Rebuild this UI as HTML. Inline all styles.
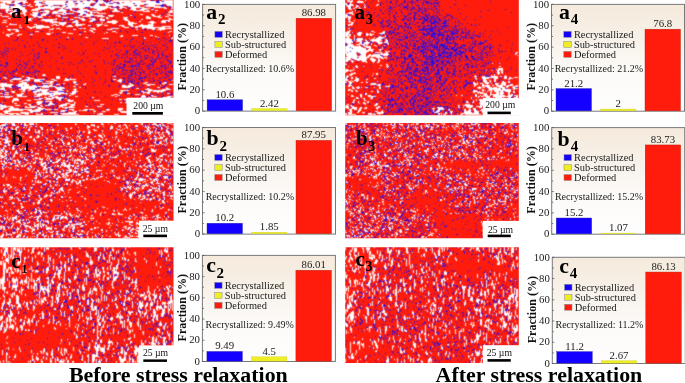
<!DOCTYPE html>
<html><head><meta charset="utf-8"><style>
html,body{margin:0;padding:0;background:#fff;}
svg{display:block;will-change:transform;}
text{font-family:"Liberation Serif",serif;fill:#111;}
.v{font-size:10.8px;fill:#1a1a1a;}
.t{font-size:10.8px;fill:#1a1a1a;}
.l{font-size:10.4px;fill:#1a1a1a;}
.r{font-size:10px;fill:#1a1a1a;}
.pl{font-size:21.8px;font-weight:bold;fill:#000;}
.ps{font-size:15px;font-weight:bold;fill:#000;}
.ml{font-size:21px;font-weight:bold;fill:#000;}
.ms{font-size:14.5px;font-weight:bold;fill:#000;}
.ms1{font-size:13.5px;font-weight:bold;fill:#000;}
.yt{font-size:12.1px;font-weight:bold;fill:#111;}
.cap{font-size:21.9px;font-weight:bold;fill:#000;}
.sb{font-size:9.7px;fill:#111;}
</style></head><body>
<svg width="685" height="383" viewBox="0 0 685 383">
<defs><filter id="sblr" x="-2%" y="-2%" width="104%" height="104%" color-interpolation-filters="sRGB"><feConvolveMatrix order="3" kernelMatrix="1 2 1 2 8 2 1 2 1" divisor="20" edgeMode="duplicate"/></filter><linearGradient id="bg" x1="0" y1="0" x2="0" y2="1">
<stop offset="0" stop-color="#f5eadc"/><stop offset="0.35" stop-color="#f8f2ea"/><stop offset="0.62" stop-color="#fcfaf7"/><stop offset="1" stop-color="#fefefe"/></linearGradient></defs>
<rect width="685" height="383" fill="#fff"/>
<clipPath id="cpa1"><rect x="0" y="0" width="173.50" height="115.30"/></clipPath>
<g clip-path="url(#cpa1)"><g filter="url(#sblr)">
<rect x="-2" y="-2" width="177.50" height="119.30" fill="#ff1c0c"/>
<path d="M0 0.5h27m8 0h52m3 0h3m5 0h5m6 0h1m3 0h37m12 0h11M0 1.5h12m3 0h11m8 0h9m2 0h21m2 0h5m4 0h3m3 0h12m3 0h6m7 0h19m1 0h10m5 0h10m3 0h3m2 0h9M3 2.5h8m3 0h6m3 0h5m6 0h5m4 0h22m3 0h28m1 0h9m2 0h5m6 0h3m2 0h32m4 0h13M0 3.5h5m2 0h11m5 0h2m11 0h5m4 0h29m4 0h5m1 0h7m5 0h7m1 0h5m4 0h4m3 0h13m2 0h38M0 4.5h6m9 0h5m9 0h2m4 0h10m1 0h19m2 0h9m1 0h13m5 0h4m6 0h39m4 0h14m4 0h7M0 5.5h9m6 0h6m1 0h4m1 0h3m5 0h7m6 0h5m10 0h12m1 0h14m4 0h6m6 0h28m3 0h3m5 0h10m12 0h6M0 6.5h22m8 0h3m5 0h2m4 0h7m1 0h8m2 0h4m2 0h40m5 0h3m3 0h4m5 0h12m4 0h1m1 0h15m10 0h2M0 7.5h9m2 0h14m13 0h27m1 0h19m5 0h21m9 0h6m5 0h13m10 0h12m6 0h1M0 8.5h25m10 0h20m6 0h2m2 0h7m7 0h4m11 0h13m3 0h7m2 0h3m4 0h1m4 0h5m6 0h8m14 0h3m4 0h2M6 9.5h3m7 0h10m6 0h8m10 0h4m5 0h6m5 0h2m8 0h8m9 0h8m9 0h3m13 0h6m4 0h7m4 0h3M5 10.5h11m6 0h5m4 0h7m6 0h5m9 0h9m3 0h4m4 0h12m2 0h10m11 0h5m15 0h11m3 0h2m6 0h3m12 0h3M6 11.5h2m5 0h4m5 0h5m10 0h1m2 0h10m3 0h13m7 0h11m3 0h5m20 0h8m23 0h7m19 0h4M6 12.5h2m2 0h5m8 0h3m6 0h7m7 0h3m3 0h6m5 0h3m11 0h9m4 0h9m22 0h2m32 0h1m12 0h5M0 13.5h2m6 0h6m1 0h10m8 0h5m5 0h6m3 0h12m1 0h9m6 0h8m2 0h2m6 0h8M10 14.5h3m3 0h2m6 0h2m4 0h8m3 0h6m15 0h4m14 0h3m3 0h7m47 0h3m8 0h3m13 0h3M0 15.5h2m11 0h1m10 0h2m6 0h5m4 0h5m10 0h4m18 0h4m4 0h17m5 0h6m16 0h2m20 0h3m4 0h2m8 0h4M2 16.5h7m3 0h2m19 0h9m7 0h1m8 0h3m21 0h9m6 0h8m4 0h4m33 0h3m4 0h7m5 0h4M34 17.5h1m3 0h5m19 0h6m6 0h6m22 0h1m3 0h2m15 0h5m18 0h5m7 0h4M8 18.5h3m18 0h4m23 0h1m22 0h5m5 0h6m5 0h2m4 0h3m15 0h3m19 0h5m17 0h3M27 19.5h4m11 0h15m5 0h1m7 0h4m7 0h5m6 0h4m4 0h5m18 0h5m13 0h2m26 0h4M3 20.5h4m21 0h4m9 0h12m22 0h3m4 0h3m5 0h5m5 0h5m7 0h4m9 0h4m33 0h8M45 21.5h12m16 0h5m11 0h4m14 0h11m10 0h2m9 0h2m9 0h4m7 0h5m2 0h2M2 22.5h5m43 0h17m5 0h7m22 0h2m4 0h10m11 0h6m14 0h8m5 0h5M10 23.5h1m41 0h1m6 0h7m10 0h2m27 0h1m6 0h4m12 0h9m14 0h3M9 24.5h8m17 0h3m16 0h4m2 0h6m10 0h10m11 0h7m25 0h5m8 0h2m5 0h5M19 25.5h2m15 0h8m7 0h2m3 0h3m3 0h2m4 0h4m3 0h7m6 0h3m6 0h4m3 0h4m11 0h5m5 0h4m6 0h15M6 26.5h2m19 0h2m4 0h16m17 0h7m4 0h1m19 0h2m23 0h3m6 0h3m1 0h18m9 0h9M19 27.5h3m6 0h7m1 0h14m74 0h5m6 0h3m4 0h23m4 0h1M30 28.5h2m4 0h6m10 0h2m2 0h4m19 0h3m1 0h3m4 0h5m16 0h8m23 0h2m3 0h8m4 0h13M7 29.5h4m1 0h6m31 0h4m7 0h1m12 0h3m17 0h3m11 0h5m24 0h2m14 0h3m2 0h8M8 30.5h3m5 0h3m70 0h4m67 0h1M15 31.5h4m16 0h4m10 0h1m34 0h2m5 0h2m19 0h4m53 0h3M3 32.5h1m48 0h1m9 0h4m27 0h2m11 0h2m8 0h1m51 0h1M11 33.5h3m32 0h5m17 0h5m31 0h1M6 34.5h6m6 0h4m8 0h3m14 0h3m29 0h2M6 35.5h3m8 0h2m102 0h2m9 0h6m12 0h3m16 0h1M8 36.5h2m110 0h3m32 0h2M67 37.5h2m16 0h3m56 0h1m13 0h1m13 0h1M102 38.5h7m35 0h2m25 0h2M16 73.5h1M36 74.5h1m6 0h2M42 75.5h4M22 76.5h2m32 0h4m53 0h3M3 77.5h3m20 0h4m26 0h4M5 78.5h2m6 0h9m6 0h6m22 0h4m5 0h2m3 0h1M11 79.5h10m4 0h5m4 0h11m6 0h4m10 0h11m37 0h3m3 0h3M10 80.5h1m11 0h8m4 0h6m14 0h3m7 0h5m48 0h5m50 0h1M10 81.5h3m6 0h4m4 0h1m6 0h9m3 0h8m19 0h3m42 0h4M22 82.5h5m23 0h3m20 0h4m43 0h1m24 0h3m16 0h3M0 83.5h7m12 0h8m15 0h10m11 0h2m9 0h1m10 0h1m43 0h2m12 0h3m16 0h4M0 84.5h13m5 0h11m22 0h2m3 0h4m15 0h3m5 0h3m44 0h3m13 0h9m8 0h1m5 0h4M0 85.5h12m4 0h7m1 0h5m3 0h4m7 0h5m1 0h3m70 0h4m2 0h6m13 0h3m10 0h1M0 86.5h11m7 0h38m4 0h1m12 0h3m46 0h10M2 87.5h2m5 0h3m9 0h16m5 0h7m6 0h9m15 0h2m41 0h8m27 0h3m6 0h1M0 88.5h5m16 0h14m5 0h1m15 0h9m10 0h1m60 0h3m8 0h2m17 0h3M0 89.5h5m6 0h1m7 0h7m3 0h7m1 0h12m8 0h5m11 0h4m68 0h7m10 0h9M4 90.5h2m17 0h2m3 0h2m6 0h12m9 0h7m3 0h1m6 0h2m44 0h9m19 0h18M11 91.5h4m6 0h4m8 0h7m1 0h6m2 0h9m9 0h1m4 0h6m43 0h2m18 0h3m4 0h3m2 0h11M5 92.5h4m3 0h3m18 0h4m5 0h7m5 0h10m8 0h4m43 0h3m21 0h7m7 0h2m2 0h1M0 93.5h3m18 0h3m11 0h1m2 0h30m2 0h6m44 0h2m5 0h3m13 0h1m3 0h3m17 0h3M4 94.5h5m7 0h7m11 0h18m1 0h8m5 0h1m4 0h3m40 0h4m17 0h5M17 95.5h5m15 0h5m3 0h1m4 0h5m14 0h2m40 0h3m4 0h2m22 0h3m6 0h2M0 96.5h13m4 0h10m7 0h6m8 0h5m2 0h3m17 0h3m37 0h2m24 0h5m6 0h5m10 0h6M5 97.5h5m34 0h3m5 0h12m28 0h2m47 0h5m2 0h3m12 0h8M13 98.5h5m21 0h4m3 0h8m2 0h6m3 0h2m95 0h8M13 99.5h6m15 0h7m4 0h7m6 0h3m7 0h2m49 0h3m2 0h4m5 0h2m17 0h3m5 0h5m4 0h4M12 100.5h7m8 0h4m28 0h2m6 0h7m20 0h6m26 0h7m3 0h2m11 0h3m9 0h12M12 101.5h2m23 0h6m2 0h7m16 0h5m53 0h2m1 0h5m15 0h1m3 0h4m5 0h5M2 102.5h1m9 0h1m23 0h6m8 0h2m22 0h2m44 0h2m3 0h5m5 0h1m9 0h23M14 103.5h3m7 0h3m10 0h5m7 0h4m12 0h5m4 0h1m58 0h2m10 0h14m11 0h3M0 104.5h2m26 0h3m6 0h3m8 0h7m6 0h6m3 0h5m25 0h4m39 0h6m9 0h8M0 105.5h6m9 0h5m9 0h2m9 0h2m3 0h5m9 0h8m4 0h4m54 0h9m4 0h7m8 0h7m3 0h3M0 106.5h13m12 0h2m3 0h7m4 0h2m16 0h4m6 0h4m12 0h3m9 0h5m29 0h8m1 0h5m14 0h4m6 0h1M0 107.5h7m3 0h4m11 0h10m2 0h4m18 0h1m2 0h13m57 0h6m4 0h1m4 0h2m3 0h1m3 0h5m5 0h4M0 108.5h4m4 0h11m19 0h7m20 0h2m51 0h5m15 0h5m2 0h4m2 0h4m14 0h4M0 109.5h3m6 0h23m3 0h8m2 0h7m2 0h4m11 0h5m10 0h4m1 0h5m12 0h4m8 0h5m28 0h8m3 0h5M5 110.5h18m5 0h13m20 0h6m5 0h2m5 0h2m1 0h5m7 0h1m12 0h2m9 0h3m15 0h6m7 0h10m4 0h7M3 111.5h8m19 0h10m20 0h5m9 0h3m16 0h3m6 0h4m14 0h7m10 0h3m8 0h23M4 112.5h4m12 0h9m1 0h3m17 0h8m10 0h8m45 0h6m7 0h7m6 0h3m7 0h3m8 0h5M0 113.5h2m3 0h14m2 0h8m7 0h1m4 0h2m17 0h16m18 0h1m4 0h4m37 0h4m8 0h8m9 0h4M0 114.5h5m4 0h5m2 0h5m4 0h4m7 0h7m11 0h4m4 0h17m18 0h6m11 0h5m11 0h7m2 0h20m11 0h3" stroke="#fff" stroke-width="1" fill="none"/>
<path d="M27 0.5h1m59 0h3m6 0h2m5 0h1m1 0h1m1 0h1m2 0h1m40 0h3m3 0h2M13 1.5h1m15 0h1m36 0h2m5 0h3m4 0h2m13 0h3m6 0h2m1 0h2m1 0h1m34 0h1m10 0h3m3 0h2M13 2.5h1m7 0h1m17 0h2m65 0h1m7 0h1m2 0h1m38 0h4M18 3.5h4m13 0h1m8 0h1m31 0h2m5 0h1m10 0h2m13 0h2m1 0h1m4 0h3m14 0h1M11 4.5h3m6 0h1m2 0h1m41 0h2m24 0h1m7 0h1m4 0h1m39 0h2m16 0h1m1 0h1M9 5.5h2m1 0h1m8 0h1m4 0h1m16 0h1m2 0h2m5 0h1m1 0h1m1 0h1m1 0h2m30 0h3m6 0h1m34 0h2m23 0h4m1 0h1M23 6.5h2m12 0h1m28 0h1m44 0h2m5 0h1m6 0h1m1 0h1m17 0h1m15 0h2m3 0h2m1 0h2M9 7.5h1m75 0h2m1 0h2m23 0h1m1 0h3m10 0h1m18 0h1m23 0h1M58 8.5h1m4 0h1m11 0h1m1 0h1m10 0h1m29 0h1m4 0h1m5 0h1m10 0h1m10 0h2m17 0h1M13 9.5h1m1 0h1m25 0h2m12 0h1m9 0h1m2 0h2m2 0h1m3 0h1m12 0h1m5 0h1m31 0h1M0 10.5h1m2 0h1m12 0h2m3 0h1m6 0h1m12 0h1m1 0h1m7 0h1m1 0h1m13 0h1m6 0h1m1 0h1m45 0h1m31 0h1m10 0h1M17 11.5h1m66 0h1m1 0h1m6 0h1m9 0h1m6 0h1m9 0h1m13 0h2M1 12.5h1m1 0h1m1 0h1m2 0h1m7 0h1m24 0h2m15 0h1m8 0h2m17 0h1m2 0h1m21 0h1m54 0h1M3 13.5h1m10 0h1m23 0h2m9 0h1m14 0h1m9 0h1m2 0h1m1 0h1m15 0h1m13 0h1m1 0h1m3 0h1m48 0h1M15 14.5h1m22 0h1m10 0h1m1 0h1m2 0h1m2 0h1m9 0h1m1 0h1m1 0h2m4 0h2m4 0h2m47 0h1m29 0h1m8 0h1M3 15.5h1m14 0h1m19 0h3m5 0h1m1 0h2m12 0h1m1 0h1m4 0h1m3 0h1m29 0h1m1 0h1m22 0h1m32 0h1M19 16.5h1m33 0h1m7 0h1m4 0h1m2 0h1m4 0h1m3 0h1m2 0h1m9 0h3m37 0h1m2 0h1M4 17.5h1m11 0h1m16 0h1m3 0h1m15 0h1m7 0h1m23 0h1m7 0h1m5 0h1m34 0h2M11 18.5h1m27 0h1m4 0h2m1 0h1m14 0h2m4 0h1m9 0h1m6 0h2m9 0h1m8 0h1m7 0h1M19 19.5h1m11 0h1m6 0h1m26 0h1m2 0h2m21 0h1M37 20.5h1m19 0h1m6 0h1m6 0h1m1 0h2m22 0h2m6 0h1m17 0h1m13 0h1m10 0h1m6 0h1M23 21.5h1m10 0h1m26 0h3m3 0h1m13 0h1m11 0h2m1 0h1m4 0h1m3 0h1m60 0h1M48 22.5h1m44 0h1M14 23.5h1m25 0h1m27 0h1m1 0h1m3 0h1m4 0h1m7 0h1m7 0h1m71 0h1M37 24.5h1m5 0h1m24 0h1m50 0h1m40 0h1M91 25.5h1M0 26.5h1m4 0h1m51 0h1m32 0h1M75 27.5h1m3 0h2m31 0h1m4 0h1m12 0h1M1 28.5h1m11 0h1m9 0h1m81 0h1m26 0h2m4 0h1M18 29.5h1m5 0h1m13 0h1m33 0h1m6 0h1m34 0h1m27 0h1m1 0h2m3 0h1M103 30.5h1m16 0h1m4 0h1m19 0h1m8 0h1m14 0h1M41 31.5h2m65 0h1m11 0h1m6 0h1m7 0h1M28 32.5h1m4 0h1m45 0h2m1 0h1m44 0h1m13 0h2M30 33.5h1m2 0h1m23 0h2m2 0h1m26 0h1m6 0h1m68 0h1M56 34.5h1m107 0h1M53 35.5h1m117 0h1M11 36.5h1m69 0h1m8 0h1m48 0h1m2 0h1M17 37.5h1m12 0h2m28 0h1m90 0h1m11 0h1m7 0h1M17 38.5h1m54 0h1m36 0h1m22 0h1m10 0h1m12 0h1m2 0h1m3 0h1m1 0h1m4 0h1M17 39.5h1m24 0h2m12 0h1m9 0h2m4 0h1m53 0h1m5 0h1m11 0h1m13 0h1m7 0h1M14 40.5h1m1 0h1m5 0h1m19 0h1m61 0h1m25 0h1m12 0h1m17 0h1m7 0h3M47 41.5h1m37 0h1m11 0h1m9 0h1m11 0h1m16 0h1m27 0h1m3 0h1m1 0h2M27 42.5h1m9 0h1m56 0h1m19 0h1m1 0h1m2 0h2m9 0h1m8 0h1m3 0h1m3 0h1m2 0h1m8 0h1M4 43.5h1m3 0h1m50 0h1m20 0h1m26 0h1m3 0h1m3 0h1m26 0h2m22 0h1m5 0h1M38 44.5h1m20 0h1m22 0h1m10 0h1m35 0h1m13 0h1m12 0h1m5 0h1M18 45.5h1m5 0h1m8 0h1m19 0h1m70 0h1m8 0h1m1 0h1m4 0h1m5 0h1m3 0h1m1 0h1m1 0h1m8 0h2m7 0h1M24 46.5h1m4 0h1m9 0h1m22 0h1m1 0h1m45 0h1m3 0h1m9 0h1m2 0h1m2 0h2m13 0h1m2 0h1m17 0h1M5 47.5h1m19 0h1m15 0h1m16 0h2m44 0h1m27 0h2m4 0h1m4 0h1m10 0h2m1 0h1m9 0h1M7 48.5h2m4 0h1m31 0h2m18 0h1m40 0h1m1 0h1m33 0h2m4 0h2m10 0h1M4 49.5h1m6 0h1m3 0h1m17 0h1m29 0h1m52 0h1m14 0h1m3 0h2m3 0h1m3 0h1m1 0h1m1 0h1m2 0h1m5 0h1m7 0h1m1 0h1M6 50.5h1m25 0h1m52 0h1m17 0h1m16 0h1m5 0h1m2 0h1m6 0h1m8 0h1m6 0h2m3 0h1m14 0h1M0 51.5h1m3 0h1m2 0h2m36 0h2m23 0h1m38 0h1m2 0h1m13 0h2m5 0h3m2 0h1m6 0h1m2 0h1m4 0h1m1 0h1m3 0h1m2 0h1m1 0h1M2 52.5h1m1 0h1m15 0h1m17 0h1m6 0h2m36 0h1m34 0h1m7 0h2m5 0h1m1 0h1m3 0h1m1 0h1m7 0h1m2 0h2m3 0h1M1 53.5h1m3 0h1m24 0h1m3 0h1m4 0h1m18 0h1m19 0h1m4 0h1m10 0h1m3 0h1m26 0h1m8 0h1m1 0h1m2 0h1m12 0h1m5 0h1m2 0h2m6 0h1M1 54.5h1m1 0h1m2 0h1m30 0h2m10 0h1m33 0h1m31 0h2m4 0h1m1 0h1m1 0h1m1 0h1m2 0h1m2 0h1m2 0h3m15 0h1m3 0h1m3 0h1m8 0h1M3 55.5h1m18 0h1m4 0h1m6 0h1m46 0h1m29 0h1m4 0h1m1 0h1m4 0h1m9 0h1m1 0h1m3 0h2m3 0h1m1 0h2m10 0h1m3 0h2m1 0h1m3 0h1M7 56.5h1m11 0h1m14 0h1m3 0h2m59 0h1m11 0h1m6 0h1m8 0h1m16 0h1m3 0h1m3 0h1m5 0h1m7 0h2m1 0h1M1 57.5h1m1 0h1m32 0h1m14 0h1m9 0h2m24 0h1m33 0h2m3 0h1m8 0h2m3 0h2m3 0h1m4 0h1m6 0h2m3 0h1m2 0h2M37 58.5h2m22 0h1m54 0h1m1 0h1m6 0h1m3 0h3m1 0h1m11 0h3m4 0h1m3 0h1m3 0h1m10 0h1M6 59.5h1m9 0h1m16 0h2m96 0h1m9 0h1m2 0h1m7 0h1m1 0h1m1 0h1m2 0h1m4 0h1m2 0h1M20 60.5h1m8 0h1m51 0h2m9 0h1m10 0h1m9 0h3m8 0h1m5 0h1m1 0h1m3 0h1m4 0h1m8 0h2m3 0h1m11 0h2m1 0h1M0 61.5h1m18 0h1m3 0h1m4 0h1m6 0h1m5 0h1m14 0h1m32 0h2m13 0h1m10 0h1m8 0h2m1 0h3m5 0h1m4 0h2m1 0h1m7 0h1m1 0h3m5 0h1m6 0h1m1 0h1M6 62.5h2m18 0h1m14 0h1m26 0h1m2 0h1m8 0h1m2 0h1m27 0h1m1 0h1m11 0h1m1 0h1m1 0h2m1 0h1m4 0h1m1 0h1m12 0h1m1 0h1m5 0h1m2 0h1m5 0h3M5 63.5h3m8 0h1m7 0h2m8 0h2m26 0h1m15 0h1m25 0h1m3 0h1m5 0h1m5 0h1m16 0h1m1 0h1m3 0h1m1 0h1m3 0h1m2 0h1m8 0h1m8 0h1M0 64.5h1m6 0h1m11 0h2m5 0h2m10 0h1m30 0h1m3 0h1m37 0h1m1 0h1m6 0h1m2 0h3m5 0h1m4 0h1m1 0h2m1 0h1m1 0h1m5 0h1m1 0h3m11 0h1m2 0h1M0 65.5h3m3 0h2m10 0h1m3 0h1m2 0h1m13 0h1m2 0h1m70 0h1m3 0h2m4 0h2m7 0h1m1 0h2m2 0h1m8 0h2m1 0h1m10 0h2m1 0h1m7 0h1M4 66.5h2m11 0h1m3 0h1m9 0h3m5 0h1m10 0h1m34 0h1m8 0h2m20 0h1m7 0h2m2 0h1m1 0h4m1 0h2m1 0h1m7 0h1m1 0h1m3 0h2m7 0h2m1 0h1m1 0h1m1 0h1m2 0h2M5 67.5h1m18 0h1m1 0h1m5 0h1m44 0h1m40 0h6m8 0h1m6 0h2m8 0h1m7 0h1m2 0h1m4 0h1M16 68.5h1m3 0h1m3 0h1m4 0h1m11 0h1m15 0h1m55 0h1m1 0h2m2 0h1m2 0h1m13 0h1m10 0h2m1 0h1m5 0h1m1 0h1m5 0h2m1 0h1M2 69.5h1m4 0h1m8 0h1m12 0h1m3 0h1m24 0h1m4 0h1m48 0h1m5 0h1m4 0h2m7 0h2m2 0h2m1 0h1m1 0h1m7 0h1m3 0h1m5 0h1m1 0h1M13 70.5h1m1 0h2m5 0h1m12 0h2m58 0h1m9 0h1m6 0h1m4 0h1m4 0h1m2 0h3m2 0h2m2 0h1m7 0h1m10 0h1m1 0h1m9 0h1m4 0h1M0 71.5h1m1 0h1m2 0h1m2 0h1m3 0h3m4 0h1m6 0h1m7 0h1m2 0h3m38 0h1m35 0h2m6 0h1m7 0h1m1 0h2m4 0h1m4 0h2m5 0h1m2 0h1m5 0h1m2 0h1m3 0h1m1 0h1m1 0h2M0 72.5h1m4 0h1m4 0h1m2 0h1m7 0h1m4 0h5m1 0h1m1 0h2m59 0h2m22 0h1m5 0h1m3 0h1m1 0h1m3 0h1m3 0h2m2 0h1m6 0h1m11 0h1m2 0h1m2 0h2m1 0h2M3 73.5h1m5 0h1m1 0h1m1 0h1m8 0h1m2 0h1m1 0h1m35 0h1m1 0h1m14 0h1m15 0h1m8 0h1m8 0h2m6 0h1m1 0h1m2 0h1m3 0h2m1 0h2m4 0h2m2 0h1m8 0h1m1 0h2m3 0h2m3 0h1m4 0h2M3 74.5h1m7 0h1m11 0h1m2 0h1m1 0h1m3 0h1m2 0h1m1 0h1m74 0h2m6 0h1m2 0h1m1 0h1m5 0h1m3 0h2m9 0h1m2 0h1m6 0h2m7 0h2M4 75.5h1m1 0h1m5 0h1m22 0h1m36 0h1m40 0h1m3 0h1m10 0h5m5 0h3m8 0h1m3 0h1m2 0h1m10 0h2M3 76.5h1m2 0h1m6 0h2m15 0h1m4 0h1m6 0h1m26 0h1m2 0h1m10 0h1m27 0h1m7 0h1m15 0h1m9 0h2m21 0h1M0 77.5h1m12 0h2m1 0h3m16 0h1m9 0h1m9 0h1m58 0h1m2 0h1m5 0h1m3 0h4m4 0h1m3 0h2m1 0h1m1 0h2m2 0h1m13 0h1m1 0h3M0 78.5h1m8 0h4m9 0h1m2 0h2m9 0h1m8 0h1m1 0h1m20 0h2m22 0h1m7 0h1m10 0h1m6 0h1m2 0h1m1 0h3m6 0h1m3 0h1m2 0h4m1 0h1m7 0h2m5 0h2m11 0h1M0 79.5h1m22 0h1m22 0h1m8 0h1m49 0h1m5 0h1m16 0h2m1 0h1m1 0h1m4 0h2m9 0h1m18 0h3M4 80.5h1m10 0h1m17 0h1m6 0h4m36 0h1m13 0h1m16 0h1m12 0h1m2 0h1m3 0h1m2 0h1m5 0h1m1 0h1m6 0h1m3 0h2m2 0h2m5 0h1m5 0h1M1 81.5h2m3 0h1m2 0h1m5 0h1m10 0h1m1 0h1m14 0h1m11 0h1m5 0h1m43 0h1m5 0h3m8 0h1m1 0h1m3 0h5m1 0h1m2 0h1m3 0h2m8 0h1m1 0h1m6 0h1m3 0h1m1 0h1M4 82.5h1m26 0h3m7 0h1m2 0h1m10 0h1m21 0h1m14 0h1m11 0h1m17 0h1m1 0h1m3 0h1m2 0h2m5 0h1m9 0h1m10 0h2m6 0h1M30 83.5h1m3 0h1m20 0h3m9 0h1m4 0h1m3 0h1m48 0h1m1 0h1m5 0h2m1 0h3m13 0h1m3 0h1m2 0h2m9 0h1M16 84.5h1m17 0h1m1 0h1m5 0h1m2 0h3m6 0h2m6 0h1m5 0h1m13 0h1m20 0h1m15 0h2m5 0h1m11 0h1m26 0h2M13 85.5h1m1 0h1m20 0h2m2 0h1m1 0h1m10 0h1m1 0h1m5 0h2m2 0h1m27 0h1m14 0h2m28 0h1m3 0h2m15 0h1m5 0h1M12 86.5h2m1 0h3m40 0h2m1 0h1m1 0h1m4 0h1m7 0h1m5 0h1m26 0h1m8 0h2m14 0h1m28 0h2M5 87.5h1m6 0h1m1 0h1m3 0h3m16 0h3m12 0h1m1 0h1m30 0h1m45 0h2m1 0h1m2 0h1m1 0h2m1 0h1m4 0h2m12 0h3M5 88.5h1m5 0h1m3 0h3m17 0h1m2 0h1m6 0h1m1 0h1m2 0h1m34 0h1m39 0h1m2 0h1m3 0h1m23 0h1m13 0h1M8 89.5h1m4 0h1m22 0h1m16 0h1m9 0h2m3 0h1m59 0h1m4 0h1m23 0h1M0 90.5h1m2 0h1m13 0h1m7 0h1m6 0h3m13 0h1m4 0h1m86 0h1m3 0h2m23 0h1M4 91.5h2m1 0h2m23 0h1m7 0h1m17 0h1m1 0h4m30 0h1m30 0h2m11 0h1m1 0h1m3 0h1m21 0h1M2 92.5h2m5 0h1m16 0h1m10 0h1m11 0h2m13 0h2m1 0h1m3 0h1m23 0h1m4 0h1m23 0h1m1 0h1m13 0h1m1 0h1m19 0h1m5 0h1m2 0h1M4 93.5h1m71 0h1m10 0h1m37 0h2m10 0h1m12 0h1m5 0h1m5 0h1m3 0h1m4 0h1M1 94.5h1m1 0h1m8 0h1m13 0h1m25 0h1m14 0h1m63 0h2m19 0h1m8 0h1m8 0h1m1 0h1M3 95.5h1m1 0h1m3 0h1m12 0h1m26 0h1m10 0h1m3 0h1m66 0h1m17 0h2m5 0h1m1 0h1m4 0h1m6 0h1M29 96.5h1m2 0h1m14 0h1m11 0h1m2 0h3m2 0h1m37 0h1m13 0h2m12 0h1m5 0h2m5 0h2m2 0h1m10 0h1m1 0h1M4 97.5h1m29 0h1m2 0h1m2 0h1m10 0h1m12 0h2m1 0h1m22 0h1m6 0h1m37 0h1m26 0h1m8 0h1M36 98.5h1m1 0h1m23 0h1m5 0h1m12 0h1m8 0h1m40 0h1m24 0h1m2 0h1M42 99.5h1m11 0h2m6 0h1m49 0h1m15 0h1m10 0h1m17 0h1M3 100.5h3m14 0h1m23 0h2m11 0h1m4 0h1m55 0h1m4 0h1m18 0h1m9 0h1M44 101.5h1m10 0h1m11 0h1m17 0h1m37 0h1m1 0h1m21 0h1m20 0h1m2 0h1M43 102.5h2m3 0h1m4 0h1m1 0h1m8 0h1m28 0h1m48 0h1m27 0h1M0 103.5h2m9 0h1m22 0h1m7 0h1m1 0h1m1 0h2m6 0h1m1 0h1m4 0h1m65 0h1m2 0h1m33 0h2m1 0h1M2 104.5h2m18 0h1m9 0h2m11 0h1m1 0h1m7 0h1m3 0h1m26 0h2m6 0h1m4 0h1m11 0h1m26 0h1m18 0h1M37 105.5h1m1 0h1m4 0h1m7 0h2m3 0h1m82 0h2M47 106.5h3m3 0h1m3 0h1m32 0h1m13 0h1m59 0h2M22 107.5h2m12 0h1m8 0h1m5 0h1m1 0h1m2 0h1m39 0h1m68 0h1m4 0h1M19 108.5h1m3 0h1m8 0h1m18 0h1m1 0h1m2 0h1m11 0h1m37 0h1M3 109.5h1m40 0h1m7 0h1m12 0h3m30 0h1m29 0h1m38 0h1m1 0h1m1 0h1M41 110.5h1m1 0h2m7 0h2m6 0h1m27 0h1m11 0h1m32 0h1m12 0h1M41 111.5h1m1 0h1m1 0h2m4 0h1m3 0h1m9 0h3m3 0h1m16 0h1m26 0h1M33 112.5h2m4 0h1m19 0h1m1 0h2m4 0h1m10 0h1m20 0h1m7 0h1M43 113.5h1m13 0h1m1 0h1m35 0h1m36 0h1m3 0h1m11 0h1M46 114.5h2m4 0h2m4 0h2m27 0h1m1 0h1m5 0h1m30 0h1" stroke="#2d0ce1" stroke-width="1" fill="none"/>
</g></g>
<rect x="126.50" y="97.70" width="47.50" height="18.10" fill="#fff"/>
<text x="133.30" y="108.60" class="sb">200 µm</text>
<rect x="132.30" y="112.00" width="30.60" height="2.70" fill="#000"/>
<clipPath id="cpb1"><rect x="0" y="123.1" width="173.50" height="115.20"/></clipPath>
<g clip-path="url(#cpb1)"><g filter="url(#sblr)">
<rect x="-2" y="121.1" width="177.50" height="119.20" fill="#ff1c0c"/>
<path d="M5 123.5h2m2 0h1m1 0h4m3 0h1m2 0h1m2 0h2m3 0h5m2 0h1m12 0h1m25 0h1m8 0h1m16 0h2m5 0h1m5 0h2m15 0h1m7 0h1m1 0h2m10 0h3m5 0h2m4 0h5M2 124.5h4m1 0h1m4 0h3m6 0h1m2 0h2m3 0h5m2 0h1m20 0h1m17 0h2m14 0h2m1 0h1m6 0h3m20 0h2m15 0h2m6 0h1m2 0h5m2 0h2m2 0h1m8 0h1M0 125.5h6m6 0h4m8 0h4m30 0h1m28 0h1m3 0h4m16 0h1m7 0h2m2 0h1m1 0h2m2 0h1m5 0h3m7 0h1m10 0h3m1 0h1m1 0h3M0 126.5h1m1 0h1m14 0h2m11 0h2m3 0h2m3 0h1m46 0h3m4 0h1m2 0h2m4 0h1m7 0h2m5 0h2m6 0h1m8 0h3m5 0h1m1 0h1m1 0h2m9 0h1m1 0h1m4 0h1m1 0h2M0 127.5h1m1 0h1m3 0h2m3 0h1m4 0h3m4 0h2m1 0h1m2 0h1m10 0h3m8 0h1m19 0h1m6 0h1m8 0h3m7 0h2m11 0h3m7 0h1m5 0h2m17 0h2m1 0h2m3 0h2m6 0h1m4 0h1M0 128.5h3m1 0h1m1 0h1m4 0h2m2 0h2m12 0h1m11 0h2m22 0h2m3 0h2m15 0h1m22 0h3m3 0h1m7 0h1m2 0h1m8 0h1m10 0h2m1 0h1m5 0h1m4 0h2m4 0h2m3 0h1M1 129.5h1m3 0h2m5 0h1m2 0h2m11 0h2m5 0h1m5 0h2m4 0h1m2 0h1m1 0h2m12 0h1m21 0h1m4 0h2m15 0h1m6 0h3m2 0h1m7 0h1m6 0h1m9 0h2m7 0h1m4 0h1m4 0h1m4 0h2M1 130.5h1m3 0h2m5 0h2m2 0h1m2 0h1m8 0h2m5 0h1m2 0h2m7 0h1m4 0h2m4 0h1m7 0h2m11 0h1m9 0h1m4 0h3m5 0h1m17 0h2m9 0h1m13 0h1m1 0h3m5 0h1m10 0h2m4 0h1M0 131.5h2m6 0h2m25 0h1m2 0h2m37 0h1m1 0h1m3 0h2m3 0h2m12 0h1m12 0h2m9 0h1m4 0h1m12 0h1m1 0h2m1 0h2m1 0h1m2 0h1m10 0h3M9 132.5h1m7 0h3m5 0h2m8 0h5m2 0h1m4 0h1m10 0h1m20 0h1m3 0h1m4 0h3m25 0h2m4 0h1m16 0h1m7 0h1m1 0h4m2 0h1m1 0h3m2 0h2m2 0h4M1 133.5h2m6 0h1m9 0h1m5 0h3m11 0h1m12 0h1m4 0h2m8 0h1m10 0h1m9 0h2m12 0h1m12 0h2m5 0h1m5 0h1m10 0h1m3 0h1m5 0h2m4 0h1m2 0h1m3 0h1m5 0h2M1 134.5h1m3 0h2m6 0h1m28 0h1m18 0h1m37 0h1m3 0h1m12 0h1m11 0h1m1 0h1m8 0h1m8 0h1m1 0h1m8 0h1m1 0h1m1 0h1m4 0h2M0 135.5h3m9 0h1m7 0h1m16 0h2m3 0h1m18 0h1m1 0h1m8 0h1m4 0h1m2 0h2m16 0h4m2 0h1m23 0h1m1 0h2m7 0h1m14 0h1m4 0h1m3 0h1M6 136.5h1m5 0h1m10 0h1m6 0h2m5 0h3m22 0h2m2 0h1m10 0h3m7 0h2m5 0h2m3 0h3m2 0h1m11 0h1m17 0h1m14 0h1m4 0h2m4 0h1m2 0h2m4 0h1m1 0h2M6 137.5h2m21 0h3m4 0h3m6 0h1m21 0h2m1 0h1m5 0h1m2 0h1m7 0h2m12 0h2m9 0h1m2 0h2m19 0h1m19 0h1m3 0h3m9 0h1M0 138.5h2m3 0h1m1 0h2m9 0h1m15 0h1m11 0h2m10 0h1m3 0h1m16 0h2m21 0h1m47 0h2m2 0h3m1 0h5m3 0h2m3 0h2M2 139.5h6m9 0h1m15 0h2m23 0h1m1 0h2m9 0h2m4 0h1m10 0h4m6 0h2m5 0h2m8 0h1m2 0h1m27 0h1m3 0h1m4 0h2m8 0h2M5 140.5h3m1 0h1m16 0h1m6 0h3m7 0h1m3 0h1m3 0h1m1 0h2m6 0h2m9 0h2m3 0h1m8 0h2m11 0h4m15 0h1m15 0h1m10 0h2m8 0h1m7 0h1m1 0h2m3 0h1M0 141.5h1m4 0h6m14 0h1m9 0h1m14 0h2m10 0h1m9 0h2m2 0h1m9 0h1m4 0h2m7 0h1m7 0h1m9 0h2m14 0h1m3 0h1m3 0h2m11 0h1m4 0h2m2 0h1m1 0h1m5 0h1M0 142.5h1m3 0h5m26 0h1m19 0h2m1 0h1m3 0h2m4 0h2m11 0h1m3 0h2m3 0h4m3 0h2m9 0h2m35 0h1m8 0h2m3 0h2m5 0h1m3 0h3M0 143.5h1m4 0h2m1 0h1m5 0h2m2 0h2m20 0h1m7 0h3m12 0h2m2 0h3m20 0h1m1 0h2m4 0h2m4 0h2m2 0h1m8 0h1m7 0h2m10 0h1m17 0h1m3 0h3m5 0h1m3 0h2M0 144.5h2m6 0h2m5 0h1m2 0h2m29 0h1m13 0h1m3 0h3m7 0h1m14 0h1m1 0h2m8 0h2m9 0h1m14 0h2m24 0h3m3 0h1m1 0h1m1 0h1M4 145.5h2m2 0h2m3 0h2m3 0h1m32 0h2m11 0h1m7 0h1m6 0h1m1 0h1m4 0h1m6 0h1m8 0h1m5 0h1m3 0h1m2 0h1m3 0h1m12 0h1m17 0h3m1 0h1m10 0h1M4 146.5h3m6 0h1m8 0h1m22 0h1m6 0h1m7 0h2m4 0h1m2 0h2m6 0h1m1 0h1m1 0h1m4 0h1m5 0h2m9 0h1m8 0h1m6 0h2m15 0h1m12 0h1m4 0h1M3 147.5h1m8 0h2m26 0h1m15 0h1m13 0h1m9 0h1m2 0h4m7 0h1m24 0h2m21 0h1M0 148.5h1m2 0h2m4 0h1m2 0h3m4 0h1m2 0h1m1 0h2m9 0h1m15 0h1m4 0h1m18 0h1m5 0h3m1 0h1m18 0h1m15 0h2m2 0h1m2 0h2m1 0h2m10 0h1m8 0h1M1 149.5h3m8 0h2m6 0h2m3 0h2m4 0h1m13 0h2m4 0h2m9 0h1m2 0h1m3 0h3m2 0h2m1 0h1m2 0h1m10 0h1m16 0h1m4 0h1m8 0h4m1 0h2m2 0h1m4 0h1m3 0h2m9 0h3m2 0h1m11 0h2M0 150.5h3m2 0h2m9 0h1m3 0h1m4 0h2m4 0h1m6 0h1m7 0h1m6 0h2m10 0h1m3 0h2m2 0h4m5 0h1m8 0h2m14 0h2m3 0h1m20 0h1m2 0h1m14 0h5m12 0h2M0 151.5h1m1 0h2m1 0h3m7 0h2m15 0h1m29 0h1m7 0h1m2 0h1m2 0h1m2 0h2m2 0h3m6 0h1m6 0h1m7 0h1m18 0h1m24 0h5M0 152.5h2m3 0h2m3 0h1m4 0h3m13 0h2m20 0h1m16 0h1m9 0h1m2 0h2m10 0h3m11 0h1m11 0h1m4 0h1M0 153.5h2m2 0h2m4 0h1m3 0h4m17 0h4m6 0h1m9 0h2m11 0h1m22 0h2m14 0h1m14 0h1m17 0h2m21 0h1M0 154.5h1m4 0h2m1 0h1m5 0h1m5 0h2m13 0h1m2 0h1m6 0h1m15 0h1m1 0h2m6 0h1m8 0h1m5 0h2m1 0h1m2 0h3m8 0h2m1 0h2m26 0h1m5 0h2m20 0h5m4 0h1M0 155.5h3m2 0h2m6 0h2m5 0h1m1 0h1m2 0h1m5 0h3m11 0h1m1 0h2m12 0h2m1 0h1m5 0h2m2 0h1m6 0h1m11 0h2m7 0h1m14 0h2m15 0h1m15 0h1m9 0h3m5 0h1m1 0h2M0 156.5h6m7 0h2m5 0h1m7 0h1m3 0h1m12 0h1m2 0h1m2 0h1m10 0h3m3 0h3m8 0h1m1 0h2m2 0h1m3 0h1m1 0h4m6 0h1m8 0h1m4 0h2m10 0h1m20 0h3m8 0h4m5 0h1M1 157.5h3m2 0h1m3 0h1m2 0h1m7 0h2m1 0h1m10 0h2m2 0h1m7 0h1m1 0h1m7 0h1m9 0h2m3 0h1m9 0h1m2 0h2m6 0h2m6 0h2m7 0h1m1 0h5m22 0h1m6 0h3m7 0h1M0 158.5h2m2 0h3m3 0h1m1 0h1m11 0h1m8 0h1m1 0h3m1 0h2m1 0h1m4 0h1m1 0h1m6 0h1m3 0h1m12 0h1m3 0h1m8 0h1m6 0h1m40 0h1m11 0h2m8 0h1m1 0h2M6 159.5h1m1 0h1m1 0h2m5 0h1m6 0h3m6 0h1m5 0h4m3 0h1m2 0h1m6 0h1m1 0h3m7 0h1m1 0h1m1 0h1m2 0h1m1 0h4m5 0h3m20 0h1m23 0h1m13 0h3m7 0h2m1 0h3m2 0h1m4 0h1M1 160.5h1m2 0h1m2 0h1m5 0h3m1 0h2m7 0h2m7 0h1m5 0h1m5 0h1m2 0h2m5 0h3m3 0h2m2 0h1m4 0h1m1 0h7m1 0h2m1 0h1m8 0h2m8 0h1m15 0h1m18 0h2m7 0h2m6 0h2m3 0h1m3 0h2m3 0h1M0 161.5h2m1 0h2m9 0h2m2 0h3m10 0h1m3 0h1m5 0h2m7 0h2m4 0h3m4 0h1m2 0h2m6 0h1m5 0h4m6 0h1m16 0h1m12 0h1m6 0h1m2 0h1m5 0h1m11 0h3m1 0h1m6 0h2m5 0h1m3 0h1m1 0h1M4 162.5h3m1 0h2m5 0h1m2 0h2m3 0h1m4 0h1m4 0h3m3 0h3m2 0h2m2 0h1m3 0h6m3 0h1m1 0h2m4 0h1m4 0h2m1 0h1m3 0h3m1 0h1m7 0h1m42 0h2m11 0h2m9 0h1m7 0h1m1 0h1m1 0h1M1 163.5h2m2 0h2m3 0h3m1 0h2m3 0h2m6 0h1m1 0h2m2 0h2m6 0h5m2 0h1m4 0h1m8 0h4m3 0h1m4 0h1m1 0h3m2 0h2m1 0h2m5 0h2m17 0h1m13 0h2m19 0h1m4 0h1m8 0h1M2 164.5h3m5 0h2m5 0h1m1 0h1m5 0h2m13 0h4m1 0h1m15 0h2m1 0h2m2 0h2m10 0h1m1 0h1m8 0h1m11 0h1m9 0h1m10 0h1m7 0h1m11 0h1m5 0h1m1 0h2m14 0h1M4 165.5h1m10 0h3m3 0h2m1 0h2m4 0h1m10 0h2m2 0h2m8 0h1m1 0h2m2 0h13m3 0h2m25 0h1m8 0h1m1 0h1m8 0h1m10 0h2m3 0h1m2 0h2m3 0h4m1 0h1m5 0h4m5 0h1M2 166.5h2m2 0h1m8 0h1m1 0h2m2 0h2m1 0h1m5 0h2m10 0h4m5 0h1m2 0h1m2 0h2m1 0h1m3 0h6m2 0h2m1 0h1m1 0h2m23 0h1m13 0h1m7 0h1m14 0h3m3 0h3m1 0h2m6 0h2m1 0h2m6 0h1M2 167.5h1m2 0h1m2 0h1m1 0h1m17 0h1m2 0h1m12 0h2m2 0h3m9 0h1m6 0h3m5 0h1m6 0h1m3 0h2m8 0h1m32 0h1m11 0h1m5 0h1m2 0h2m2 0h1m7 0h2M2 168.5h2m6 0h1m4 0h1m11 0h2m1 0h1m3 0h1m8 0h5m2 0h1m17 0h2m4 0h5m2 0h1m2 0h1m1 0h3m40 0h1m15 0h1m8 0h1m4 0h1m3 0h3M3 169.5h1m13 0h2m9 0h2m3 0h1m9 0h2m1 0h1m3 0h3m9 0h1m6 0h3m9 0h2m1 0h3m43 0h1m7 0h1m4 0h3m5 0h1m3 0h1m2 0h3m2 0h1m2 0h3m2 0h2M29 170.5h1m7 0h2m4 0h1m2 0h1m3 0h3m10 0h1m2 0h6m1 0h1m1 0h1m5 0h2m2 0h1m10 0h6m9 0h3m13 0h4m2 0h1m10 0h1m2 0h2m2 0h1m1 0h1m5 0h3m4 0h1m5 0h1M32 171.5h1m4 0h2m7 0h1m3 0h1m1 0h1m4 0h4m2 0h1m5 0h3m1 0h5m6 0h5m7 0h1m15 0h1m25 0h1m8 0h1m4 0h2m4 0h2m4 0h1M35 172.5h2m2 0h1m1 0h1m1 0h1m1 0h3m2 0h2m7 0h2m5 0h4m4 0h3m4 0h2m3 0h3m21 0h1m2 0h1m24 0h1m11 0h4m3 0h5m5 0h3M3 173.5h1m32 0h1m2 0h1m3 0h1m7 0h2m1 0h1m2 0h1m4 0h2m1 0h3m5 0h1m4 0h1m22 0h1m4 0h1m31 0h1m2 0h1m8 0h1m2 0h1m1 0h2m6 0h1m1 0h2m2 0h2M4 174.5h1m31 0h1m1 0h3m13 0h2m5 0h3m1 0h2m6 0h1m2 0h1m1 0h3m13 0h1m6 0h1m24 0h1m10 0h2m10 0h2m5 0h4m7 0h1m4 0h1M3 175.5h1m22 0h1m8 0h2m3 0h1m2 0h1m3 0h1m1 0h1m4 0h2m2 0h1m4 0h2m1 0h3m2 0h1m4 0h1m1 0h2m7 0h2m24 0h2m8 0h1m13 0h2m4 0h1m2 0h2m9 0h2m1 0h1M2 176.5h2m9 0h1m11 0h1m10 0h1m3 0h1m4 0h3m5 0h2m3 0h2m2 0h2m1 0h1m1 0h1m3 0h1m10 0h1m4 0h1m5 0h1m6 0h3m11 0h1m4 0h1m17 0h1m8 0h3m7 0h3m4 0h5M6 177.5h1m6 0h1m1 0h1m4 0h2m13 0h2m6 0h1m1 0h1m4 0h1m3 0h1m2 0h4m2 0h3m15 0h2m14 0h2m1 0h1m5 0h1m9 0h2m1 0h1m4 0h1m6 0h1m4 0h2m26 0h4M20 178.5h1m13 0h3m7 0h1m11 0h2m8 0h1m2 0h1m16 0h2m4 0h3m1 0h2m19 0h3m3 0h1m11 0h2m2 0h4m6 0h2m4 0h3m6 0h2m1 0h1m2 0h1M6 179.5h1m13 0h1m35 0h2m7 0h5m2 0h1m4 0h1m5 0h1m2 0h2m2 0h2m2 0h2m27 0h2m9 0h3m1 0h8m4 0h2m1 0h4m1 0h1m9 0h1M20 180.5h1m11 0h1m2 0h1m2 0h1m7 0h2m1 0h1m15 0h5m2 0h3m4 0h2m1 0h3m19 0h1m34 0h4m4 0h1m5 0h2m1 0h2M32 181.5h1m2 0h1m1 0h2m1 0h1m8 0h2m2 0h2m2 0h1m13 0h2m2 0h2m2 0h2m26 0h2m17 0h2m1 0h1m3 0h1m1 0h1m3 0h1m4 0h2m5 0h2m1 0h1m2 0h1m6 0h2M35 182.5h1m1 0h5m8 0h1m5 0h2m13 0h2m3 0h1m1 0h3m28 0h1m16 0h3m3 0h3m8 0h1m6 0h3m4 0h1m6 0h1M19 183.5h1m25 0h2m19 0h2m8 0h3m1 0h1m34 0h1m11 0h2m1 0h1m5 0h5m5 0h1m4 0h2m3 0h4m1 0h2m5 0h1m1 0h1M3 184.5h1m2 0h4m11 0h1m3 0h1m6 0h3m8 0h3m4 0h1m4 0h1m1 0h1m6 0h1m1 0h2m2 0h1m6 0h1m49 0h1m11 0h1m5 0h2m1 0h1m4 0h1m7 0h3M3 185.5h2m2 0h3m40 0h1m4 0h2m2 0h1m20 0h2m41 0h1m5 0h1m9 0h1m2 0h6m10 0h2m2 0h2m6 0h1m1 0h1M7 186.5h1m2 0h2m29 0h1m8 0h2m75 0h2m1 0h2m9 0h1m1 0h2m2 0h1m2 0h2m7 0h1m9 0h2M10 187.5h2m3 0h1m7 0h2m5 0h3m8 0h1m11 0h1m7 0h2m14 0h1m7 0h2m33 0h1m2 0h3m1 0h4m2 0h1m2 0h1m1 0h1m3 0h2m8 0h1m1 0h1m1 0h1m2 0h1m9 0h3M4 188.5h1m3 0h2m4 0h1m9 0h1m6 0h1m16 0h1m3 0h2m6 0h3m58 0h2m2 0h2m2 0h2m3 0h1m1 0h4m2 0h2m8 0h5m1 0h2m8 0h2m1 0h1M4 189.5h1m12 0h1m5 0h3m3 0h1m18 0h1m10 0h4m6 0h2m50 0h2m7 0h1m4 0h2m4 0h1m7 0h3m6 0h2m11 0h1M3 190.5h2m1 0h1m8 0h2m2 0h1m20 0h1m13 0h1m4 0h1m1 0h3m4 0h1m52 0h1m4 0h1m10 0h2m9 0h4m3 0h3m1 0h1M3 191.5h4m23 0h1m4 0h2m17 0h1m3 0h2m3 0h1m15 0h1m46 0h2m6 0h1m12 0h2m6 0h1m1 0h1m1 0h2m3 0h1m7 0h1M4 192.5h1m11 0h3m11 0h1m20 0h2m3 0h2m1 0h1m8 0h1m8 0h2m53 0h4m7 0h1m6 0h1m11 0h3m4 0h1m2 0h1M5 193.5h1m9 0h3m11 0h2m20 0h1m1 0h2m2 0h1m6 0h1m59 0h1m5 0h1m1 0h1m1 0h1m25 0h1m2 0h2m4 0h1M14 194.5h1m6 0h1m2 0h1m6 0h1m14 0h1m4 0h1m77 0h4m7 0h1m6 0h2m3 0h2m9 0h2M24 195.5h1m3 0h2m8 0h2m5 0h3m1 0h3m71 0h1m5 0h3m6 0h3m2 0h2m2 0h2m3 0h1m4 0h1m5 0h2m2 0h2m1 0h3M0 196.5h1m1 0h1m7 0h1m1 0h1m15 0h2m9 0h1m4 0h3m3 0h1m10 0h2m2 0h1m15 0h2m46 0h3m7 0h2m1 0h3m12 0h2m11 0h3M0 197.5h3m6 0h4m3 0h1m5 0h2m15 0h1m4 0h1m9 0h1m6 0h2m6 0h2m59 0h2m7 0h1m4 0h2m7 0h2m8 0h2M11 198.5h2m1 0h1m2 0h2m21 0h2m42 0h2m44 0h1m7 0h1m3 0h3m2 0h1m2 0h2m1 0h2m4 0h1m4 0h1m5 0h2M9 199.5h2m7 0h1m10 0h1m6 0h1m3 0h2m8 0h2m7 0h1m25 0h1m38 0h1m9 0h1m5 0h3m3 0h2m1 0h3m7 0h2m3 0h1m7 0h1M18 200.5h3m8 0h1m8 0h3m9 0h3m13 0h1m3 0h2m78 0h1m7 0h2m2 0h2M1 201.5h1m21 0h2m1 0h1m11 0h2m11 0h1m10 0h1m12 0h1m86 0h2m3 0h1M5 202.5h1m6 0h2m19 0h1m3 0h3m100 0h1m21 0h3M4 203.5h1m1 0h1m5 0h3m5 0h2m11 0h2m2 0h3m4 0h1m115 0h1m3 0h1M21 204.5h1m11 0h1m10 0h1m2 0h1M21 205.5h1m25 0h2m18 0h1m17 0h1M1 206.5h2m11 0h1m6 0h2m44 0h1m34 0h1m52 0h1m3 0h1M2 207.5h1m18 0h3m14 0h1m64 0h2m31 0h1m18 0h1m6 0h2M21 208.5h1m13 0h1m3 0h1m29 0h1m6 0h2m19 0h1m9 0h1m17 0h1m4 0h1m29 0h2M10 209.5h1m7 0h1m16 0h2m40 0h1m46 0h2m3 0h1m14 0h1m7 0h1m15 0h2M5 210.5h2m9 0h3m5 0h2m10 0h1m1 0h3m36 0h3m15 0h1m17 0h2m2 0h1m5 0h1m2 0h1m25 0h1m15 0h1m2 0h1M7 211.5h1m9 0h3m1 0h1m13 0h2m2 0h2m2 0h1m4 0h1m2 0h1m6 0h1m5 0h1m3 0h1m12 0h1m9 0h1m2 0h2m18 0h1m36 0h2M18 212.5h2m6 0h1m4 0h1m2 0h3m3 0h2m1 0h4m17 0h1m1 0h1m10 0h1m2 0h1m14 0h1m5 0h1m2 0h2m12 0h1m21 0h3m22 0h2M19 213.5h4m7 0h2m3 0h1m4 0h2m19 0h1m4 0h1m2 0h2m16 0h1m12 0h1m11 0h2m4 0h2m22 0h1m22 0h1M7 214.5h1m20 0h1m12 0h1m19 0h1m4 0h2m1 0h2m3 0h1m4 0h1m20 0h1m11 0h4m2 0h5m10 0h2m23 0h1M0 215.5h1m3 0h1m7 0h1m3 0h1m6 0h1m15 0h2m5 0h1m7 0h7m9 0h3m3 0h1m2 0h1m11 0h2m7 0h1m29 0h1m3 0h1m10 0h2m9 0h3M0 216.5h2m5 0h1m7 0h2m1 0h1m12 0h2m3 0h5m4 0h1m1 0h1m6 0h1m3 0h1m2 0h3m1 0h2m4 0h1m3 0h4m6 0h1m5 0h1m37 0h1m1 0h1m4 0h1m5 0h1m10 0h2m1 0h2m6 0h1m3 0h1M4 217.5h1m2 0h1m2 0h1m1 0h5m12 0h2m3 0h2m1 0h2m8 0h1m5 0h2m2 0h2m1 0h7m5 0h1m5 0h1m14 0h1m31 0h1m2 0h1m6 0h1m4 0h1m1 0h4m1 0h1m4 0h1m4 0h4m7 0h1M4 218.5h2m1 0h1m2 0h1m1 0h5m20 0h2m14 0h2m1 0h3m1 0h3m2 0h3m22 0h4m34 0h3m11 0h1m2 0h1m9 0h1m1 0h1m8 0h1M4 219.5h1m3 0h2m2 0h2m2 0h1m3 0h1m2 0h1m2 0h1m1 0h1m7 0h2m3 0h1m10 0h4m4 0h1m6 0h1m12 0h1m1 0h1m25 0h2m7 0h1m11 0h1m4 0h1m7 0h2m1 0h1m9 0h1m1 0h1m4 0h1m3 0h1M0 220.5h1m8 0h1m2 0h2m4 0h3m1 0h2m2 0h1m10 0h2m2 0h1m1 0h1m1 0h1m1 0h1m4 0h2m17 0h1m19 0h1m45 0h1m11 0h1m7 0h1m8 0h1M1 221.5h2m3 0h1m9 0h4m9 0h1m7 0h2m1 0h1m2 0h1m1 0h4m4 0h1m9 0h1m5 0h3m3 0h2m7 0h1m3 0h1m7 0h1m21 0h1m6 0h8m11 0h2m1 0h3m5 0h1m2 0h2m6 0h1m1 0h1M2 222.5h1m3 0h1m5 0h1m3 0h1m1 0h3m2 0h2m2 0h3m4 0h1m5 0h1m6 0h2m10 0h2m8 0h3m6 0h1m2 0h1m1 0h2m23 0h2m12 0h1m6 0h4m3 0h2m3 0h5m1 0h2m6 0h1m4 0h6m1 0h3M5 223.5h1m5 0h1m1 0h1m6 0h1m3 0h2m1 0h1m6 0h1m3 0h1m1 0h1m1 0h1m5 0h1m2 0h1m16 0h1m7 0h2m1 0h3m11 0h1m5 0h1m6 0h1m1 0h2m2 0h1m16 0h1m6 0h8m1 0h4m2 0h1m4 0h7m1 0h3m1 0h5M13 224.5h1m7 0h1m1 0h2m9 0h1m1 0h3m1 0h1m1 0h3m14 0h1m8 0h2m1 0h10m4 0h2m20 0h2m7 0h1m12 0h2m5 0h1m1 0h9m1 0h6m1 0h15m1 0h2M1 225.5h1m10 0h1m7 0h1m3 0h4m6 0h2m1 0h2m1 0h1m1 0h2m1 0h2m8 0h1m4 0h1m4 0h5m1 0h2m1 0h1m6 0h3m26 0h1m6 0h1m13 0h2m7 0h29m2 0h2M0 226.5h5m2 0h1m3 0h2m7 0h1m4 0h6m3 0h5m1 0h2m1 0h1m2 0h1m4 0h1m12 0h4m3 0h4m5 0h3m41 0h3m9 0h1m3 0h29m1 0h3M0 227.5h2m1 0h2m3 0h2m1 0h1m5 0h1m7 0h1m3 0h2m1 0h1m4 0h1m3 0h1m4 0h4m1 0h1m12 0h1m1 0h1m2 0h2m2 0h2m2 0h1m16 0h2m1 0h2m10 0h1m13 0h1m1 0h1m2 0h3m6 0h36M0 228.5h2m1 0h2m3 0h1m2 0h1m2 0h1m2 0h3m6 0h1m3 0h3m1 0h1m2 0h2m7 0h6m2 0h3m6 0h2m7 0h3m16 0h1m2 0h2m29 0h2m1 0h2m2 0h2m2 0h37M0 229.5h1m2 0h2m11 0h3m13 0h3m2 0h1m8 0h3m1 0h2m10 0h2m4 0h1m3 0h2m16 0h3m8 0h2m13 0h1m5 0h1m4 0h2m2 0h3m1 0h1m3 0h34M5 230.5h1m11 0h1m3 0h1m2 0h3m5 0h3m28 0h2m4 0h1m3 0h1m4 0h1m2 0h2m18 0h2m3 0h1m4 0h1m10 0h2m6 0h2m4 0h37M3 231.5h1m13 0h1m3 0h1m3 0h4m2 0h2m9 0h1m5 0h2m2 0h2m2 0h3m10 0h1m2 0h2m4 0h1m2 0h3m4 0h1m17 0h1m23 0h1m6 0h36M6 232.5h1m5 0h4m1 0h1m2 0h2m17 0h2m5 0h1m3 0h3m4 0h1m26 0h1m2 0h1m4 0h1m9 0h1m11 0h1m3 0h1m12 0h2m2 0h1m2 0h35M3 233.5h1m2 0h1m6 0h2m6 0h1m3 0h1m6 0h3m4 0h2m2 0h1m12 0h2m18 0h2m2 0h1m6 0h1m10 0h1m16 0h1m2 0h1m9 0h2m5 0h2m1 0h35M2 234.5h2m2 0h6m6 0h3m16 0h2m3 0h2m8 0h1m3 0h3m1 0h3m1 0h1m6 0h1m5 0h6m3 0h2m7 0h1m3 0h1m15 0h4m10 0h1m8 0h35M1 235.5h3m2 0h1m4 0h1m5 0h4m3 0h1m11 0h2m4 0h2m1 0h2m4 0h2m8 0h2m8 0h2m6 0h1m15 0h1m6 0h1m3 0h1m9 0h1m1 0h3m4 0h1m4 0h1m1 0h1m5 0h35M0 236.5h3m13 0h3m1 0h1m2 0h2m2 0h1m4 0h1m1 0h1m2 0h1m6 0h2m2 0h1m2 0h2m4 0h1m1 0h1m1 0h2m4 0h1m3 0h1m4 0h1m4 0h1m5 0h1m4 0h1m2 0h2m5 0h1m6 0h2m7 0h2m5 0h2m3 0h3m1 0h1m1 0h37M0 237.5h3m5 0h1m2 0h2m3 0h3m1 0h1m2 0h1m2 0h2m2 0h1m5 0h2m6 0h1m3 0h1m3 0h1m6 0h1m12 0h3m1 0h1m3 0h3m4 0h2m3 0h1m4 0h1m3 0h1m21 0h7m8 0h35" stroke="#fff" stroke-width="1" fill="none"/>
<path d="M19 123.5h1m21 0h1m79 0h1m35 0h2M6 124.5h1m8 0h1m6 0h1m72 0h1m19 0h1m5 0h1m23 0h2m3 0h1m10 0h1m2 0h1m4 0h1M6 125.5h1m1 0h1m1 0h2m8 0h1m1 0h1m9 0h1m2 0h1m12 0h3m8 0h1m24 0h1m58 0h2m5 0h1m3 0h1m4 0h1M1 126.5h1m2 0h1m1 0h1m7 0h1m7 0h2m1 0h1m8 0h1m6 0h1m8 0h1m3 0h1m77 0h1m13 0h1m9 0h1m2 0h1m1 0h1m2 0h1m4 0h1M4 127.5h1m30 0h1m18 0h1m81 0h1m6 0h1m13 0h1m2 0h1m2 0h1M9 128.5h1m7 0h1m10 0h1m10 0h1m5 0h1m5 0h1m24 0h1m25 0h1m5 0h1m9 0h1m13 0h1m1 0h1m22 0h1m2 0h1m4 0h1M0 129.5h1m7 0h1m1 0h1m10 0h3m7 0h1m4 0h1m74 0h1m21 0h1m11 0h1m5 0h1m2 0h1m2 0h1m7 0h1m2 0h1M0 130.5h1m7 0h1m1 0h2m9 0h1m19 0h1m20 0h1m78 0h1m12 0h1m2 0h3m4 0h1m6 0h1M4 131.5h2m1 0h1m9 0h1m2 0h1m7 0h1m2 0h1m11 0h1m16 0h1m2 0h1m5 0h1m30 0h1m9 0h1m30 0h3m1 0h1m15 0h1m7 0h1m1 0h1M0 132.5h2m5 0h1m13 0h1m27 0h1m1 0h1m3 0h1m24 0h2m53 0h1m17 0h1m18 0h1M7 133.5h1m3 0h1m3 0h1m8 0h1m9 0h1m8 0h1m5 0h1m11 0h1m2 0h1m15 0h1m36 0h1m28 0h1m4 0h1m11 0h1m6 0h2M15 134.5h1m2 0h2m7 0h1m6 0h1m2 0h1m12 0h1m1 0h1m13 0h1m5 0h1m3 0h2m16 0h1m25 0h1m37 0h1m7 0h1m3 0h1M3 135.5h1m2 0h1m2 0h1m8 0h1m7 0h1m2 0h1m10 0h1m21 0h1m8 0h1m10 0h1m11 0h1m58 0h1m2 0h1m15 0h1M0 136.5h3m43 0h2m11 0h1m1 0h1m19 0h2m8 0h1m16 0h2m15 0h1m12 0h1m1 0h1m29 0h1M3 137.5h2m49 0h1m9 0h1m4 0h1m15 0h1m6 0h1m18 0h1m21 0h2m7 0h1m9 0h1m1 0h1m13 0h1M6 138.5h1m2 0h1m5 0h1m1 0h1m26 0h2m9 0h1m7 0h1m63 0h1m14 0h2m1 0h2m5 0h1m10 0h1M12 139.5h1m3 0h1m6 0h1m11 0h1m3 0h1m4 0h1m10 0h2m5 0h1m1 0h1m1 0h1m49 0h1m53 0h1M4 140.5h1m7 0h2m1 0h1m1 0h1m37 0h1m15 0h1m2 0h2m7 0h3m9 0h2m18 0h1m16 0h1m6 0h1m22 0h1m4 0h1m1 0h1M4 141.5h1m10 0h1m1 0h1m19 0h1m4 0h1m10 0h1m1 0h1m5 0h1m12 0h1m6 0h1m3 0h1m11 0h1m9 0h1m17 0h1m25 0h1m2 0h1m1 0h1m1 0h1m6 0h1m5 0h1M14 142.5h1m25 0h1m2 0h1m9 0h1m17 0h1m7 0h1m14 0h3m3 0h2m12 0h1m18 0h1m17 0h1m5 0h2m6 0h1m1 0h1M38 143.5h1m14 0h1m7 0h1m39 0h1m32 0h2m4 0h1m3 0h1m2 0h1m4 0h1m3 0h3M4 144.5h3m10 0h1m11 0h1m7 0h1m7 0h1m12 0h1m2 0h2m36 0h1m1 0h2m4 0h1m24 0h1m1 0h1m5 0h1m6 0h1m24 0h1M16 145.5h2m4 0h1m1 0h1m4 0h1m1 0h1m21 0h1m21 0h1m25 0h1m27 0h1m3 0h1m30 0h1M1 146.5h1m5 0h1m4 0h1m2 0h1m5 0h1m6 0h1m3 0h1m3 0h1m3 0h1m24 0h1m6 0h1m2 0h1m4 0h1m15 0h1m16 0h1m13 0h1m9 0h1m3 0h1m13 0h1m6 0h2M7 147.5h1m3 0h1m4 0h2m8 0h1m2 0h1m8 0h1m7 0h1m2 0h1m3 0h1m11 0h1m2 0h2m3 0h1m3 0h1m10 0h1m1 0h1m9 0h2m3 0h1m5 0h1m16 0h1m12 0h1m15 0h1m2 0h1m4 0h2M1 148.5h2m8 0h1m15 0h1m17 0h2m10 0h1m4 0h1m11 0h1m19 0h1m1 0h1m13 0h2m5 0h1m4 0h1m33 0h1M17 149.5h1m6 0h1m11 0h1m3 0h1m31 0h1m14 0h1m2 0h1m1 0h1m10 0h2m21 0h1m5 0h1m14 0h2m14 0h2M8 150.5h1m6 0h1m2 0h1m16 0h1m5 0h1m15 0h1m10 0h1m24 0h2m8 0h1m14 0h1m7 0h1m16 0h1m1 0h1M4 151.5h1m3 0h1m11 0h1m2 0h1m40 0h1m23 0h1m4 0h1m3 0h1m20 0h1m1 0h1m14 0h1m27 0h1m8 0h1M9 152.5h1m8 0h1m10 0h2m2 0h1m10 0h1m7 0h1m5 0h1m1 0h1m2 0h2m36 0h1m1 0h1m3 0h1m2 0h1m5 0h1m2 0h1m10 0h1m9 0h1m1 0h2m4 0h1M21 153.5h1m2 0h1m3 0h2m4 0h1m14 0h2m1 0h2m4 0h2m14 0h1m9 0h1m4 0h1m15 0h1m5 0h1m1 0h1m16 0h1m16 0h2m1 0h1m3 0h1m10 0h1m1 0h1m2 0h1M7 154.5h1m2 0h1m28 0h1m14 0h1m12 0h1m1 0h1m5 0h1m2 0h2m1 0h2m26 0h1m4 0h2m3 0h1m15 0h1m10 0h1m2 0h1m3 0h2M10 155.5h1m6 0h1m9 0h1m1 0h1m21 0h1m3 0h2m2 0h1m3 0h1m13 0h1m4 0h1m1 0h1m11 0h1m1 0h2m11 0h1m7 0h1m8 0h1m1 0h1m13 0h3m16 0h1M6 156.5h1m3 0h2m15 0h1m3 0h1m20 0h1m1 0h1m10 0h1m37 0h1m49 0h1m3 0h1m6 0h1m5 0h1M8 157.5h1m19 0h1m3 0h1m32 0h1m21 0h1m11 0h1m4 0h1m40 0h1M2 158.5h1m4 0h1m3 0h1m1 0h1m6 0h1m2 0h1m1 0h2m2 0h2m20 0h1m2 0h1m6 0h1m7 0h1m5 0h1m8 0h2m4 0h1m1 0h1m1 0h1m15 0h1m2 0h1m40 0h1m9 0h1M7 159.5h1m13 0h1m28 0h2m13 0h3m1 0h1m11 0h2m10 0h1m19 0h1m17 0h2m26 0h1M2 160.5h1m2 0h2m2 0h2m8 0h2m4 0h1m4 0h1m5 0h1m12 0h1m61 0h1m33 0h1m18 0h1M8 161.5h1m1 0h1m5 0h1m6 0h2m8 0h1m4 0h1m5 0h1m1 0h2m4 0h2m14 0h1m2 0h1m19 0h1m6 0h1m19 0h1m22 0h1m23 0h1m5 0h1M20 162.5h1m8 0h1m8 0h1m11 0h1m7 0h1m1 0h1m6 0h1m11 0h1m10 0h2m6 0h2m22 0h1m15 0h1m15 0h1m6 0h1m5 0h1M25 163.5h1m20 0h1m2 0h1m1 0h1m15 0h1m11 0h1m28 0h1m40 0h1m18 0h2M12 164.5h3m6 0h1m14 0h2m1 0h1m8 0h2m9 0h2m10 0h2m4 0h1m5 0h1m3 0h1m9 0h1m41 0h1m1 0h2m3 0h1m1 0h1m5 0h1m2 0h1m2 0h1M1 165.5h2m2 0h1m32 0h1m4 0h1m5 0h1m4 0h1m32 0h1m10 0h1m17 0h1m20 0h1m33 0h2M4 166.5h1m4 0h2m16 0h2m10 0h1m7 0h3m21 0h1m41 0h1m7 0h1m6 0h1m9 0h1m9 0h1m2 0h1m19 0h1M1 167.5h1m1 0h1m13 0h1m12 0h1m5 0h1m14 0h3m5 0h1m5 0h1m8 0h1m3 0h1m9 0h2m59 0h1m6 0h1M18 168.5h1m6 0h1m7 0h1m7 0h1m6 0h1m3 0h1m3 0h1m9 0h1m6 0h1m9 0h1m22 0h1m20 0h1m3 0h1m23 0h1M14 169.5h1m1 0h1m2 0h1m15 0h1m12 0h1m7 0h3m17 0h1m10 0h1m7 0h1m31 0h1m6 0h1m12 0h3m6 0h2m11 0h1M0 170.5h1m3 0h1m30 0h2m17 0h2m6 0h1m13 0h1m9 0h1m1 0h1m34 0h1m8 0h1m6 0h1m9 0h1m5 0h1m1 0h1m5 0h1m3 0h1m3 0h1M39 171.5h1m8 0h1m12 0h1m4 0h1m14 0h3m29 0h1m10 0h1m1 0h1m7 0h1m8 0h1m5 0h1m10 0h1M1 172.5h1m5 0h1m53 0h1m1 0h1m7 0h1m5 0h1m1 0h2m10 0h1m25 0h1m18 0h1m2 0h1m32 0h1M5 173.5h1m38 0h1m3 0h1m20 0h1m4 0h1m10 0h1m14 0h1m35 0h1m15 0h1m5 0h1M2 174.5h1m2 0h1m28 0h2m1 0h1m3 0h1m8 0h1m5 0h1m1 0h1m15 0h1m25 0h1m8 0h1m6 0h1m12 0h1m10 0h2M39 175.5h1m4 0h1m14 0h1m29 0h2m14 0h1m5 0h2m19 0h1m8 0h2m20 0h2m1 0h2m4 0h1M1 176.5h1m40 0h1m9 0h1m8 0h1m17 0h1m6 0h1m3 0h1m34 0h1m4 0h1m19 0h1m11 0h1m6 0h2M26 177.5h1m13 0h1m6 0h1m8 0h1m16 0h1m2 0h1m17 0h1m17 0h1m8 0h1m8 0h1m1 0h1m2 0h1m3 0h1m1 0h2m3 0h1m5 0h2m6 0h1m7 0h3m1 0h1M39 178.5h1m1 0h1m7 0h2m32 0h1m26 0h2m16 0h1m4 0h1m13 0h1m6 0h1m3 0h1m1 0h1m7 0h1M34 179.5h1m17 0h1m1 0h2m8 0h1m6 0h1m55 0h1m21 0h1m9 0h1m1 0h1M25 180.5h1m29 0h2m6 0h2m61 0h1m1 0h1m1 0h2m33 0h2m5 0h1M48 181.5h1m19 0h2m12 0h1m39 0h1m1 0h2m6 0h1m3 0h2m18 0h1m6 0h1m4 0h1M24 182.5h1m22 0h2m3 0h1m6 0h1m2 0h1m45 0h1m10 0h2m15 0h1m32 0h1m1 0h1M9 183.5h1m22 0h1m10 0h1m11 0h2m4 0h1m7 0h1m59 0h1m1 0h1m17 0h1m13 0h1m7 0h1M1 184.5h1m11 0h1m3 0h1m8 0h1m14 0h2m6 0h1m1 0h1m8 0h1m13 0h1m7 0h1m8 0h1m32 0h3m7 0h3m5 0h1m1 0h1m5 0h1m6 0h1m1 0h1m10 0h1M1 185.5h1m29 0h1m11 0h2m20 0h1m37 0h1m22 0h1m7 0h1m5 0h1m10 0h1m9 0h1m3 0h1m5 0h1M23 186.5h1m1 0h1m9 0h1m2 0h1m3 0h1m12 0h1m4 0h2m3 0h2m6 0h1m22 0h1m32 0h1m6 0h1m1 0h2m28 0h1M25 187.5h1m7 0h1m12 0h3m6 0h1m66 0h1m3 0h1m7 0h1m14 0h1m5 0h1m2 0h1m1 0h1M3 188.5h1m2 0h1m8 0h1m4 0h1m4 0h1m6 0h1m6 0h1m42 0h1m68 0h1m8 0h1m1 0h1m2 0h1M14 189.5h1m4 0h1m1 0h1m10 0h1m7 0h1m4 0h2m4 0h2m1 0h1m61 0h1m2 0h1m3 0h1m1 0h1m27 0h1m6 0h1m4 0h1M0 190.5h1m1 0h1m5 0h1m12 0h1m1 0h2m2 0h1m17 0h2m11 0h1m5 0h1m21 0h1m44 0h1m13 0h1m1 0h1m15 0h1M8 191.5h1m13 0h2m15 0h3m2 0h2m7 0h1m1 0h2m61 0h1m1 0h1m2 0h1m1 0h1m2 0h1m4 0h1m1 0h1m8 0h1m1 0h1m6 0h1m12 0h1m1 0h2M0 192.5h1m1 0h1m7 0h1m1 0h1m23 0h1m6 0h2m8 0h1m30 0h1m30 0h1m11 0h1m16 0h1m3 0h1m2 0h1m4 0h1m13 0h1M8 193.5h1m2 0h3m28 0h1m64 0h1m3 0h1m15 0h1m11 0h2m3 0h3m1 0h1m1 0h1M29 194.5h1m10 0h1m13 0h1m35 0h1m20 0h1m14 0h1m9 0h2m6 0h1m17 0h1m5 0h1m2 0h1M9 195.5h1m6 0h1m6 0h1m1 0h2m6 0h2m5 0h1m11 0h1m1 0h2m6 0h1m14 0h2m11 0h2m4 0h1m1 0h1m35 0h1m2 0h1m16 0h1m6 0h1M1 196.5h1m1 0h1m9 0h1m12 0h1m8 0h1m1 0h2m2 0h2m64 0h1m19 0h1m6 0h1m2 0h1m12 0h1m11 0h1M5 197.5h1m22 0h1m24 0h1m5 0h1m86 0h2m2 0h2m13 0h1m3 0h1M16 198.5h1m4 0h3m3 0h1m1 0h1m19 0h2m10 0h1m4 0h1m24 0h1m23 0h2m39 0h1m5 0h2M5 199.5h1m15 0h1m3 0h3m4 0h1m15 0h1m66 0h1m3 0h1m19 0h1m16 0h1m1 0h1m2 0h1M3 200.5h1m13 0h1m4 0h3m5 0h1m13 0h1m8 0h1m28 0h1m32 0h1m17 0h1m12 0h1m4 0h1m1 0h1m11 0h1M10 201.5h1m10 0h1m10 0h2m15 0h1m22 0h1m22 0h3m42 0h1M0 202.5h1m29 0h1m11 0h1m6 0h1m19 0h1m3 0h1m22 0h1M0 203.5h1m14 0h1m11 0h1m2 0h1m16 0h1m78 0h1m39 0h1M2 204.5h1m5 0h1m5 0h1m4 0h1m20 0h1m4 0h1m12 0h1m7 0h1m56 0h1m2 0h1m35 0h1m5 0h1M10 205.5h1m5 0h1m23 0h1m48 0h1m43 0h1m9 0h1m16 0h2M38 206.5h1m1 0h2m2 0h1m11 0h1m1 0h2m17 0h1m53 0h1m24 0h1m4 0h1M1 207.5h1m7 0h1m25 0h1m5 0h1m5 0h2m15 0h1m6 0h1m3 0h1m6 0h1m5 0h1m27 0h1m54 0h1M14 208.5h1m15 0h1m3 0h1m13 0h1m24 0h1m26 0h1m56 0h1m13 0h1M4 209.5h1m16 0h1m1 0h1m3 0h1m5 0h2m7 0h1m21 0h1m14 0h1m12 0h1m18 0h1m21 0h1M26 210.5h1m4 0h3m8 0h1m1 0h1m47 0h1m22 0h1m26 0h1M12 211.5h1m12 0h2m10 0h2m6 0h1m4 0h1m15 0h1m103 0h1M12 212.5h1m4 0h1m7 0h1m13 0h1m9 0h1m8 0h2m7 0h1m11 0h1m70 0h1M23 213.5h2m4 0h1m7 0h2m3 0h1m12 0h1m36 0h1m73 0h1M15 214.5h2m2 0h1m1 0h1m15 0h1m10 0h1m10 0h1m29 0h1m13 0h1m27 0h1m3 0h2m3 0h1m11 0h1M1 215.5h1m15 0h1m2 0h1m3 0h1m1 0h1m2 0h1m2 0h1m3 0h2m3 0h1m7 0h1m11 0h1m21 0h1m19 0h1m6 0h1m20 0h1m6 0h1m26 0h2M22 216.5h2m19 0h1m11 0h1m27 0h1m28 0h1m25 0h1m26 0h1M1 217.5h1m3 0h1m15 0h3m35 0h1m8 0h1m2 0h1m8 0h2m38 0h1m9 0h1m23 0h2M2 218.5h1m17 0h1m3 0h1m4 0h1m5 0h2m5 0h2m7 0h1m3 0h1m3 0h1m9 0h1m2 0h2m2 0h1m2 0h1m41 0h1m5 0h1m24 0h1m15 0h1m1 0h1M1 219.5h1m1 0h1m10 0h1m7 0h1m8 0h2m7 0h1m4 0h1m4 0h2m7 0h1m1 0h1m7 0h1m2 0h2m41 0h2m7 0h1m24 0h1M3 220.5h1m11 0h1m11 0h1m6 0h1m4 0h2m3 0h1m16 0h1m6 0h1m3 0h1m3 0h2m21 0h1m45 0h1M4 221.5h1m9 0h1m6 0h1m1 0h3m1 0h2m13 0h1m14 0h1m14 0h1m5 0h1m2 0h1m9 0h2M0 222.5h1m2 0h2m6 0h1m9 0h1m19 0h2m6 0h1m3 0h1m19 0h2m1 0h1m5 0h1m8 0h1m59 0h1m14 0h1M1 223.5h2m1 0h1m3 0h1m1 0h1m22 0h1m11 0h3m6 0h2m1 0h2m5 0h1m2 0h1m2 0h1m45 0h1M1 224.5h1m5 0h1m1 0h1m15 0h1m1 0h1m2 0h1m22 0h2m3 0h1m2 0h1m3 0h2m16 0h2m7 0h1M3 225.5h1m3 0h1m2 0h1m8 0h1m2 0h1m10 0h1m16 0h1m3 0h1m4 0h1m1 0h1m13 0h1m2 0h1M6 226.5h1m3 0h1m4 0h1m7 0h1m18 0h1m1 0h1m16 0h1m1 0h1m4 0h1m47 0h1M5 227.5h1m1 0h1m8 0h1m6 0h1m12 0h1m76 0h1m18 0h1m1 0h1M7 228.5h1m12 0h1m3 0h1m11 0h1m2 0h1m13 0h1m4 0h1m1 0h1m20 0h2m1 0h1m14 0h1m18 0h1m2 0h1M12 229.5h3m9 0h1m16 0h1m3 0h1m7 0h1m13 0h1m3 0h1m2 0h1m7 0h1m5 0h1m14 0h1M0 230.5h2m11 0h2m7 0h1m18 0h1m4 0h1m11 0h1m13 0h1m43 0h1m11 0h1M0 231.5h2m5 0h1m3 0h1m2 0h1m7 0h1m1 0h1m8 0h1m5 0h3m12 0h1m6 0h1m9 0h1m4 0h1m36 0h1m9 0h1m10 0h1M8 232.5h1m2 0h1m10 0h2m2 0h1m21 0h1m4 0h1m11 0h1m6 0h1m1 0h1m35 0h1m19 0h1M4 233.5h1m30 0h1m5 0h1m16 0h1m1 0h1m4 0h1m8 0h1m27 0h2m22 0h1M33 234.5h1m10 0h2m17 0h1m19 0h1m5 0h1m3 0h1m34 0h1M8 235.5h1m6 0h1m19 0h1m18 0h1m1 0h1m12 0h1m3 0h2m1 0h2m3 0h2m1 0h2m10 0h1M7 236.5h1m1 0h1m5 0h1m9 0h2m9 0h1m2 0h1m2 0h1m11 0h1m5 0h1m17 0h1m1 0h1m1 0h1m15 0h2m17 0h1M21 237.5h1m19 0h1m7 0h1m3 0h1m6 0h1m2 0h1m1 0h2m29 0h1m3 0h1m6 0h1" stroke="#2d0ce1" stroke-width="1" fill="none"/>
</g></g>
<rect x="139.00" y="220.70" width="35.00" height="18.10" fill="#fff"/>
<text x="142.70" y="231.80" class="sb">25 µm</text>
<rect x="143.30" y="234.60" width="23.70" height="2.60" fill="#000"/>
<clipPath id="cpc1"><rect x="0" y="247.3" width="173.50" height="115.70"/></clipPath>
<g clip-path="url(#cpc1)"><g filter="url(#sblr)">
<rect x="-2" y="245.3" width="177.50" height="119.70" fill="#ff1c0c"/>
<path d="M3 247.5h5m3 0h1m1 0h3m1 0h1m1 0h1m1 0h1m2 0h1m8 0h2m2 0h1m3 0h1m2 0h1m1 0h3m21 0h2m7 0h1m9 0h1m4 0h3m1 0h1m5 0h1m2 0h1m4 0h1m12 0h1m3 0h1m35 0h1m1 0h1M3 248.5h1m1 0h3m3 0h1m1 0h3m1 0h1m1 0h1m1 0h1m2 0h1m7 0h3m2 0h1m3 0h1m2 0h1m1 0h3m22 0h1m7 0h2m13 0h3m7 0h1m2 0h1m4 0h1m12 0h1m39 0h1m1 0h1M1 249.5h1m3 0h3m3 0h1m1 0h3m1 0h3m1 0h1m2 0h1m3 0h1m3 0h2m10 0h1m1 0h1m1 0h1m4 0h1m17 0h1m22 0h3m7 0h1m7 0h2m11 0h1m38 0h2m1 0h1M1 250.5h1m2 0h4m3 0h1m1 0h1m1 0h1m1 0h3m1 0h1m6 0h1m3 0h2m10 0h1m49 0h3m7 0h1m7 0h2m4 0h1m40 0h1m1 0h1m2 0h4M1 251.5h1m2 0h4m3 0h1m1 0h1m3 0h5m6 0h1m3 0h2m5 0h1m4 0h1m40 0h1m8 0h1m15 0h1m2 0h1m2 0h1m1 0h1m8 0h1m31 0h1m1 0h1m2 0h4M1 252.5h1m2 0h2m1 0h1m3 0h1m1 0h1m5 0h3m9 0h3m4 0h2m1 0h1m18 0h1m25 0h1m13 0h1m9 0h1m5 0h1m1 0h1m4 0h1m3 0h1m6 0h2m23 0h1m1 0h1m4 0h2M3 253.5h3m1 0h1m3 0h1m1 0h2m4 0h2m10 0h1m5 0h3m1 0h2m13 0h1m3 0h1m25 0h2m12 0h1m5 0h1m3 0h1m5 0h1m6 0h1m3 0h1m6 0h2m23 0h1m1 0h2M3 254.5h3m2 0h1m2 0h1m1 0h2m1 0h1m2 0h2m17 0h1m2 0h2m13 0h1m3 0h1m10 0h1m14 0h2m12 0h1m2 0h1m6 0h1m12 0h1m5 0h1m5 0h1m25 0h1m6 0h1M3 255.5h3m2 0h1m1 0h2m1 0h1m5 0h2m14 0h1m5 0h1m6 0h1m11 0h1m3 0h1m6 0h1m14 0h3m11 0h1m2 0h1m5 0h3m11 0h1m11 0h1m25 0h1m6 0h1M5 256.5h1m2 0h1m1 0h2m1 0h1m6 0h1m7 0h1m6 0h1m5 0h1m6 0h1m10 0h1m4 0h1m6 0h2m13 0h3m1 0h1m7 0h2m3 0h1m5 0h1m51 0h1m6 0h1M2 257.5h1m2 0h1m2 0h1m1 0h1m1 0h2m2 0h1m3 0h1m3 0h2m2 0h1m3 0h1m2 0h1m7 0h1m4 0h1m1 0h1m8 0h1m11 0h2m15 0h1m1 0h1m7 0h2m3 0h2m4 0h1m2 0h1m1 0h1m7 0h1m1 0h1m41 0h1M2 258.5h1m3 0h3m1 0h1m1 0h2m2 0h1m3 0h1m3 0h2m6 0h1m10 0h1m4 0h3m17 0h1m2 0h2m4 0h1m12 0h1m7 0h2m3 0h2m4 0h1m2 0h1m1 0h1m7 0h1m1 0h2m9 0h1m8 0h1m21 0h1M5 259.5h4m7 0h1m3 0h1m3 0h1m7 0h1m10 0h1m4 0h1m1 0h1m2 0h1m14 0h1m3 0h1m3 0h2m12 0h1m7 0h1m5 0h1m4 0h1m2 0h1m1 0h1m3 0h1m3 0h1m1 0h2m2 0h1m6 0h1m8 0h1m21 0h1m2 0h1M3 260.5h1m1 0h4m10 0h2m3 0h1m7 0h1m10 0h1m4 0h1m1 0h1m2 0h1m14 0h1m3 0h1m3 0h2m12 0h2m6 0h1m8 0h1m1 0h1m8 0h1m6 0h1m1 0h2m6 0h1m10 0h1m19 0h1m2 0h1M0 261.5h2m1 0h1m2 0h3m9 0h3m3 0h1m7 0h1m4 0h1m10 0h1m4 0h1m6 0h1m4 0h1m2 0h1m3 0h1m17 0h3m14 0h1m1 0h1m8 0h1m16 0h2m9 0h1M0 262.5h2m1 0h1m1 0h1m2 0h1m8 0h4m3 0h1m12 0h1m9 0h2m4 0h1m6 0h2m3 0h1m2 0h1m20 0h4m14 0h1m1 0h1m1 0h1m6 0h1m27 0h1m9 0h1M0 263.5h2m1 0h3m2 0h1m8 0h3m17 0h2m10 0h1m3 0h1m7 0h1m3 0h1m5 0h1m18 0h3m18 0h1m6 0h1m6 0h1m30 0h1M0 264.5h2m1 0h3m7 0h1m3 0h3m3 0h1m13 0h2m10 0h1m11 0h1m2 0h2m5 0h1m10 0h1m7 0h2m19 0h1m5 0h2m6 0h1m30 0h1M3 265.5h3m7 0h1m3 0h1m5 0h1m13 0h1m11 0h1m3 0h1m10 0h2m16 0h1m3 0h1m23 0h1m5 0h2m6 0h1m31 0h1M3 266.5h3m17 0h1m7 0h1m17 0h1m3 0h1m2 0h1m4 0h1m2 0h2m16 0h1m3 0h1m23 0h1m5 0h2m5 0h1m36 0h1M3 267.5h3m2 0h4m2 0h1m8 0h1m7 0h1m15 0h2m4 0h1m2 0h2m2 0h2m2 0h2m2 0h2m16 0h1m9 0h1m5 0h2m3 0h1m2 0h1m2 0h2m1 0h2m16 0h1m25 0h1M3 268.5h3m2 0h1m1 0h2m2 0h1m2 0h1m5 0h1m5 0h1m1 0h1m14 0h3m4 0h1m2 0h2m3 0h1m3 0h1m2 0h2m6 0h1m11 0h1m7 0h1m5 0h2m3 0h1m2 0h1m2 0h5m16 0h1m34 0h1M3 269.5h2m1 0h3m1 0h2m2 0h2m1 0h2m4 0h1m1 0h1m3 0h1m1 0h1m11 0h1m2 0h3m4 0h1m2 0h1m1 0h1m1 0h2m3 0h1m2 0h2m7 0h1m10 0h1m6 0h2m1 0h1m4 0h1m3 0h1m2 0h1m2 0h2m1 0h1m17 0h1m34 0h1M3 270.5h2m1 0h2m3 0h1m3 0h1m1 0h2m1 0h1m2 0h3m6 0h2m1 0h3m5 0h1m2 0h3m7 0h1m1 0h3m4 0h1m2 0h2m7 0h1m5 0h1m2 0h3m6 0h2m1 0h1m4 0h1m8 0h3m1 0h1m18 0h1m33 0h1M3 271.5h2m1 0h2m3 0h2m2 0h1m1 0h2m1 0h1m2 0h4m5 0h1m2 0h4m4 0h1m2 0h2m10 0h3m4 0h1m11 0h1m5 0h1m2 0h3m6 0h2m1 0h1m1 0h1m2 0h2m8 0h4m5 0h1m12 0h1m22 0h1M3 272.5h2m1 0h2m1 0h1m1 0h3m3 0h1m2 0h1m2 0h3m9 0h1m1 0h1m5 0h1m2 0h2m7 0h1m2 0h3m3 0h1m12 0h1m5 0h1m2 0h3m6 0h2m2 0h2m2 0h2m2 0h2m4 0h6m3 0h1m1 0h1m10 0h1m22 0h1M3 273.5h2m4 0h1m1 0h3m6 0h1m2 0h2m6 0h1m14 0h1m7 0h2m1 0h4m3 0h1m10 0h1m1 0h1m8 0h3m4 0h1m1 0h2m2 0h2m6 0h2m4 0h6m3 0h1m1 0h1m33 0h1M3 274.5h2m4 0h1m10 0h1m10 0h1m22 0h2m1 0h3m4 0h1m10 0h1m1 0h1m10 0h1m5 0h1m1 0h4m4 0h1m3 0h1m4 0h1m3 0h2m5 0h1M3 275.5h2m4 0h1m21 0h1m22 0h1m3 0h2m4 0h1m10 0h1m12 0h1m5 0h1m1 0h4m4 0h1m5 0h1m2 0h1m3 0h1m6 0h1M3 276.5h2m4 0h1m16 0h1m4 0h1m7 0h1m13 0h2m3 0h2m4 0h1m9 0h3m11 0h1m5 0h1m1 0h2m1 0h1m3 0h2m5 0h1m2 0h1m1 0h3m6 0h1m1 0h1M2 277.5h3m8 0h1m2 0h1m2 0h1m6 0h1m1 0h1m2 0h1m7 0h1m7 0h2m4 0h2m3 0h2m1 0h1m2 0h1m9 0h3m9 0h1m7 0h1m2 0h1m5 0h1m3 0h2m1 0h1m2 0h5m6 0h1m1 0h1m1 0h2m29 0h1M0 278.5h1m1 0h3m2 0h1m4 0h2m2 0h1m9 0h1m1 0h1m2 0h1m5 0h3m6 0h3m3 0h1m6 0h1m4 0h1m3 0h1m5 0h2m8 0h1m1 0h1m12 0h1m3 0h1m3 0h2m4 0h4m7 0h1m1 0h1m1 0h2m6 0h1M0 279.5h5m2 0h1m4 0h6m3 0h1m3 0h2m2 0h1m1 0h1m1 0h1m3 0h3m8 0h1m3 0h1m6 0h1m3 0h2m3 0h2m4 0h1m9 0h1m1 0h1m12 0h1m3 0h1m3 0h2m4 0h3m8 0h1m3 0h2m2 0h1m3 0h1M0 280.5h5m2 0h1m4 0h6m3 0h2m1 0h3m2 0h1m1 0h1m1 0h2m1 0h2m1 0h1m8 0h1m2 0h2m11 0h1m3 0h3m13 0h1m1 0h1m9 0h1m6 0h1m9 0h3m16 0h1m2 0h2M0 281.5h5m4 0h1m2 0h4m1 0h1m2 0h3m1 0h3m1 0h1m2 0h1m1 0h2m1 0h1m2 0h1m7 0h2m2 0h3m10 0h1m4 0h2m13 0h1m1 0h1m9 0h2m14 0h2m8 0h1m9 0h1m2 0h2M0 282.5h5m4 0h1m3 0h3m1 0h1m2 0h3m1 0h3m1 0h1m5 0h1m4 0h1m7 0h2m3 0h2m3 0h1m11 0h2m6 0h1m8 0h1m9 0h1m15 0h1m9 0h1m8 0h6M0 283.5h4m5 0h1m3 0h1m1 0h1m1 0h1m2 0h1m1 0h1m3 0h1m1 0h1m5 0h3m3 0h1m6 0h2m1 0h1m1 0h2m5 0h2m16 0h1m5 0h1m2 0h1m11 0h1m13 0h1m9 0h1m8 0h1m3 0h2M0 284.5h1m1 0h2m5 0h1m3 0h1m1 0h1m1 0h1m4 0h1m1 0h1m3 0h1m5 0h3m3 0h1m7 0h1m1 0h1m7 0h3m22 0h1m2 0h1m11 0h1m12 0h2m16 0h1m5 0h1M0 285.5h1m1 0h2m5 0h1m2 0h6m10 0h1m2 0h1m2 0h3m3 0h1m7 0h3m7 0h2m2 0h1m1 0h1m14 0h1m2 0h2m15 0h1m2 0h1m9 0h1m16 0h1m5 0h2m32 0h1M0 286.5h1m1 0h2m5 0h1m2 0h6m9 0h2m2 0h1m1 0h2m1 0h1m3 0h3m1 0h1m2 0h2m1 0h1m6 0h3m2 0h1m1 0h1m4 0h1m9 0h1m2 0h2m10 0h1m4 0h1m2 0h1m9 0h1m16 0h1m5 0h2m11 0h1m8 0h1m8 0h2m1 0h2M0 287.5h1m1 0h4m3 0h1m2 0h5m4 0h1m5 0h2m2 0h1m1 0h2m1 0h1m3 0h3m1 0h2m1 0h2m1 0h1m6 0h3m2 0h1m1 0h3m2 0h1m9 0h1m2 0h3m9 0h1m5 0h1m1 0h1m9 0h2m21 0h1m12 0h1m8 0h1m8 0h2m1 0h1m2 0h1M0 288.5h1m1 0h4m6 0h1m2 0h2m4 0h1m6 0h1m2 0h1m1 0h2m1 0h1m3 0h6m1 0h2m1 0h1m6 0h3m5 0h1m16 0h3m5 0h1m2 0h4m3 0h1m1 0h1m10 0h1m20 0h2m1 0h1m10 0h1m15 0h1m2 0h2M2 289.5h3m7 0h1m2 0h2m4 0h3m10 0h1m1 0h1m3 0h9m8 0h3m7 0h1m4 0h1m1 0h1m2 0h2m3 0h3m5 0h1m2 0h4m3 0h1m33 0h1m2 0h1m10 0h1m6 0h1m3 0h1m4 0h1m2 0h2M4 290.5h1m10 0h2m2 0h1m1 0h2m11 0h1m1 0h1m3 0h1m1 0h2m2 0h4m7 0h1m1 0h1m7 0h1m4 0h1m1 0h1m2 0h2m4 0h2m5 0h1m1 0h1m1 0h3m4 0h1m7 0h1m10 0h1m5 0h2m9 0h1m10 0h1m5 0h1m4 0h1m8 0h2M4 291.5h1m2 0h1m11 0h1m1 0h1m12 0h1m4 0h2m2 0h2m2 0h3m7 0h1m1 0h1m2 0h1m3 0h2m4 0h1m4 0h2m10 0h2m1 0h1m3 0h1m4 0h2m6 0h1m10 0h1m5 0h3m18 0h3m4 0h1m13 0h1m1 0h1M4 292.5h1m1 0h2m6 0h1m4 0h1m1 0h1m17 0h1m3 0h2m2 0h2m8 0h1m1 0h1m3 0h1m3 0h1m2 0h1m6 0h2m10 0h2m1 0h1m9 0h1m4 0h3m10 0h1m5 0h1m1 0h1m3 0h1m11 0h1m2 0h1m1 0h1m4 0h1m12 0h2M7 293.5h1m4 0h3m6 0h1m17 0h1m4 0h1m3 0h1m8 0h1m1 0h1m3 0h1m3 0h1m1 0h2m7 0h1m9 0h3m1 0h1m3 0h1m5 0h1m4 0h3m16 0h1m4 0h2m2 0h1m2 0h1m5 0h1m2 0h1m1 0h2m3 0h1m5 0h1m6 0h2M3 294.5h1m6 0h1m1 0h1m1 0h1m6 0h1m3 0h1m11 0h1m1 0h1m4 0h1m3 0h1m7 0h1m1 0h2m3 0h2m2 0h1m2 0h1m7 0h1m5 0h1m3 0h1m2 0h1m4 0h1m4 0h1m17 0h1m11 0h1m6 0h1m1 0h5m4 0h1m2 0h3m1 0h1m3 0h1m7 0h1m2 0h1M3 295.5h1m7 0h2m1 0h1m1 0h2m7 0h1m10 0h1m2 0h1m8 0h1m7 0h1m1 0h2m3 0h1m3 0h1m2 0h1m7 0h1m5 0h1m3 0h1m12 0h1m2 0h1m10 0h1m3 0h1m4 0h2m7 0h1m6 0h4m1 0h1m2 0h2m3 0h4m3 0h2m6 0h1m2 0h1M3 296.5h2m6 0h2m3 0h3m20 0h1m8 0h1m2 0h2m3 0h1m1 0h2m10 0h1m8 0h1m2 0h1m1 0h1m3 0h1m12 0h1m2 0h1m1 0h1m8 0h1m4 0h1m4 0h1m7 0h1m6 0h2m1 0h1m1 0h2m1 0h2m4 0h3m2 0h2m7 0h1m1 0h2M4 297.5h1m7 0h1m3 0h3m20 0h1m4 0h2m5 0h2m3 0h3m10 0h2m4 0h1m3 0h1m2 0h1m1 0h1m16 0h1m2 0h1m1 0h1m9 0h1m3 0h1m4 0h1m2 0h2m14 0h3m2 0h2m3 0h3m2 0h2m9 0h2M0 298.5h1m8 0h1m6 0h3m20 0h1m1 0h1m1 0h3m6 0h1m3 0h3m10 0h2m4 0h1m3 0h1m2 0h3m6 0h1m6 0h1m2 0h1m2 0h1m1 0h1m8 0h2m8 0h1m2 0h2m1 0h1m5 0h1m6 0h2m3 0h2m3 0h2m3 0h2m9 0h2M4 299.5h1m4 0h2m5 0h3m17 0h1m4 0h1m1 0h3m6 0h1m3 0h3m10 0h1m9 0h1m3 0h2m3 0h1m2 0h2m3 0h1m1 0h1m2 0h1m2 0h1m1 0h1m5 0h1m2 0h2m8 0h1m1 0h3m1 0h1m5 0h1m6 0h2m3 0h2m2 0h2m5 0h1m9 0h2M4 300.5h1m4 0h2m5 0h3m15 0h1m2 0h1m1 0h1m1 0h3m1 0h2m5 0h1m4 0h2m5 0h1m22 0h2m3 0h2m2 0h1m1 0h2m1 0h1m2 0h1m1 0h1m5 0h1m1 0h2m8 0h2m3 0h1m19 0h1m1 0h1m2 0h1m2 0h1m2 0h1m9 0h3M3 301.5h2m4 0h2m5 0h3m5 0h1m5 0h1m3 0h1m2 0h1m1 0h1m1 0h3m6 0h1m1 0h1m2 0h1m1 0h2m4 0h1m23 0h2m3 0h2m2 0h1m1 0h1m13 0h1m11 0h1m7 0h1m6 0h2m1 0h1m8 0h1m2 0h1m2 0h1m10 0h5M3 302.5h2m2 0h4m5 0h3m5 0h1m1 0h2m2 0h2m2 0h1m4 0h1m1 0h3m3 0h1m4 0h1m2 0h1m1 0h1m22 0h1m6 0h2m3 0h1m5 0h1m1 0h1m20 0h1m2 0h1m7 0h1m2 0h1m3 0h2m1 0h1m4 0h1m3 0h2m1 0h1m2 0h1m4 0h4m2 0h5M2 303.5h3m2 0h3m6 0h4m3 0h1m2 0h2m2 0h2m2 0h1m1 0h1m2 0h1m1 0h1m5 0h1m3 0h2m4 0h1m4 0h1m16 0h2m6 0h2m2 0h2m22 0h1m5 0h1m1 0h2m7 0h1m4 0h1m1 0h4m3 0h2m2 0h3m4 0h1m4 0h4m1 0h4m1 0h1M2 304.5h2m4 0h2m1 0h1m6 0h3m2 0h1m2 0h2m8 0h1m4 0h1m9 0h2m9 0h1m16 0h2m6 0h2m2 0h2m15 0h1m6 0h2m6 0h2m7 0h1m4 0h1m1 0h4m3 0h2m2 0h3m4 0h1m4 0h1m1 0h1m3 0h1m1 0h1m1 0h1M2 305.5h2m5 0h1m1 0h2m1 0h1m3 0h3m5 0h2m5 0h1m17 0h2m8 0h2m19 0h1m8 0h2m15 0h1m7 0h1m6 0h2m7 0h1m6 0h5m1 0h3m2 0h3m4 0h1m2 0h1m3 0h2m2 0h1m1 0h1m1 0h1M2 306.5h1m6 0h1m2 0h1m1 0h1m2 0h4m4 0h1m1 0h1m5 0h2m16 0h1m9 0h2m6 0h1m1 0h2m9 0h1m7 0h3m1 0h3m11 0h1m7 0h2m14 0h1m5 0h5m2 0h2m3 0h1m5 0h6m2 0h3m1 0h1m1 0h1m1 0h1M1 307.5h2m9 0h1m4 0h2m1 0h1m6 0h1m5 0h2m26 0h1m8 0h3m11 0h1m6 0h2m1 0h3m9 0h1m9 0h2m8 0h1m5 0h1m5 0h1m1 0h2m3 0h1m4 0h1m5 0h6m2 0h3m1 0h1m1 0h1m1 0h1M1 308.5h2m3 0h1m5 0h1m4 0h1m3 0h1m5 0h2m4 0h2m19 0h2m14 0h3m5 0h1m5 0h1m6 0h2m1 0h3m5 0h1m3 0h2m9 0h1m5 0h2m1 0h1m11 0h1m1 0h2m3 0h1m4 0h1m5 0h2m1 0h4m1 0h1m3 0h1m1 0h1m1 0h1M2 309.5h1m3 0h2m2 0h1m6 0h1m10 0h1m4 0h1m20 0h2m14 0h1m1 0h1m5 0h1m5 0h1m6 0h6m5 0h1m21 0h1m1 0h1m11 0h1m7 0h1m3 0h1m2 0h2m1 0h2m1 0h1m2 0h3m3 0h2m2 0h1M10 310.5h1m22 0h1m26 0h1m11 0h1m4 0h1m6 0h1m7 0h2m2 0h1m1 0h1m2 0h2m21 0h1m13 0h2m6 0h1m1 0h1m4 0h2m2 0h1m4 0h3m3 0h2m2 0h1M1 311.5h1m2 0h1m5 0h2m6 0h1m23 0h1m17 0h1m3 0h1m12 0h1m12 0h1m5 0h1m1 0h1m2 0h1m5 0h1m12 0h1m7 0h2m1 0h2m5 0h3m1 0h1m3 0h1m6 0h3m6 0h3m3 0h1M4 312.5h1m5 0h2m6 0h1m23 0h1m6 0h1m11 0h1m2 0h1m12 0h1m4 0h1m5 0h1m1 0h1m5 0h1m1 0h1m20 0h1m8 0h5m3 0h1m2 0h2m1 0h1m2 0h2m6 0h3m6 0h3m3 0h1M4 313.5h1m5 0h3m5 0h1m22 0h3m5 0h1m11 0h1m2 0h1m17 0h1m7 0h1m4 0h2m1 0h1m18 0h1m1 0h1m9 0h2m5 0h1m3 0h1m1 0h1m1 0h3m6 0h3m5 0h4m3 0h1M4 314.5h1m3 0h1m1 0h3m21 0h1m4 0h1m2 0h2m5 0h1m11 0h1m2 0h1m7 0h1m6 0h1m2 0h1m7 0h1m4 0h2m1 0h1m6 0h1m11 0h2m1 0h1m8 0h2m5 0h1m3 0h1m3 0h2m5 0h1m2 0h2m1 0h1m3 0h3m7 0h1M2 315.5h1m5 0h5m21 0h1m7 0h2m5 0h1m3 0h1m7 0h1m2 0h1m7 0h1m6 0h1m2 0h1m7 0h1m7 0h1m1 0h1m4 0h1m11 0h2m1 0h1m6 0h1m12 0h1m3 0h1m2 0h1m3 0h1m1 0h5m3 0h3m7 0h2M0 316.5h3m5 0h4m13 0h1m7 0h2m7 0h2m9 0h1m10 0h1m4 0h1m9 0h1m2 0h1m3 0h1m3 0h1m6 0h2m1 0h1m2 0h1m1 0h1m10 0h7m5 0h1m11 0h1m3 0h1m2 0h1m3 0h1m1 0h2m1 0h2m3 0h2m9 0h1M0 317.5h3m4 0h1m1 0h2m4 0h1m9 0h1m7 0h2m5 0h1m1 0h2m9 0h1m15 0h1m9 0h1m6 0h1m1 0h1m1 0h2m5 0h1m1 0h2m2 0h1m3 0h1m3 0h2m3 0h2m1 0h4m5 0h1m13 0h1m4 0h1m5 0h2m1 0h2m14 0h1M0 318.5h3m3 0h2m1 0h2m4 0h1m9 0h1m2 0h1m3 0h1m7 0h1m1 0h2m9 0h1m14 0h2m9 0h1m6 0h3m1 0h2m5 0h1m1 0h1m2 0h2m3 0h1m2 0h3m6 0h2m1 0h1m5 0h1m9 0h1m8 0h1m5 0h1m2 0h2M0 319.5h2m4 0h2m1 0h3m1 0h1m1 0h1m4 0h2m6 0h2m2 0h1m16 0h1m3 0h1m14 0h2m8 0h1m8 0h2m1 0h2m5 0h3m2 0h2m6 0h3m7 0h1m6 0h2m9 0h1m13 0h2m2 0h2M0 320.5h1m5 0h2m1 0h3m1 0h1m6 0h2m2 0h1m3 0h2m1 0h2m5 0h1m10 0h1m3 0h2m14 0h1m8 0h1m4 0h1m3 0h1m9 0h2m3 0h2m7 0h1m8 0h1m3 0h1m2 0h2m9 0h1m13 0h2m3 0h1M2 321.5h1m1 0h1m1 0h2m1 0h2m2 0h2m5 0h1m3 0h1m2 0h3m1 0h2m3 0h1m1 0h1m10 0h1m3 0h1m4 0h2m9 0h1m13 0h1m3 0h1m9 0h2m3 0h1m1 0h2m14 0h3m1 0h1m2 0h1m1 0h1m8 0h1m10 0h1m3 0h1m6 0h1M2 322.5h1m1 0h1m1 0h1m3 0h1m4 0h1m7 0h2m2 0h3m2 0h1m3 0h1m11 0h2m3 0h1m2 0h1m1 0h1m10 0h1m16 0h2m10 0h1m1 0h1m3 0h1m15 0h3m1 0h1m4 0h3m5 0h2m7 0h1m2 0h1m3 0h1m6 0h1m10 0h1M1 323.5h2m3 0h1m3 0h1m4 0h1m7 0h2m2 0h1m1 0h1m6 0h1m11 0h1m4 0h1m2 0h1m3 0h1m8 0h1m17 0h1m5 0h1m4 0h3m3 0h1m10 0h1m4 0h1m1 0h1m1 0h1m4 0h3m5 0h2m7 0h1m12 0h3m3 0h2m4 0h1M1 324.5h2m3 0h2m2 0h1m1 0h1m2 0h1m7 0h2m4 0h1m6 0h1m19 0h1m3 0h1m4 0h1m3 0h1m6 0h1m1 0h1m8 0h1m5 0h1m4 0h3m2 0h1m9 0h1m1 0h1m6 0h1m1 0h1m4 0h3m5 0h2m20 0h3m3 0h1m5 0h1M0 325.5h3m3 0h2m2 0h4m6 0h2m1 0h1m5 0h1m6 0h1m6 0h1m16 0h1m8 0h1m8 0h1m12 0h1m1 0h1m3 0h1m1 0h2m2 0h1m3 0h1m1 0h1m12 0h1m1 0h1m5 0h2m6 0h1m1 0h1m18 0h3m2 0h2M0 326.5h3m3 0h2m1 0h5m6 0h3m20 0h1m25 0h1m5 0h1m2 0h1m18 0h1m4 0h2m3 0h1m14 0h1m1 0h1m2 0h1m2 0h2m6 0h1m1 0h1m22 0h2m2 0h1M0 327.5h2m2 0h1m1 0h2m1 0h5m2 0h1m3 0h3m31 0h1m20 0h1m1 0h1m5 0h1m13 0h1m3 0h1m1 0h1m3 0h1m14 0h1m1 0h1m2 0h1m2 0h1m9 0h1m22 0h2m2 0h1M0 328.5h2m2 0h1m1 0h1m2 0h1m2 0h2m2 0h2m3 0h2m31 0h2m10 0h1m10 0h1m8 0h1m10 0h1m3 0h1m11 0h1m13 0h1m12 0h1m16 0h2m4 0h2M0 329.5h2m2 0h3m5 0h1m3 0h2m3 0h2m2 0h1m2 0h1m26 0h1m21 0h1m15 0h2m2 0h1m3 0h1m11 0h1m13 0h2m3 0h1m7 0h1m16 0h3m4 0h1M0 330.5h1m3 0h3m9 0h2m3 0h1m3 0h2m1 0h2m4 0h1m42 0h1m4 0h1m10 0h2m2 0h1m2 0h2m3 0h1m7 0h1m15 0h2m1 0h1m24 0h3M4 331.5h2m10 0h1m17 0h1m47 0h1m10 0h1m3 0h2m1 0h1m4 0h1m7 0h1m4 0h1m10 0h2m1 0h1m10 0h1m15 0h1m7 0h1M3 332.5h2m29 0h1m39 0h1m7 0h1m10 0h1m3 0h1m2 0h1m5 0h1m6 0h1m4 0h1m10 0h2m11 0h2m15 0h1m2 0h1m4 0h1M34 333.5h1m39 0h1m22 0h1m2 0h1m5 0h1m3 0h1m2 0h1m4 0h1m10 0h1m13 0h1m18 0h1m4 0h1m1 0h1M74 334.5h1m1 0h1m20 0h1m2 0h1m33 0h1m8 0h1m18 0h1m5 0h2M76 335.5h1m8 0h1m11 0h1m2 0h1m33 0h1m23 0h1m9 0h2M7 336.5h1m68 0h2m3 0h1m3 0h1m11 0h1m36 0h1m14 0h1m3 0h1m4 0h1m1 0h1m8 0h1M7 337.5h1m68 0h2m19 0h2m31 0h1m3 0h1m14 0h1m2 0h2m2 0h1m3 0h2m1 0h3m3 0h1M6 338.5h1m69 0h1m20 0h2m29 0h3m21 0h2m2 0h1m6 0h3m3 0h1M61 339.5h1m5 0h1m29 0h1m3 0h1m7 0h1m14 0h1m3 0h2m22 0h2m1 0h2m6 0h2m4 0h1M61 340.5h1m30 0h1m3 0h1m3 0h2m7 0h1m14 0h1m16 0h1m3 0h1m6 0h2m1 0h2m6 0h2M61 341.5h1m20 0h1m9 0h1m7 0h2m6 0h4m18 0h2m9 0h1m3 0h1m6 0h2m1 0h2m1 0h1m4 0h2m1 0h1M6 342.5h1m62 0h1m12 0h1m12 0h2m3 0h2m6 0h5m4 0h1m12 0h2m9 0h1m3 0h1m3 0h1m1 0h3m2 0h1m1 0h1m4 0h2m1 0h1m5 0h1M7 343.5h1m52 0h1m8 0h1m12 0h1m6 0h1m5 0h2m11 0h2m2 0h1m4 0h1m12 0h1m10 0h3m5 0h1m1 0h5m2 0h2m3 0h3m6 0h1M69 344.5h1m12 0h1m6 0h1m5 0h1m1 0h1m1 0h1m9 0h1m2 0h1m4 0h1m8 0h2m13 0h3m7 0h5m2 0h1m4 0h3m6 0h1M82 345.5h1m6 0h1m5 0h1m1 0h3m4 0h1m3 0h2m16 0h1m8 0h1m5 0h1m1 0h1m8 0h2m1 0h1m7 0h3m6 0h1M89 346.5h1m4 0h2m1 0h3m4 0h1m3 0h2m6 0h1m9 0h1m4 0h1m3 0h2m4 0h1m2 0h1m7 0h4m4 0h1m3 0h2m2 0h1m2 0h2M8 347.5h1m10 0h1m38 0h1m14 0h1m14 0h2m4 0h7m1 0h1m1 0h1m3 0h1m12 0h2m5 0h1m2 0h1m2 0h3m1 0h1m5 0h1m5 0h5m5 0h2m2 0h5m2 0h2M6 348.5h1m1 0h1m10 0h1m24 0h1m13 0h1m2 0h1m2 0h1m8 0h1m14 0h2m5 0h4m1 0h5m2 0h2m4 0h1m7 0h2m5 0h1m6 0h5m4 0h2m1 0h1m1 0h9m2 0h2m2 0h6m1 0h2M8 349.5h1m4 0h1m5 0h1m23 0h2m7 0h1m5 0h1m2 0h1m2 0h3m6 0h1m5 0h1m6 0h1m1 0h1m6 0h4m1 0h5m2 0h2m4 0h1m7 0h2m4 0h2m6 0h5m2 0h4m1 0h1m1 0h13m1 0h7m1 0h2M2 350.5h1m17 0h1m10 0h1m11 0h2m7 0h1m5 0h1m2 0h1m2 0h3m6 0h1m5 0h1m8 0h1m7 0h3m1 0h5m16 0h2m1 0h1m2 0h1m6 0h6m2 0h31M2 351.5h1m17 0h1m10 0h1m8 0h2m1 0h2m6 0h2m8 0h1m2 0h1m1 0h1m12 0h2m15 0h2m3 0h4m16 0h2m1 0h1m9 0h6m1 0h32M2 352.5h1m3 0h1m24 0h1m9 0h1m1 0h1m2 0h1m4 0h2m7 0h2m2 0h1m1 0h1m13 0h1m3 0h1m11 0h2m5 0h2m13 0h1m1 0h3m1 0h3m7 0h3m1 0h2m1 0h32M2 353.5h1m3 0h2m25 0h1m3 0h1m3 0h1m1 0h1m2 0h2m3 0h2m8 0h1m2 0h1m15 0h1m15 0h2m5 0h1m9 0h2m3 0h1m2 0h2m1 0h3m4 0h1m2 0h3m1 0h2m1 0h32M2 354.5h1m3 0h2m7 0h1m21 0h1m8 0h2m3 0h2m8 0h2m1 0h1m3 0h1m2 0h1m16 0h1m3 0h3m1 0h2m20 0h1m5 0h3m8 0h2m1 0h2m1 0h32M6 355.5h1m8 0h1m16 0h1m14 0h1m3 0h2m9 0h1m8 0h1m10 0h1m4 0h2m3 0h6m14 0h1m11 0h1m4 0h1m5 0h1m2 0h2m1 0h32M6 356.5h1m2 0h1m4 0h2m16 0h1m3 0h1m6 0h1m8 0h1m17 0h2m10 0h1m4 0h2m3 0h7m13 0h1m6 0h2m3 0h2m3 0h1m7 0h3m1 0h32M6 357.5h1m2 0h1m4 0h2m16 0h1m3 0h2m5 0h1m2 0h1m5 0h2m3 0h1m8 0h1m3 0h2m10 0h1m5 0h1m3 0h3m4 0h1m4 0h1m14 0h2m3 0h2m3 0h1m7 0h3m1 0h32M6 358.5h1m25 0h1m3 0h3m4 0h1m2 0h1m3 0h1m1 0h1m2 0h1m1 0h1m8 0h1m3 0h1m11 0h1m5 0h1m3 0h3m11 0h1m12 0h3m1 0h3m3 0h2m1 0h1m4 0h3m1 0h32M6 359.5h1m6 0h1m18 0h2m2 0h3m2 0h1m4 0h1m3 0h1m4 0h1m1 0h2m2 0h1m1 0h1m2 0h1m14 0h2m5 0h1m3 0h3m1 0h1m2 0h1m1 0h1m4 0h1m12 0h7m3 0h2m1 0h2m3 0h2m2 0h32M3 360.5h1m2 0h1m23 0h1m1 0h2m3 0h1m3 0h1m8 0h2m3 0h1m1 0h2m1 0h2m1 0h2m2 0h2m13 0h1m5 0h1m3 0h3m1 0h1m2 0h1m1 0h1m4 0h1m13 0h6m3 0h1m2 0h2m3 0h2m2 0h32M0 361.5h1m2 0h1m2 0h1m1 0h1m19 0h1m1 0h1m3 0h1m6 0h2m7 0h2m3 0h1m3 0h5m3 0h2m3 0h2m10 0h1m3 0h1m3 0h2m2 0h1m1 0h3m5 0h1m9 0h1m3 0h4m3 0h1m1 0h1m2 0h2m1 0h1m1 0h3m1 0h32M0 362.5h1m2 0h1m2 0h1m1 0h1m1 0h1m17 0h1m1 0h1m3 0h1m6 0h2m7 0h2m3 0h1m3 0h5m1 0h1m1 0h2m3 0h2m10 0h2m2 0h1m3 0h2m2 0h1m1 0h3m15 0h1m3 0h4m3 0h1m1 0h1m2 0h2m1 0h1m1 0h3m1 0h32" stroke="#fff" stroke-width="1" fill="none"/>
<path d="M59 247.5h1m20 0h1m19 0h3m13 0h1m3 0h1m17 0h1m6 0h1m3 0h1m7 0h1M45 248.5h1m13 0h2m3 0h1m3 0h1m4 0h1m10 0h1m20 0h1m18 0h1m33 0h2m11 0h1M50 249.5h1m5 0h1m5 0h1m3 0h2m15 0h1m8 0h1m10 0h1m6 0h1m10 0h3m5 0h1m17 0h2m10 0h1m3 0h1m2 0h1M3 250.5h1m8 0h1m7 0h1m14 0h1m45 0h1m3 0h1m20 0h1m2 0h2m11 0h1m27 0h1m18 0h2m1 0h1M35 251.5h1m6 0h1m11 0h1m43 0h1m2 0h2m5 0h2m5 0h1m4 0h2M6 252.5h1m11 0h1m4 0h1m20 0h2m5 0h1m9 0h1m17 0h1m9 0h1m1 0h1m7 0h1m21 0h1m28 0h1m3 0h1M6 253.5h1m9 0h1m28 0h1m12 0h1m2 0h1m6 0h1m25 0h1m9 0h2m15 0h1m24 0h1m2 0h1m13 0h1M26 254.5h1m17 0h1m21 0h1m6 0h1m1 0h1m7 0h1m6 0h1m11 0h1m2 0h1m6 0h1m2 0h1m1 0h1m35 0h1M14 255.5h1m15 0h1m23 0h1m7 0h1m3 0h1m24 0h1m1 0h1m2 0h2m6 0h2m7 0h1m4 0h1m41 0h1m4 0h1m3 0h1M73 256.5h1m1 0h1m21 0h1m7 0h1m7 0h1m3 0h2m24 0h1m16 0h1m1 0h2M17 257.5h1m3 0h1m34 0h1m16 0h2m2 0h1m15 0h1m6 0h2m13 0h1m19 0h1m23 0h1m4 0h1M18 258.5h1m4 0h1m5 0h1m21 0h1m14 0h1m3 0h1m25 0h1m51 0h1m8 0h1m2 0h1m11 0h1M3 259.5h1m11 0h1m7 0h1m18 0h1m1 0h1m6 0h1m17 0h1m1 0h1m27 0h2m6 0h1m3 0h1m3 0h1m5 0h1m9 0h1m25 0h1M26 260.5h1m1 0h1m4 0h1m31 0h1m3 0h1m10 0h1m21 0h2m7 0h1m14 0h1m37 0h2M33 261.5h1m25 0h1m14 0h1m21 0h1m5 0h1m1 0h2m16 0h1m3 0h1m38 0h1M15 262.5h1m15 0h1m17 0h1m9 0h1m9 0h1m5 0h1m6 0h1m3 0h2m12 0h1m5 0h1m14 0h1m10 0h1m2 0h1m11 0h1m22 0h1m1 0h1M44 263.5h1m5 0h1m18 0h1m15 0h2m1 0h1m9 0h2m27 0h1m35 0h1M28 264.5h1m29 0h2m3 0h1m2 0h1m1 0h2m5 0h1m10 0h1m20 0h1m1 0h1m6 0h1m9 0h1m41 0h1M25 265.5h1m24 0h1m5 0h1m2 0h1m2 0h1m11 0h3m2 0h1m13 0h2m1 0h1m18 0h1m3 0h2m9 0h1m34 0h1m1 0h1m2 0h1M32 266.5h1m4 0h2m2 0h1m1 0h1m8 0h1m5 0h1m3 0h1m6 0h1m11 0h1m7 0h1m5 0h1m3 0h1m6 0h1m6 0h1m5 0h1m6 0h2m3 0h1M37 267.5h1m4 0h1m2 0h2m2 0h1m30 0h1m1 0h1m6 0h1m4 0h1m5 0h2m20 0h1m2 0h1m2 0h1m23 0h1M35 268.5h3m3 0h1m7 0h1m9 0h2m6 0h1m4 0h1m5 0h1m10 0h1m3 0h1m4 0h1m21 0h1m1 0h1m4 0h1m35 0h1m2 0h1M35 269.5h1m8 0h1m10 0h1m3 0h1m4 0h1m11 0h1m1 0h1m15 0h1m6 0h1m20 0h2m5 0h1m41 0h1M29 270.5h1m14 0h1m7 0h1m11 0h1m27 0h1m24 0h1m8 0h1m2 0h1m3 0h2m3 0h1m33 0h1M2 271.5h1m27 0h1m9 0h1m1 0h1m13 0h1m22 0h1m11 0h1m9 0h1m7 0h2m15 0h1m2 0h1m1 0h1m2 0h1m32 0h2m1 0h1M38 272.5h1m1 0h1m1 0h1m10 0h1m2 0h1m6 0h1m8 0h2m6 0h1m9 0h2m1 0h1m4 0h1m11 0h1m15 0h1m4 0h2m34 0h2m1 0h1m1 0h1M38 273.5h1m5 0h1m20 0h1m23 0h1m20 0h1m9 0h1m2 0h1m39 0h1m6 0h1M7 274.5h2m41 0h1m12 0h1m20 0h1m1 0h2m12 0h1m15 0h1m2 0h1m10 0h1m38 0h1M5 275.5h1m43 0h2m1 0h2m23 0h1m3 0h1m5 0h1m4 0h1m19 0h1m1 0h1m1 0h1m4 0h1m8 0h1m18 0h1m7 0h1m3 0h1m5 0h1M49 276.5h1m17 0h1m4 0h1m5 0h1m11 0h1m21 0h1m7 0h1m19 0h1m11 0h2m16 0h1M25 277.5h1m15 0h1m3 0h1m23 0h1m14 0h1m2 0h1m5 0h1m7 0h1m21 0h1m23 0h1m17 0h1M6 278.5h1m1 0h1m40 0h2m18 0h1m7 0h1m39 0h2m4 0h1M10 279.5h1m29 0h1m2 0h1m2 0h1m20 0h1m9 0h3m3 0h1m4 0h1m1 0h2m13 0h1m4 0h1m1 0h1m9 0h2m3 0h1m6 0h1m3 0h1m15 0h1M6 280.5h1m12 0h2m14 0h1m2 0h1m15 0h1m7 0h1m2 0h1m5 0h1m6 0h4m1 0h1m4 0h3m17 0h1m20 0h1M42 281.5h1m7 0h1m8 0h1m6 0h2m11 0h1m5 0h1m7 0h2m3 0h2m2 0h2m11 0h1m5 0h1m3 0h1m3 0h1m1 0h1m13 0h1m13 0h1M31 282.5h1m29 0h2m29 0h2m9 0h1m2 0h2m30 0h1M16 283.5h1m22 0h1m2 0h1m11 0h1m2 0h1m3 0h2m10 0h1m4 0h1m18 0h1m3 0h1m14 0h1m1 0h1m2 0h1m3 0h1m1 0h1m1 0h1m4 0h1m33 0h1M10 284.5h2m4 0h1m21 0h2m2 0h2m3 0h1m1 0h1m19 0h1m30 0h2m2 0h1m10 0h1m7 0h1M10 285.5h1m18 0h1m7 0h1m14 0h3m12 0h1m7 0h1m5 0h1m10 0h1m4 0h1m2 0h1m6 0h1m7 0h1m2 0h1M7 286.5h1m27 0h1m2 0h1m12 0h1m2 0h1m8 0h1m3 0h1m3 0h1m1 0h1m16 0h1m10 0h1m3 0h1m24 0h1m8 0h1m21 0h2M20 287.5h1m4 0h1m12 0h1m4 0h1m2 0h1m2 0h1m10 0h1m7 0h1m5 0h1m2 0h1m15 0h1m9 0h1m23 0h1m2 0h2m8 0h2m23 0h1m4 0h1M9 288.5h1m7 0h1m7 0h2m11 0h1m21 0h1m17 0h1m6 0h1m38 0h1m14 0h1m32 0h1M51 289.5h2m22 0h1m15 0h1m13 0h1m23 0h1m27 0h1m4 0h1M12 290.5h1m26 0h1m1 0h1m2 0h1m6 0h1m3 0h2m5 0h1m16 0h1m49 0h2m5 0h1m23 0h1m2 0h2m2 0h1M18 291.5h1m33 0h1m3 0h1m4 0h1m7 0h1m5 0h1m5 0h1m3 0h1m1 0h1m22 0h1m6 0h3m10 0h1m14 0h1m9 0h1m7 0h1M3 292.5h1m32 0h1m1 0h1m2 0h1m4 0h1m14 0h1m6 0h1m5 0h1m4 0h1m1 0h1m2 0h1m19 0h1m11 0h1m2 0h1m3 0h1m3 0h1m2 0h1m2 0h1m8 0h1m16 0h2M33 293.5h2m3 0h1m11 0h2m20 0h1m6 0h1m2 0h1m8 0h1m14 0h1m5 0h1m11 0h1m3 0h1m10 0h1m5 0h1m15 0h1M1 294.5h1m32 0h1m1 0h1m3 0h1m5 0h1m7 0h1m13 0h2m3 0h1m29 0h1m2 0h2m3 0h1m3 0h1m2 0h1m1 0h1m4 0h3m5 0h1m32 0h1m3 0h1M45 295.5h2m21 0h1m3 0h1m4 0h1m16 0h1m14 0h1m2 0h1m57 0h1m1 0h1M38 296.5h1m18 0h1m6 0h1m7 0h1m2 0h3m20 0h1m9 0h1m15 0h1m1 0h1m26 0h1m4 0h1m3 0h1M7 297.5h1m32 0h1m18 0h1m7 0h1m6 0h1m1 0h2m16 0h1m4 0h1m10 0h1m3 0h2m20 0h2m13 0h1m5 0h1m8 0h1M29 298.5h1m5 0h1m13 0h2m21 0h1m5 0h1m8 0h3m3 0h1m6 0h1m4 0h1m11 0h1m16 0h1m4 0h2m6 0h1m14 0h1m2 0h1M65 299.5h1m4 0h1m10 0h1m4 0h1m2 0h2m14 0h1m7 0h1m26 0h1m15 0h1m2 0h1m1 0h1m4 0h1m1 0h2M11 300.5h1m3 0h1m16 0h1m23 0h1m2 0h1m5 0h2m4 0h1m6 0h1m2 0h1m4 0h1m18 0h1m7 0h1m5 0h1m11 0h1m1 0h1m8 0h1m16 0h1m6 0h1M19 301.5h1m5 0h1m6 0h1m16 0h1m14 0h3m11 0h2m9 0h1m4 0h1m12 0h1m7 0h1m4 0h2m13 0h1m10 0h2m1 0h1m2 0h1m3 0h1M36 302.5h2m8 0h1m9 0h1m6 0h2m1 0h1m8 0h1m2 0h2m1 0h1m4 0h1m6 0h2m8 0h1m16 0h1m1 0h1m3 0h1m1 0h1m4 0h1m11 0h1m2 0h1M12 303.5h1m7 0h1m34 0h1m2 0h1m1 0h1m20 0h1m4 0h1m9 0h1m8 0h1m4 0h1m6 0h1m2 0h1m5 0h2m7 0h2m1 0h1m16 0h1M4 304.5h1m20 0h1m3 0h1m18 0h1m18 0h1m5 0h1m15 0h1m31 0h2m5 0h2m1 0h1m23 0h1m3 0h1m7 0h1m1 0h1M4 305.5h1m2 0h2m1 0h1m17 0h1m3 0h1m1 0h1m10 0h1m1 0h2m10 0h2m3 0h1m2 0h1m8 0h1m10 0h1m6 0h1m5 0h1m21 0h1m4 0h1m7 0h1m1 0h1m6 0h1m9 0h2m6 0h1M59 306.5h1m7 0h2m7 0h1m8 0h1m1 0h3m16 0h1m8 0h1m8 0h1m12 0h1m15 0h1m8 0h1M3 307.5h1m1 0h1m2 0h1m5 0h1m8 0h1m6 0h1m9 0h1m3 0h1m6 0h1m2 0h1m4 0h1m8 0h1m10 0h1m17 0h2m3 0h1m8 0h1m2 0h1m10 0h1m4 0h1m20 0h1m17 0h1M3 308.5h1m1 0h1m8 0h1m7 0h1m27 0h1m6 0h3m7 0h1m1 0h1m12 0h1m2 0h1m1 0h1m9 0h2m4 0h1m32 0h1m6 0h1m19 0h1M11 309.5h2m8 0h1m35 0h1m29 0h2m15 0h1m8 0h1m7 0h1m17 0h2m1 0h2m3 0h1M7 310.5h1m12 0h1m4 0h1m15 0h1m4 0h1m7 0h1m16 0h1m9 0h3m2 0h3m8 0h1m2 0h1m7 0h1m14 0h1m8 0h1m1 0h1m6 0h1m10 0h1m8 0h1M0 311.5h1m1 0h2m2 0h2m9 0h1m28 0h1m4 0h1m7 0h1m3 0h1m7 0h2m3 0h1m7 0h1m7 0h1m6 0h2m4 0h1m16 0h1m2 0h1m11 0h1M8 312.5h2m14 0h2m20 0h1m23 0h1m1 0h1m8 0h1m9 0h1m34 0h2m7 0h1m2 0h1m11 0h1M23 313.5h1m2 0h1m30 0h2m3 0h1m2 0h1m17 0h1m13 0h1m4 0h1m6 0h1m3 0h1m8 0h1m3 0h1m4 0h1m34 0h2M6 314.5h2m1 0h1m6 0h1m31 0h1m13 0h1m5 0h1m1 0h1m35 0h1m40 0h1m1 0h1m6 0h1m7 0h1m5 0h1M19 315.5h1m17 0h1m10 0h1m13 0h1m3 0h1m3 0h1m6 0h1m11 0h1m6 0h1m12 0h2m8 0h1m23 0h1m5 0h1m15 0h3m2 0h1M7 316.5h1m7 0h1m28 0h1m1 0h2m29 0h1m15 0h1m7 0h1m2 0h1m3 0h1m14 0h1m7 0h1m3 0h2m5 0h1m5 0h1m3 0h1m12 0h1m2 0h1m1 0h2M17 317.5h1m23 0h1m4 0h1m7 0h4m3 0h1m1 0h1m6 0h1m6 0h1m9 0h1m13 0h1m7 0h1m5 0h1m10 0h1m2 0h1m9 0h1m11 0h1m8 0h1m1 0h1m6 0h1M4 318.5h1m31 0h1m11 0h1m3 0h1m3 0h1m9 0h1m37 0h1m22 0h1m1 0h2m6 0h1m13 0h1m6 0h1m10 0h1M41 319.5h1m1 0h1m20 0h1m12 0h1m3 0h1m10 0h3m13 0h1m7 0h1m5 0h2m1 0h1m8 0h1m11 0h1m2 0h1m4 0h1m17 0h1M50 320.5h1m6 0h1m2 0h1m7 0h1m10 0h1m11 0h1m8 0h1m6 0h3m31 0h1m7 0h1M22 321.5h1m11 0h1m20 0h1m12 0h1m22 0h1m18 0h1m5 0h1m14 0h1m2 0h1m6 0h1m4 0h1m5 0h1M20 322.5h1m13 0h2m18 0h2m32 0h1m6 0h1m10 0h1m7 0h1m1 0h1m2 0h1m14 0h1m7 0h2m1 0h1m11 0h1m12 0h1M20 323.5h1m44 0h1m20 0h1m7 0h2m5 0h1m23 0h1m29 0h2m1 0h1m3 0h1m9 0h1M0 324.5h1m2 0h1m15 0h1m6 0h1m55 0h1m5 0h1m5 0h2m46 0h1m4 0h1m4 0h1m2 0h1m8 0h1m2 0h1M83 325.5h1m1 0h1m9 0h1m5 0h1m54 0h1m6 0h1m2 0h1M80 326.5h1m19 0h1m8 0h1m1 0h1m8 0h1m20 0h1m3 0h1m7 0h2m2 0h2M31 327.5h1m53 0h1m6 0h2m14 0h1m2 0h1m3 0h1m53 0h1M2 328.5h1m35 0h1m53 0h1m14 0h2m9 0h1m2 0h1m1 0h1m24 0h1m1 0h1m1 0h1m16 0h1M24 329.5h1m56 0h1m8 0h1m8 0h1m8 0h1m3 0h1m8 0h1m2 0h1m1 0h1m18 0h1m3 0h2m2 0h1m8 0h1m2 0h1m2 0h1M1 330.5h1m5 0h1m27 0h2m33 0h1m10 0h1m6 0h1m6 0h1m8 0h1m3 0h1m11 0h2m30 0h1m9 0h1M30 331.5h2m3 0h1m35 0h1m13 0h1m1 0h1m15 0h1m15 0h1m1 0h1m17 0h1m22 0h1m8 0h1M23 332.5h1m24 0h1m22 0h1m4 0h1m9 0h1m18 0h1m13 0h1m5 0h1m40 0h1m4 0h1M15 333.5h1m4 0h1m14 0h1m26 0h1m23 0h1m4 0h1m22 0h2m39 0h2m14 0h2M20 334.5h1m2 0h1m38 0h1m18 0h1m12 0h1m6 0h1m7 0h1m35 0h1m10 0h1m4 0h1m3 0h1M82 335.5h2m18 0h2m5 0h1m9 0h1m7 0h1m19 0h1m3 0h1m10 0h2m1 0h1M80 336.5h1m5 0h1m40 0h1m22 0h1m11 0h1m7 0h2M58 337.5h1m19 0h1m9 0h2m6 0h1m4 0h1m57 0h1M13 338.5h1m17 0h1m15 0h1m25 0h1m37 0h1m48 0h1M66 339.5h1m43 0h1m33 0h1m22 0h1m4 0h1M19 340.5h1m7 0h1m61 0h1m4 0h1m3 0h1m26 0h1m24 0h1m16 0h1m2 0h1M70 341.5h1m18 0h1m6 0h1m2 0h1m5 0h1m12 0h1m2 0h1m7 0h1m27 0h1m1 0h1m8 0h1m1 0h1M14 342.5h1m23 0h1m4 0h1m20 0h1m14 0h1m49 0h1m16 0h1m20 0h1m2 0h1M29 343.5h1m50 0h1m2 0h1m1 0h1m14 0h1m2 0h1m2 0h1m8 0h1m15 0h1m2 0h1m13 0h1m7 0h1m3 0h1m5 0h1m1 0h1M1 344.5h1m23 0h1m2 0h1m18 0h1m48 0h1m11 0h1m9 0h1m2 0h1m10 0h1m29 0h1m3 0h1M75 345.5h1m1 0h1m8 0h1m9 0h1m34 0h1m6 0h1m23 0h1M58 346.5h1m18 0h1m6 0h1m28 0h1m4 0h1m3 0h2m5 0h1m17 0h1m14 0h1M18 347.5h1m26 0h1m38 0h3m5 0h1m25 0h1m1 0h1m3 0h1m1 0h2m5 0h1m8 0h1m6 0h1m6 0h1M1 348.5h1m30 0h1m23 0h1m29 0h1m24 0h1m4 0h1m1 0h2M7 349.5h1m48 0h1m23 0h1m24 0h1m19 0h2m43 0h1M24 350.5h1m21 0h1m4 0h1m17 0h1m11 0h3m6 0h1m14 0h1m20 0h1m1 0h1M6 351.5h1m84 0h1m3 0h1m14 0h1m7 0h1m6 0h1M5 352.5h1m27 0h1m19 0h1m24 0h1m19 0h1m3 0h1m13 0h1m13 0h1m1 0h1m7 0h1M77 353.5h1m6 0h1m7 0h1m1 0h1m28 0h1M56 354.5h1m45 0h1m4 0h2m4 0h1m2 0h1M28 355.5h1m13 0h1m14 0h1m8 0h1m23 0h1m7 0h2m2 0h2m5 0h1m3 0h1m2 0h1m14 0h1M0 356.5h1m45 0h1m7 0h1m6 0h1m7 0h1m48 0h1m4 0h1m6 0h1m1 0h1M10 357.5h1m68 0h2m26 0h1m9 0h1m8 0h1m1 0h1m5 0h1M22 358.5h1m30 0h1m2 0h1m30 0h1m2 0h1m8 0h1m4 0h1m6 0h1m21 0h2M60 359.5h1m19 0h1M59 360.5h1m37 0h1m5 0h1m3 0h1m3 0h1m19 0h1M32 361.5h2m55 0h1m7 0h1m3 0h1m6 0h1M66 362.5h1m16 0h1m5 0h1m7 0h1m3 0h1m29 0h1" stroke="#2d0ce1" stroke-width="1" fill="none"/>
</g></g>
<rect x="139.00" y="345.40" width="35.00" height="18.10" fill="#fff"/>
<text x="142.90" y="356.20" class="sb">25 µm</text>
<rect x="143.30" y="359.40" width="23.70" height="2.50" fill="#000"/>
<clipPath id="cpa3"><rect x="345.2" y="0" width="173.60" height="115.30"/></clipPath>
<g clip-path="url(#cpa3)"><g filter="url(#sblr)">
<rect x="343.2" y="-2" width="177.60" height="119.30" fill="#ff1c0c"/>
<path d="M347 0.5h3m1 0h2m6 0h1m5 0h1m12 0h1M347 1.5h6m4 0h6m15 0h1M350 2.5h2m5 0h7M345 3.5h2m3 0h1M345 4.5h2m2 0h4m11 0h1m12 0h2M346 5.5h8m2 0h2m7 0h1m10 0h2M347 6.5h4m5 0h3m5 0h1M348 7.5h3m4 0h2m2 0h1m4 0h2M348 8.5h3m2 0h2m4 0h2M349 9.5h3M355 10.5h2M352 11.5h1M349 12.5h4M347 13.5h6M345 14.5h2m5 0h2M345 15.5h3M345 16.5h6M345 17.5h2m1 0h3M348 18.5h3M348 19.5h2M349 20.5h1m4 0h1M348 21.5h3M349 22.5h1m1 0h3M351 23.5h2M348 24.5h5M348 25.5h2m1 0h1M348 28.5h2M349 30.5h2M347 31.5h3m21 0h3m9 0h2M345 32.5h5m2 0h1m5 0h4m12 0h1m7 0h3M345 33.5h4m8 0h5m4 0h2m2 0h1m8 0h6M345 34.5h6m6 0h4m5 0h8m7 0h1M345 35.5h3m1 0h2m3 0h1m3 0h3m5 0h2m2 0h2m13 0h1M345 36.5h5m4 0h1m24 0h2m4 0h1M347 37.5h2m5 0h1m19 0h1m3 0h7M345 38.5h5m4 0h1m2 0h6m6 0h1m3 0h1m2 0h7M345 39.5h7m2 0h1m1 0h7m2 0h1m5 0h10m4 0h2M345 40.5h7m2 0h1m2 0h5m3 0h2m3 0h12m4 0h2M345 41.5h8m3 0h6m4 0h2m4 0h2m1 0h5m5 0h3M345 42.5h8m7 0h2m2 0h6m7 0h6m1 0h4M347 43.5h4m8 0h3m2 0h5m2 0h1m6 0h4m5 0h2M348 44.5h5m3 0h4m1 0h4m1 0h2m3 0h1m7 0h1m8 0h1M347 45.5h7m5 0h1m3 0h2m1 0h1m7 0h2m8 0h1M345 46.5h16m3 0h7m5 0h1M345 47.5h5m1 0h12m3 0h5m11 0h1M345 48.5h7m1 0h13m3 0h2m11 0h1M345 49.5h21m2 0h6m5 0h3M345 50.5h28m6 0h2M345 51.5h5m1 0h18m2 0h2m12 0h2m1 0h2M345 52.5h2m1 0h9m1 0h9m8 0h7m4 0h2m128 0h2M345 53.5h11m4 0h6m15 0h2m1 0h4m127 0h2M346 54.5h11m4 0h5m3 0h2m2 0h16m126 0h1M346 55.5h11m3 0h6m2 0h12m3 0h5m129 0h1M347 56.5h19m1 0h3m1 0h11M345 57.5h12m2 0h10m2 0h1m4 0h7m1 0h3M346 58.5h5m1 0h15m3 0h4m4 0h1m2 0h3m2 0h1M345 59.5h6m3 0h13m3 0h6m2 0h2M345 60.5h4m2 0h2m4 0h3m1 0h5m5 0h5m2 0h2M345 61.5h3m3 0h3m8 0h5m5 0h3m3 0h2M352 62.5h1m13 0h1m6 0h1m3 0h2M345 63.5h1m146 0h1m6 0h1M345 64.5h2m39 0h2M356 65.5h1m23 0h2m5 0h1M348 66.5h1m6 0h3m5 0h1m22 0h3m110 0h2M353 67.5h1m2 0h2m29 0h1M379 68.5h1m118 0h5M345 69.5h3m5 0h2m141 0h1m1 0h5M345 70.5h8m133 0h1m5 0h1m4 0h3m1 0h2M345 71.5h3m2 0h1m146 0h2m2 0h2M345 72.5h1m8 0h1m142 0h3m1 0h2M351 73.5h5m17 0h1m2 0h2m119 0h3m2 0h1M349 74.5h4m23 0h2m116 0h1m3 0h1M347 75.5h1m2 0h2m20 0h1m102 0h1m15 0h1m2 0h1m10 0h1M346 76.5h3m125 0h3m5 0h3m6 0h7m2 0h2m2 0h3M346 77.5h2m3 0h2m2 0h2m118 0h1m6 0h16m6 0h3m2 0h2m3 0h4M345 78.5h2m4 0h2m3 0h3m15 0h2m99 0h2m5 0h7m5 0h4m6 0h3m2 0h4M345 79.5h3m7 0h4m7 0h2m108 0h1m6 0h3m8 0h2m12 0h2M345 80.5h3m3 0h1m2 0h5m124 0h4m2 0h2m3 0h2M345 81.5h1m2 0h3m1 0h2m2 0h2m8 0h1m10 0h1m105 0h4m3 0h1m3 0h2m6 0h2m4 0h2M345 82.5h2m2 0h3m9 0h2m3 0h2m105 0h2m2 0h1m6 0h5m1 0h1m11 0h4m2 0h2M349 83.5h3m19 0h5m97 0h3m1 0h1m2 0h3m2 0h4m2 0h1m3 0h4m2 0h5M349 84.5h2m19 0h7m1 0h3m93 0h4m4 0h2m3 0h1m7 0h3m3 0h5m4 0h3M348 85.5h4m25 0h4m8 0h1m84 0h2m6 0h8m2 0h2m2 0h7m1 0h2m1 0h6m3 0h2M348 86.5h2m2 0h1m5 0h1m20 0h1m5 0h5m84 0h1m4 0h1m2 0h2m1 0h5m7 0h6m3 0h3m4 0h5M352 87.5h2m2 0h4m1 0h1m3 0h3m6 0h1m4 0h2m96 0h5m1 0h2m2 0h5m1 0h4m2 0h6m1 0h2m4 0h3M352 88.5h3m2 0h2m20 0h2m97 0h3m7 0h13m1 0h3m8 0h5M348 89.5h3m26 0h1m104 0h2m5 0h12m1 0h9m2 0h2M348 90.5h2m1 0h2m2 0h2m20 0h1m95 0h4m5 0h2m1 0h1m2 0h4m2 0h17M351 91.5h2m3 0h2m13 0h2m4 0h2m94 0h5m1 0h1m3 0h1m3 0h1m3 0h1m2 0h5m1 0h3m2 0h6m2 0h2M377 92.5h2m94 0h2m2 0h6m7 0h2m4 0h3m1 0h4m4 0h2m3 0h2M365 93.5h2m111 0h1m1 0h7m3 0h1m5 0h8m4 0h2M348 94.5h1m11 0h2m3 0h2m108 0h2m7 0h3m3 0h9m1 0h3m5 0h2m1 0h2M351 95.5h2m7 0h2m6 0h3m85 0h1m4 0h2m12 0h2m3 0h1m2 0h5m2 0h1m2 0h12m3 0h5m1 0h4M351 96.5h3m6 0h2m6 0h8m99 0h2m1 0h2m1 0h3m1 0h5m3 0h19m4 0h2M356 97.5h2m3 0h1m9 0h2m98 0h1m6 0h1m7 0h4m3 0h1m1 0h7m1 0h1m4 0h3m3 0h4M356 98.5h3m4 0h2m5 0h3m98 0h1m11 0h10m3 0h7m1 0h1m3 0h3m2 0h5M354 99.5h1m9 0h1m111 0h1m2 0h4m3 0h1m1 0h5m3 0h6m6 0h10M353 100.5h2m9 0h2m107 0h1m2 0h1m2 0h5m1 0h2m2 0h13m3 0h13M353 101.5h1m4 0h1m8 0h2m97 0h2m5 0h1m6 0h6m2 0h3m2 0h25M352 102.5h3m3 0h1m4 0h2m2 0h2m97 0h3m3 0h2m6 0h38M359 103.5h1m3 0h3m10 0h2m101 0h39M347 104.5h2m16 0h1m9 0h3m87 0h5m10 0h38M346 105.5h2m2 0h2m22 0h3m9 0h1m71 0h2m3 0h10m7 0h38M345 106.5h4m2 0h3m24 0h2m78 0h1m7 0h7m3 0h6m2 0h34M345 107.5h4m3 0h5m3 0h2m3 0h2m9 0h4m57 0h6m15 0h2m3 0h1m3 0h5m7 0h3m1 0h35M347 108.5h2m2 0h6m2 0h3m2 0h3m9 0h2m54 0h3m3 0h6m25 0h1m3 0h3m7 0h35M349 109.5h3m2 0h3m2 0h2m16 0h1m55 0h1m4 0h6m4 0h2m14 0h2m3 0h2m2 0h3m5 0h37M349 110.5h3m6 0h3m21 0h1m50 0h1m3 0h3m9 0h1m14 0h2m2 0h3m3 0h3m3 0h38M350 111.5h2m6 0h2m15 0h3m3 0h2m50 0h1m2 0h4m10 0h3m11 0h7m3 0h5m3 0h36M348 112.5h4m5 0h2m3 0h3m12 0h7m50 0h4m7 0h2m3 0h2m12 0h8m2 0h5m3 0h2m1 0h33M345 113.5h2m1 0h4m11 0h1m4 0h4m2 0h1m2 0h6m55 0h2m1 0h1m3 0h2m4 0h1m9 0h18m4 0h1m1 0h33M345 114.5h2m1 0h8m12 0h8m3 0h1m58 0h2m1 0h1m1 0h3m5 0h1m5 0h1m2 0h3m2 0h16m1 0h36" stroke="#fff" stroke-width="1" fill="none"/>
<path d="M373 0.5h1m12 0h1m8 0h1m1 0h1m6 0h2m6 0h1m3 0h3m1 0h1m2 0h2m5 0h1m2 0h1m1 0h3m17 0h1M390 1.5h2m5 0h1m6 0h1m2 0h1m1 0h1m1 0h2m3 0h1m8 0h4m61 0h1M366 2.5h1m4 0h1m9 0h1m4 0h1m2 0h3m4 0h1m6 0h3m3 0h1m1 0h1m1 0h2m3 0h1m3 0h2m1 0h3m1 0h1m1 0h1m2 0h2m1 0h3M348 3.5h1m7 0h1m23 0h1m2 0h1m11 0h1m5 0h1m5 0h1m3 0h2m2 0h1m7 0h1m3 0h2m1 0h2m1 0h2m1 0h2M348 4.5h1m8 0h2m6 0h1m14 0h1m11 0h1m3 0h1m3 0h1m1 0h1m4 0h1m14 0h1m3 0h1m3 0h1m1 0h1m4 0h1m16 0h2M345 5.5h1m20 0h1m13 0h1m6 0h1m10 0h2m2 0h1m4 0h2m3 0h1m3 0h3m3 0h1m11 0h1m3 0h2m25 0h1M351 6.5h1m11 0h1m4 0h1m20 0h2m5 0h1m7 0h3m11 0h1m5 0h1m3 0h1m2 0h1m2 0h3M351 7.5h1m9 0h1m6 0h1m14 0h1m6 0h2m1 0h2m5 0h1m2 0h5m1 0h1m2 0h3m4 0h1m2 0h1m10 0h1m5 0h1m10 0h1M371 8.5h1m16 0h3m12 0h1m3 0h1m3 0h2m1 0h1m3 0h3m3 0h2m1 0h2m1 0h1m4 0h2M353 9.5h1m5 0h1m15 0h1m4 0h1m5 0h1m4 0h2m6 0h1m6 0h2m1 0h1m1 0h1m1 0h1m1 0h1m3 0h1m1 0h2m2 0h1m5 0h2m3 0h1m1 0h1m19 0h1m46 0h1M380 10.5h1m7 0h1m6 0h1m5 0h1m8 0h1m5 0h1m1 0h1m1 0h1m3 0h2m1 0h1m5 0h1m8 0h1m45 0h1M362 11.5h1m3 0h1m14 0h1m3 0h1m3 0h2m10 0h1m10 0h1m5 0h2m2 0h1m1 0h1m1 0h1m7 0h1m2 0h2m41 0h1M363 12.5h1m4 0h2m4 0h1m17 0h1m3 0h1m4 0h1m6 0h1m2 0h1m2 0h2m1 0h1m3 0h2m13 0h1m74 0h1M360 13.5h2m6 0h1m13 0h2m3 0h1m1 0h1m5 0h2m5 0h1m7 0h1m3 0h3m5 0h1m2 0h1m2 0h2m3 0h1m3 0h1m1 0h1m5 0h1m14 0h1M348 14.5h2m21 0h1m1 0h1m4 0h1m10 0h1m18 0h3m3 0h1m3 0h1m4 0h1m1 0h2m20 0h2M348 15.5h1m14 0h1m14 0h1m10 0h1m3 0h2m6 0h1m2 0h1m2 0h1m6 0h2m3 0h1m5 0h1m1 0h3m3 0h1m1 0h2m2 0h1m1 0h1m5 0h1m1 0h2M360 16.5h1m15 0h1m16 0h2m3 0h1m5 0h3m6 0h2m3 0h1m1 0h1m1 0h1m2 0h3m3 0h3m3 0h1m7 0h2m4 0h2m13 0h1m13 0h1M379 17.5h1m5 0h1m3 0h1m5 0h1m9 0h1m3 0h2m3 0h1m7 0h3m2 0h2m1 0h2m1 0h2m1 0h2m5 0h2m6 0h1M363 18.5h1m9 0h1m8 0h1m11 0h2m7 0h2m1 0h1m1 0h1m2 0h1m1 0h4m3 0h1m1 0h1m1 0h2m1 0h2m2 0h2m1 0h1m1 0h1m1 0h2m12 0h1m1 0h1m1 0h1M370 19.5h1m18 0h1m5 0h1m5 0h1m1 0h2m2 0h1m2 0h1m3 0h1m3 0h4m2 0h4m2 0h2m1 0h1m1 0h1m2 0h2m1 0h1m2 0h1m3 0h2m14 0h1m10 0h1M348 20.5h1m19 0h1m8 0h1m4 0h2m2 0h1m1 0h1m8 0h1m4 0h2m3 0h3m4 0h1m8 0h5m1 0h2m2 0h3m1 0h1m1 0h2m3 0h3m4 0h1m6 0h1M378 21.5h1m3 0h1m4 0h2m1 0h2m1 0h3m14 0h1m3 0h1m8 0h1m1 0h1m1 0h1m1 0h3m2 0h3m2 0h2m2 0h1m1 0h2m1 0h1m6 0h1M380 22.5h3m3 0h1m4 0h1m2 0h1m9 0h2m6 0h1m4 0h2m3 0h3m3 0h1m2 0h8m4 0h3m9 0h1m2 0h2M356 23.5h1m23 0h2m6 0h2m6 0h1m3 0h1m3 0h3m2 0h2m6 0h1m3 0h3m3 0h1m2 0h5m2 0h1m1 0h1m1 0h6m1 0h1m3 0h1m8 0h1m5 0h1M374 24.5h1m7 0h1m6 0h2m2 0h1m1 0h1m1 0h1m7 0h2m2 0h1m2 0h1m1 0h2m15 0h1m2 0h2m1 0h1m1 0h1m4 0h1m17 0h1m8 0h1m7 0h1M347 25.5h1m25 0h1m1 0h1m5 0h1m1 0h1m1 0h1m1 0h2m8 0h1m3 0h1m3 0h1m1 0h1m1 0h1m10 0h1m2 0h2m2 0h3m1 0h1m4 0h1m3 0h1m2 0h6m5 0h2m2 0h2m11 0h1m2 0h1m1 0h1M346 26.5h1m33 0h1m2 0h1m1 0h1m1 0h2m2 0h1m6 0h5m1 0h2m2 0h1m8 0h3m2 0h1m2 0h2m1 0h1m1 0h2m2 0h3m1 0h1m1 0h1m1 0h5m2 0h1m1 0h1m3 0h2M382 27.5h2m5 0h1m1 0h2m2 0h1m2 0h1m4 0h1m2 0h3m1 0h2m3 0h1m3 0h1m3 0h2m6 0h5m1 0h2m2 0h2m4 0h1m4 0h1m2 0h1m9 0h1m42 0h1M350 28.5h1m1 0h2m37 0h1m3 0h1m2 0h1m3 0h1m5 0h1m1 0h2m10 0h4m1 0h6m2 0h1m3 0h1m2 0h1m1 0h2m2 0h1m4 0h2m3 0h1m2 0h1m2 0h1M350 29.5h1m43 0h2m1 0h2m5 0h1m2 0h1m10 0h6m1 0h10m1 0h2m1 0h4m8 0h1m3 0h3m1 0h1m1 0h1m4 0h1M383 30.5h1m6 0h1m2 0h2m9 0h2m3 0h1m2 0h1m4 0h1m2 0h1m1 0h5m3 0h3m2 0h1m2 0h2m4 0h1m2 0h3m1 0h1m1 0h2m2 0h1m4 0h1m2 0h1m3 0h1m15 0h1m11 0h1M358 31.5h1m2 0h1m8 0h1m15 0h1m2 0h2m1 0h1m10 0h1m3 0h1m6 0h1m11 0h1m1 0h6m1 0h1m1 0h3m4 0h3m2 0h2m1 0h2m1 0h4m3 0h1m5 0h2m4 0h1m17 0h1M351 32.5h1m1 0h1m31 0h1m2 0h2m1 0h5m1 0h2m1 0h1m4 0h1m2 0h2m1 0h1m2 0h2m4 0h1m1 0h1m4 0h2m4 0h2m4 0h3m1 0h1m2 0h2m3 0h3m1 0h1m1 0h1m3 0h3m1 0h2m1 0h1M355 33.5h1m29 0h1m2 0h2m1 0h1m1 0h1m3 0h1m1 0h1m2 0h1m6 0h1m2 0h2m4 0h1m3 0h3m2 0h3m1 0h6m1 0h2m1 0h1m1 0h2m5 0h8m3 0h1m1 0h1m1 0h1m1 0h2m3 0h1m6 0h2m2 0h1m15 0h1M351 34.5h1m12 0h2m13 0h2m1 0h2m1 0h1m4 0h2m3 0h3m1 0h1m4 0h1m1 0h2m2 0h1m5 0h1m6 0h7m1 0h5m1 0h6m4 0h1m2 0h1m1 0h3m2 0h1m2 0h1m6 0h1m1 0h1m4 0h1M381 35.5h1m4 0h2m7 0h1m8 0h1m6 0h4m1 0h1m6 0h2m1 0h1m3 0h3m1 0h2m2 0h7m1 0h3m2 0h1m8 0h1m4 0h3m2 0h1m1 0h1m1 0h1m1 0h2m2 0h1m9 0h1M373 36.5h1m2 0h1m9 0h2m4 0h1m1 0h1m3 0h1m1 0h1m1 0h1m2 0h3m2 0h1m1 0h1m7 0h2m4 0h1m4 0h4m2 0h2m4 0h1m3 0h3m1 0h2m1 0h1m1 0h3m3 0h1m2 0h1m3 0h1m7 0h3m3 0h1M361 37.5h1m25 0h1m3 0h1m7 0h1m2 0h1m1 0h1m1 0h2m1 0h2m2 0h1m1 0h2m1 0h1m3 0h2m5 0h1m1 0h1m1 0h2m1 0h1m5 0h2m2 0h2m1 0h1m1 0h1m1 0h1m2 0h1m1 0h1m2 0h6m3 0h3m1 0h1m4 0h1m8 0h1M355 38.5h2m7 0h1m18 0h2m2 0h2m2 0h2m1 0h1m1 0h1m8 0h3m6 0h1m5 0h1m3 0h1m9 0h1m1 0h3m2 0h1m1 0h1m1 0h3m1 0h2m1 0h3m5 0h1m5 0h1m1 0h1m2 0h2M355 39.5h1m26 0h1m6 0h1m7 0h5m1 0h2m5 0h1m1 0h1m7 0h2m4 0h1m2 0h2m2 0h1m1 0h1m1 0h1m1 0h1m1 0h2m2 0h3m1 0h2m1 0h1m1 0h1m1 0h1m2 0h2m2 0h1m9 0h1m17 0h1M352 40.5h2m1 0h1m12 0h1m14 0h1m4 0h1m7 0h1m2 0h2m1 0h1m5 0h1m3 0h1m1 0h1m1 0h1m1 0h1m3 0h1m1 0h1m2 0h2m3 0h1m2 0h1m2 0h2m2 0h1m3 0h2m2 0h1m2 0h1m9 0h1m11 0h1m8 0h1m1 0h1m20 0h1M362 41.5h1m1 0h2m4 0h1m12 0h1m4 0h1m2 0h1m2 0h1m10 0h1m3 0h2m2 0h1m2 0h2m1 0h1m2 0h2m5 0h2m1 0h1m2 0h1m1 0h2m1 0h1m2 0h1m1 0h1m1 0h2m4 0h1m18 0h2m1 0h2m3 0h1m4 0h2M353 42.5h2m7 0h1m7 0h3m2 0h1m7 0h1m11 0h1m3 0h1m2 0h1m2 0h1m11 0h1m5 0h4m1 0h1m1 0h1m5 0h3m7 0h1m1 0h1m1 0h1m2 0h3m11 0h1m1 0h1m5 0h1m4 0h1m1 0h1m1 0h1M345 43.5h2m15 0h1m13 0h2m8 0h1m2 0h1m2 0h1m3 0h2m7 0h3m2 0h1m2 0h3m4 0h2m1 0h1m1 0h2m2 0h1m1 0h2m2 0h3m3 0h1m2 0h1m1 0h7m2 0h1m1 0h1m14 0h3m3 0h6m4 0h1M369 44.5h2m11 0h1m1 0h3m2 0h1m6 0h2m2 0h2m5 0h1m2 0h1m3 0h1m2 0h1m4 0h4m2 0h2m1 0h1m2 0h1m2 0h1m1 0h6m9 0h4m5 0h1m1 0h1m5 0h1m2 0h2m1 0h1m1 0h3m8 0h1m21 0h1M345 45.5h2m15 0h1m26 0h1m4 0h1m2 0h1m3 0h2m1 0h1m1 0h1m3 0h1m1 0h1m1 0h2m4 0h1m1 0h1m3 0h1m3 0h5m1 0h2m2 0h5m1 0h2m1 0h1m5 0h1m1 0h1m2 0h1m1 0h4m4 0h1m4 0h1m11 0h1m2 0h1m8 0h2M363 46.5h1m17 0h1m1 0h1m2 0h1m4 0h1m7 0h1m2 0h2m1 0h2m2 0h1m3 0h3m2 0h2m1 0h10m1 0h1m1 0h4m1 0h1m1 0h6m2 0h2m3 0h2m5 0h2m1 0h1m3 0h1m3 0h1m2 0h1m2 0h1m4 0h2m1 0h2m1 0h1m2 0h1M350 47.5h1m27 0h2m3 0h3m7 0h1m1 0h2m2 0h1m5 0h3m9 0h3m1 0h4m2 0h1m4 0h6m1 0h2m2 0h2m1 0h2m3 0h4m2 0h5m7 0h1m2 0h2m6 0h1m3 0h1m1 0h1m2 0h2m1 0h1M352 48.5h1m13 0h1m12 0h1m1 0h1m3 0h1m4 0h2m7 0h1m7 0h2m3 0h4m1 0h2m1 0h1m3 0h2m1 0h1m2 0h1m3 0h1m1 0h2m1 0h1m1 0h1m1 0h6m1 0h4m2 0h2m1 0h2m1 0h2m1 0h1m2 0h1m1 0h3m5 0h1m4 0h1m1 0h1m3 0h2m7 0h1m12 0h1M389 49.5h3m4 0h1m4 0h1m2 0h1m1 0h1m2 0h1m3 0h1m1 0h1m1 0h2m3 0h2m1 0h5m3 0h1m1 0h2m1 0h2m2 0h1m2 0h2m1 0h2m1 0h7m6 0h1m1 0h1m2 0h1m10 0h1m2 0h2m5 0h1M383 50.5h1m18 0h3m4 0h1m5 0h1m1 0h1m2 0h5m4 0h5m3 0h3m2 0h3m3 0h1m4 0h4m2 0h2m4 0h2m2 0h4m1 0h1m7 0h1m3 0h1m11 0h1M350 51.5h1m24 0h1m6 0h1m18 0h1m2 0h3m5 0h1m6 0h4m2 0h1m1 0h1m2 0h3m6 0h2m2 0h2m1 0h1m3 0h1m3 0h2m1 0h4m1 0h2m4 0h1m1 0h2m3 0h2m4 0h2m6 0h1m1 0h1m7 0h1m1 0h2m2 0h1m5 0h1M357 52.5h1m16 0h1m14 0h2m3 0h2m5 0h1m6 0h1m3 0h2m3 0h2m3 0h4m1 0h1m3 0h4m2 0h2m2 0h8m1 0h3m2 0h2m3 0h6m6 0h1m1 0h1m4 0h1m1 0h1m2 0h2m1 0h1m1 0h1m2 0h1m6 0h1M376 53.5h1m13 0h1m2 0h2m6 0h1m2 0h1m5 0h1m3 0h2m4 0h1m1 0h2m2 0h1m4 0h1m2 0h2m2 0h2m1 0h4m1 0h2m1 0h4m3 0h7m8 0h1m5 0h1m2 0h1m1 0h1m2 0h2m27 0h1M358 54.5h1m1 0h1m30 0h1m8 0h5m4 0h3m4 0h1m6 0h1m2 0h1m2 0h1m1 0h4m3 0h4m3 0h1m1 0h1m1 0h2m3 0h2m1 0h2m1 0h1m3 0h1m11 0h1m1 0h1m3 0h1m4 0h1m1 0h1M380 55.5h1m1 0h1m5 0h2m1 0h1m2 0h1m13 0h5m7 0h1m2 0h2m1 0h1m2 0h1m2 0h1m1 0h1m3 0h4m1 0h2m3 0h5m1 0h3m2 0h3m3 0h2m4 0h1m3 0h1m4 0h2m4 0h2m4 0h1m1 0h1M382 56.5h1m5 0h1m1 0h2m2 0h1m1 0h1m4 0h1m2 0h1m3 0h4m3 0h1m4 0h1m2 0h4m1 0h5m2 0h2m1 0h3m2 0h6m1 0h1m2 0h1m2 0h1m4 0h1m3 0h3m3 0h3m4 0h1m11 0h1M357 57.5h1m32 0h1m5 0h3m1 0h2m1 0h3m2 0h3m4 0h3m5 0h1m2 0h2m1 0h4m1 0h4m1 0h1m1 0h3m2 0h3m1 0h2m3 0h1m3 0h1m1 0h2m2 0h3m3 0h3m3 0h1m1 0h5m1 0h1m1 0h1m12 0h1m8 0h1M393 58.5h1m3 0h1m1 0h1m4 0h4m3 0h3m4 0h1m6 0h2m1 0h1m2 0h4m5 0h1m1 0h1m4 0h1m1 0h1m1 0h1m1 0h1m1 0h1m2 0h2m6 0h2m5 0h2m1 0h1M352 59.5h2m23 0h1m11 0h5m2 0h2m6 0h2m1 0h1m1 0h1m1 0h3m1 0h1m3 0h1m1 0h1m4 0h5m1 0h1m2 0h2m1 0h2m3 0h1m1 0h1m3 0h1m5 0h1m3 0h1m3 0h1m3 0h2m3 0h4m1 0h2m1 0h3m6 0h1m17 0h1M387 60.5h2m4 0h1m10 0h1m7 0h2m3 0h2m2 0h1m4 0h1m3 0h5m1 0h3m1 0h1m1 0h1m1 0h1m1 0h1m1 0h1m2 0h2m2 0h1m4 0h1m3 0h1m1 0h1m2 0h1m8 0h1m3 0h1m4 0h1M357 61.5h1m1 0h1m15 0h1m9 0h1m3 0h1m6 0h1m2 0h1m1 0h1m2 0h2m4 0h1m1 0h2m6 0h1m1 0h1m1 0h2m1 0h1m3 0h3m2 0h3m2 0h3m2 0h3m2 0h1m1 0h2m1 0h1m2 0h1m1 0h1m8 0h2m3 0h2m6 0h1m1 0h1m4 0h1M347 62.5h2m1 0h1m6 0h1m37 0h1m6 0h3m3 0h1m2 0h5m7 0h13m2 0h1m2 0h3m1 0h1m1 0h3m1 0h2m28 0h1m6 0h1m1 0h1M401 63.5h2m2 0h1m2 0h1m6 0h1m5 0h1m2 0h1m1 0h1m4 0h4m4 0h1m1 0h1m1 0h1m3 0h1m1 0h2m3 0h1m3 0h1m7 0h1m1 0h1m2 0h1m3 0h1m8 0h2m1 0h2m9 0h1M370 64.5h1m20 0h1m7 0h1m7 0h2m3 0h2m2 0h2m4 0h1m1 0h6m1 0h3m2 0h3m1 0h1m1 0h2m1 0h2m6 0h1m7 0h1m3 0h4m3 0h1m4 0h1m1 0h1m6 0h1m4 0h1M347 65.5h1m14 0h1m28 0h1m3 0h2m4 0h1m1 0h2m2 0h2m1 0h1m2 0h1m2 0h2m1 0h1m1 0h3m5 0h4m3 0h2m6 0h2m3 0h3m1 0h1m1 0h1m4 0h1m3 0h1m2 0h1m2 0h1m5 0h1m5 0h3M354 66.5h1m34 0h1m1 0h1m4 0h1m3 0h2m5 0h1m4 0h1m2 0h1m1 0h1m8 0h2m5 0h1m2 0h2m1 0h1m2 0h1m1 0h1m8 0h1m1 0h1m3 0h1m7 0h2m2 0h4m1 0h1m3 0h2m1 0h1m1 0h1M363 67.5h1m7 0h1m16 0h1m2 0h1m10 0h2m3 0h5m8 0h1m2 0h6m3 0h1m2 0h1m1 0h1m2 0h3m4 0h1m6 0h1m3 0h1m4 0h2m2 0h2m2 0h2m3 0h1m34 0h1M392 68.5h2m8 0h1m3 0h2m1 0h2m2 0h1m1 0h4m3 0h1m2 0h3m3 0h2m1 0h1m3 0h1m2 0h2m3 0h2m1 0h1m1 0h1m3 0h1m7 0h1m25 0h1m2 0h1m1 0h1M355 69.5h1m23 0h1m2 0h1m5 0h1m4 0h1m11 0h3m2 0h2m3 0h3m3 0h3m1 0h1m1 0h2m2 0h1m2 0h1m2 0h2m2 0h2m4 0h1m5 0h3m8 0h1m1 0h1m11 0h1m5 0h1m3 0h1m5 0h1m15 0h1M379 70.5h1m2 0h1m4 0h1m1 0h1m1 0h2m9 0h2m3 0h1m1 0h1m2 0h1m1 0h2m1 0h1m1 0h2m1 0h4m1 0h2m2 0h1m1 0h2m2 0h4m1 0h2m2 0h1m2 0h1m3 0h1m5 0h1m1 0h1m5 0h2m7 0h1m3 0h3m1 0h1m2 0h1m5 0h1m22 0h1M362 71.5h1m23 0h1m4 0h1m7 0h4m1 0h3m1 0h1m4 0h5m1 0h1m2 0h1m1 0h2m1 0h1m2 0h1m1 0h1m4 0h2m7 0h2m5 0h4m2 0h2m10 0h1m2 0h1m9 0h1m2 0h1m8 0h1m8 0h1m1 0h1M349 72.5h1m31 0h1m6 0h1m4 0h1m3 0h2m2 0h2m1 0h1m4 0h3m1 0h1m1 0h1m1 0h1m1 0h1m3 0h1m3 0h2m2 0h1m4 0h1m1 0h2m6 0h1m1 0h3m3 0h1m16 0h2m1 0h2m6 0h1M386 73.5h1m1 0h1m9 0h1m10 0h3m1 0h2m5 0h3m1 0h1m1 0h1m1 0h3m3 0h6m3 0h1m3 0h2m2 0h1m1 0h2m4 0h1m1 0h1m5 0h2m1 0h1m8 0h1m8 0h1m1 0h2m2 0h1M390 74.5h1m3 0h2m1 0h1m4 0h1m2 0h1m2 0h1m2 0h1m1 0h1m1 0h2m3 0h1m3 0h3m1 0h1m7 0h3m6 0h1m2 0h1m3 0h3m2 0h1m6 0h2m14 0h2m2 0h1m1 0h1M367 75.5h1m11 0h1m11 0h1m5 0h1m2 0h1m1 0h1m1 0h3m1 0h1m1 0h1m2 0h4m2 0h1m8 0h1m5 0h1m1 0h1m2 0h3m5 0h1m5 0h1m1 0h1m5 0h1m3 0h1m1 0h1m4 0h1m3 0h1m2 0h1m3 0h1m2 0h1m1 0h1M365 76.5h1m1 0h1m6 0h1m4 0h2m14 0h1m3 0h2m4 0h2m4 0h1m3 0h1m1 0h3m1 0h1m2 0h1m1 0h1m2 0h1m3 0h1m1 0h1m4 0h2m7 0h1m1 0h1m3 0h1m2 0h2m1 0h1m2 0h1m14 0h1m6 0h3m1 0h1m11 0h1M358 77.5h1m6 0h1m27 0h1m5 0h1m7 0h2m1 0h2m7 0h2m1 0h3m2 0h1m2 0h2m4 0h5m3 0h1m1 0h1m1 0h1m3 0h1m16 0h2m6 0h1m22 0h1m6 0h1M347 78.5h2m15 0h1m6 0h1m16 0h1m8 0h1m9 0h2m1 0h1m1 0h1m7 0h2m2 0h2m1 0h1m2 0h1m1 0h2m5 0h2m3 0h1m15 0h1m31 0h1m7 0h1M379 79.5h1m10 0h1m1 0h1m1 0h1m3 0h1m1 0h2m6 0h2m2 0h1m1 0h2m3 0h2m1 0h1m2 0h6m5 0h1m2 0h2m4 0h3m26 0h1m7 0h1m28 0h1M394 80.5h1m9 0h2m3 0h1m4 0h2m1 0h5m1 0h1m1 0h1m3 0h1m1 0h1m5 0h2m1 0h2m1 0h1m1 0h2m6 0h2m1 0h1m8 0h2m2 0h1m8 0h1m2 0h1m16 0h2m2 0h1m5 0h1M367 81.5h1m8 0h1m8 0h1m2 0h1m1 0h1m1 0h2m4 0h2m1 0h1m2 0h1m2 0h2m1 0h1m1 0h1m2 0h1m2 0h1m1 0h1m2 0h3m1 0h1m2 0h1m1 0h1m3 0h3m5 0h2m5 0h1m1 0h1m2 0h1m3 0h1m3 0h1m1 0h1m4 0h1m3 0h1m4 0h2M347 82.5h1m9 0h1m14 0h1m5 0h1m4 0h1m10 0h2m4 0h1m1 0h1m6 0h4m5 0h1m1 0h3m1 0h2m1 0h1m8 0h2m1 0h2m2 0h2m7 0h2m4 0h1m4 0h1m2 0h1m1 0h2m2 0h1m20 0h1m3 0h1M346 83.5h1m22 0h1m12 0h2m3 0h1m13 0h2m10 0h1m3 0h1m3 0h1m1 0h1m2 0h2m1 0h2m4 0h1m5 0h2m1 0h1m4 0h1m3 0h1m3 0h1m8 0h7m17 0h1m3 0h1m15 0h1M346 84.5h1m4 0h2m28 0h4m6 0h2m5 0h1m2 0h1m1 0h1m7 0h5m9 0h3m4 0h2m4 0h1m1 0h3m1 0h1m4 0h1m3 0h2m10 0h2m14 0h1m25 0h1M373 85.5h1m1 0h2m4 0h1m8 0h1m1 0h2m1 0h1m2 0h1m6 0h1m4 0h2m4 0h1m6 0h1m5 0h2m1 0h1m3 0h1m5 0h1m5 0h1m14 0h4M366 86.5h4m14 0h1m5 0h1m1 0h3m1 0h1m1 0h1m6 0h1m1 0h1m3 0h1m2 0h1m1 0h1m4 0h3m1 0h2m2 0h1m1 0h1m4 0h1m3 0h2m1 0h1m2 0h1m3 0h1m5 0h1m7 0h1m5 0h1M360 87.5h1m20 0h1m4 0h1m3 0h4m2 0h1m1 0h1m2 0h1m4 0h2m2 0h3m1 0h3m3 0h1m2 0h1m4 0h1m2 0h1m4 0h1m2 0h2m5 0h1m3 0h1m4 0h1m3 0h2m2 0h2m21 0h1m29 0h2M365 88.5h1m2 0h1m13 0h1m3 0h1m3 0h1m3 0h1m5 0h1m2 0h1m1 0h3m1 0h1m5 0h1m1 0h1m6 0h7m3 0h1m4 0h1m4 0h1m1 0h1m3 0h2m2 0h1m46 0h1m4 0h1m3 0h1M357 89.5h1m6 0h1m9 0h1m9 0h1m5 0h1m4 0h1m4 0h3m3 0h1m9 0h1m5 0h3m2 0h5m4 0h1m1 0h1m1 0h1m2 0h2m2 0h2m5 0h1m5 0h1m3 0h1m7 0h1m2 0h1M369 90.5h1m6 0h1m9 0h1m2 0h1m4 0h1m7 0h1m7 0h1m6 0h3m4 0h2m1 0h1m3 0h1m4 0h1m4 0h1m1 0h2m4 0h1m4 0h1m1 0h1m15 0h1m5 0h1m7 0h1m28 0h1M381 91.5h1m7 0h1m4 0h1m2 0h1m4 0h2m16 0h1m1 0h3m6 0h1m1 0h2m6 0h2m3 0h1m2 0h1m4 0h1m12 0h1m1 0h1m34 0h1M358 92.5h1m17 0h1m3 0h1m4 0h2m5 0h2m12 0h1m6 0h1m2 0h3m3 0h2m3 0h1m2 0h1m2 0h1m2 0h1m10 0h1m7 0h2m48 0h1M364 93.5h1m17 0h1m8 0h2m1 0h1m2 0h1m9 0h1m2 0h2m6 0h1m2 0h1m3 0h1m1 0h4m15 0h1m1 0h1m6 0h1m33 0h1m22 0h1m4 0h1M364 94.5h1m7 0h1m1 0h1m8 0h1m1 0h1m3 0h1m9 0h2m1 0h1m1 0h1m2 0h1m3 0h1m3 0h2m1 0h3m2 0h2m6 0h1m2 0h1m4 0h1m3 0h1m6 0h2m18 0h1m44 0h1M385 95.5h1m2 0h1m6 0h1m4 0h1m4 0h2m7 0h2m2 0h1m1 0h1m1 0h2m2 0h1m3 0h1m3 0h1m2 0h1m2 0h3m1 0h1m1 0h1m3 0h1m12 0h1m2 0h1m7 0h1m38 0h1M349 96.5h1m9 0h1m23 0h1m1 0h1m2 0h1m10 0h1m1 0h1m3 0h3m1 0h1m2 0h1m1 0h1m2 0h2m2 0h1m1 0h2m2 0h1m4 0h1m6 0h2m50 0h1m20 0h1m2 0h1M374 97.5h2m15 0h1m3 0h1m2 0h2m1 0h2m4 0h1m4 0h1m1 0h3m3 0h1m2 0h1m1 0h2m1 0h3m4 0h1m4 0h1m4 0h1m2 0h1m2 0h1m27 0h1m31 0h1M346 98.5h1m26 0h1m6 0h1m5 0h1m1 0h1m2 0h2m5 0h1m4 0h1m1 0h1m6 0h2m5 0h1m5 0h4m3 0h1m5 0h1m2 0h1m1 0h1m2 0h1m6 0h1m9 0h1m8 0h1m30 0h1m3 0h1m3 0h1M357 99.5h1m2 0h1m18 0h1m1 0h1m4 0h1m1 0h2m1 0h3m3 0h2m4 0h1m6 0h4m1 0h1m1 0h1m2 0h3m3 0h2m3 0h1m9 0h1m1 0h1m5 0h1m33 0h1M378 100.5h1m4 0h1m4 0h9m6 0h1m1 0h1m3 0h2m3 0h2m1 0h1m1 0h1m1 0h2m3 0h2m1 0h1m3 0h1m9 0h1m8 0h1m5 0h1m4 0h1M349 101.5h1m13 0h1m9 0h1m1 0h1m7 0h3m3 0h2m18 0h2m2 0h3m2 0h1m1 0h1m4 0h1m3 0h3m2 0h1m1 0h3m5 0h1m18 0h1m1 0h1m3 0h1m1 0h2m5 0h1m8 0h1M346 102.5h1m8 0h1m20 0h2m12 0h1m4 0h1m5 0h1m1 0h1m1 0h2m3 0h1m2 0h2m3 0h1m4 0h1m1 0h1m1 0h3m1 0h1m2 0h5m1 0h1m1 0h2m1 0h2m6 0h1m2 0h1m4 0h1m1 0h2M352 103.5h1m2 0h1m13 0h1m19 0h1m4 0h3m1 0h1m1 0h2m5 0h1m2 0h4m2 0h1m6 0h1m1 0h1m2 0h1m1 0h1m8 0h1m4 0h1m3 0h1m1 0h1m20 0h1M352 104.5h2m15 0h1m15 0h1m1 0h7m2 0h2m3 0h3m2 0h2m5 0h2m3 0h1m2 0h1m3 0h4m3 0h4m14 0h1m22 0h1M359 105.5h1m2 0h1m19 0h1m1 0h1m2 0h2m3 0h2m2 0h1m2 0h1m1 0h1m8 0h4m2 0h1m1 0h2m2 0h2m2 0h2m1 0h1m1 0h2m3 0h1m1 0h1m1 0h1m14 0h1m23 0h1M350 106.5h1m26 0h1m11 0h1m1 0h2m5 0h1m1 0h1m2 0h2m8 0h1m3 0h2m1 0h6m11 0h1m1 0h3m1 0h2m1 0h3m8 0h1m2 0h2m2 0h1m10 0h1M381 107.5h2m4 0h1m2 0h1m1 0h1m3 0h1m1 0h1m3 0h1m5 0h1m4 0h2m2 0h1m4 0h1m2 0h2m1 0h3m1 0h1m3 0h1m6 0h2m1 0h2m2 0h1M382 108.5h1m5 0h1m10 0h3m3 0h2m1 0h1m1 0h3m1 0h1m3 0h4m25 0h2m1 0h1m1 0h2m4 0h1m2 0h1m9 0h1M373 109.5h1m10 0h1m1 0h2m2 0h1m5 0h1m1 0h6m4 0h1m1 0h2m2 0h1m1 0h1m3 0h2m1 0h1m2 0h1m1 0h3m4 0h1m1 0h1m6 0h2m1 0h1m6 0h1m3 0h1m2 0h1m14 0h1m3 0h1M345 110.5h1m41 0h2m2 0h1m2 0h1m3 0h2m1 0h2m3 0h2m1 0h1m4 0h2m3 0h1m1 0h1m3 0h2m2 0h1m1 0h2m2 0h2m3 0h2m3 0h1m1 0h1m7 0h1m3 0h2m2 0h1M345 111.5h1m3 0h1m5 0h1m13 0h1m18 0h2m1 0h1m1 0h1m2 0h1m1 0h2m2 0h1m6 0h1m4 0h2m1 0h1m1 0h1m1 0h2m1 0h2m3 0h2m1 0h1m1 0h1m5 0h1m3 0h2m2 0h2m3 0h1m8 0h2m7 0h1m1 0h1M345 112.5h1m21 0h1m6 0h2m10 0h1m2 0h1m2 0h1m1 0h2m1 0h2m1 0h2m5 0h1m1 0h1m1 0h1m3 0h5m3 0h4m5 0h2m5 0h1m4 0h1m3 0h2m5 0h2m1 0h1m20 0h1M366 113.5h1m17 0h2m1 0h1m16 0h2m11 0h2m4 0h1m1 0h4m3 0h2m1 0h3m12 0h1m3 0h1M384 114.5h1m7 0h1m10 0h4m4 0h1m2 0h3m3 0h3m1 0h1m1 0h2m1 0h2m4 0h1m1 0h1m4 0h1m5 0h1m3 0h1m3 0h1" stroke="#2d0ce1" stroke-width="1" fill="none"/>
</g></g>
<rect x="483.00" y="98.10" width="36.30" height="17.70" fill="#fff"/>
<text x="485.20" y="107.80" class="sb">200 µm</text>
<rect x="487.50" y="111.60" width="23.30" height="2.60" fill="#000"/>
<clipPath id="cpb3"><rect x="345.2" y="123.1" width="173.60" height="115.20"/></clipPath>
<g clip-path="url(#cpb3)"><g filter="url(#sblr)">
<rect x="343.2" y="121.1" width="177.60" height="119.20" fill="#ff1c0c"/>
<path d="M345 123.5h2m12 0h1m4 0h1m3 0h1m7 0h1m6 0h1m3 0h1m3 0h1m2 0h2m3 0h1m7 0h1m5 0h1m2 0h3m6 0h1m7 0h1m7 0h2m1 0h1m11 0h3m1 0h1m1 0h2m7 0h1m3 0h3m15 0h3m9 0h3m2 0h3M345 124.5h2m11 0h1m5 0h1m25 0h2m2 0h1m4 0h4m5 0h1m2 0h1m1 0h1m2 0h2m8 0h1m1 0h2m3 0h2m1 0h1m6 0h2m13 0h1m3 0h1m8 0h5m2 0h2m14 0h2m8 0h1m5 0h1m2 0h1M349 125.5h2m1 0h1m2 0h1m7 0h2m18 0h1m1 0h3m4 0h3m6 0h2m5 0h1m2 0h1m9 0h1m2 0h1m1 0h2m9 0h2m13 0h1m2 0h2m8 0h1m2 0h2m8 0h1m8 0h1m7 0h1m5 0h1m1 0h1M352 126.5h1m1 0h1m5 0h1m4 0h1m29 0h1m12 0h1m6 0h1m4 0h2m3 0h5m1 0h1m5 0h2m4 0h1m4 0h1m3 0h1m3 0h3m10 0h1m8 0h1m13 0h1m16 0h1m1 0h1m3 0h2M349 127.5h1m2 0h1m10 0h2m10 0h1m16 0h3m4 0h1m3 0h1m3 0h2m4 0h1m1 0h1m1 0h1m3 0h1m6 0h1m2 0h3m2 0h1m5 0h1m1 0h1m1 0h1m6 0h1m1 0h1m16 0h1m6 0h1m12 0h2M348 128.5h1m10 0h2m6 0h2m8 0h1m3 0h1m4 0h1m5 0h1m7 0h1m3 0h1m2 0h1m7 0h2m4 0h2m8 0h1m22 0h1m4 0h1m2 0h1m6 0h4m6 0h1m31 0h1M365 129.5h1m2 0h1m9 0h1m2 0h1m2 0h1m1 0h1m29 0h1m13 0h3m13 0h1m8 0h1m43 0h1m3 0h1m2 0h1m5 0h1m3 0h1M354 130.5h1m2 0h1m3 0h2m1 0h2m10 0h3m8 0h1m6 0h1m21 0h2m7 0h1m10 0h1m5 0h1m19 0h1m12 0h3m3 0h2m1 0h1m2 0h1m14 0h1m3 0h1m6 0h1m2 0h1M346 131.5h1m7 0h1m11 0h2m1 0h1m8 0h1m2 0h1m6 0h1m20 0h2m7 0h2m38 0h1m5 0h2m7 0h1m4 0h1m6 0h3m5 0h1m5 0h1m7 0h1M346 132.5h1m2 0h1m4 0h1m10 0h1m9 0h1m5 0h1m10 0h1m1 0h1m6 0h1m4 0h1m5 0h1m5 0h2m3 0h1m4 0h1m30 0h1m2 0h1m10 0h1m1 0h1m5 0h2m3 0h1m8 0h1m8 0h4M345 133.5h2m12 0h1m8 0h1m11 0h1m2 0h2m12 0h1m3 0h1m2 0h1m8 0h1m5 0h1m3 0h1m13 0h1m21 0h2m26 0h1m7 0h1m8 0h2m5 0h2M355 134.5h1m3 0h1m8 0h1m4 0h1m2 0h3m2 0h1m5 0h1m7 0h1m5 0h2m1 0h1m6 0h1m10 0h2m25 0h1m8 0h1m5 0h1m4 0h1m5 0h2m16 0h2m13 0h1m3 0h1m4 0h1M355 135.5h1m4 0h1m4 0h2m4 0h1m4 0h3m4 0h1m11 0h2m1 0h2m11 0h1m7 0h2m1 0h1m9 0h1m26 0h3m7 0h1m2 0h1m2 0h1m4 0h1m2 0h1m33 0h1M350 136.5h1m9 0h2m1 0h1m5 0h2m8 0h2m3 0h1m1 0h1m1 0h2m3 0h1m4 0h3m26 0h3m2 0h1m4 0h1m8 0h2m7 0h1m5 0h2m1 0h1m4 0h1m6 0h1m2 0h5m1 0h1m8 0h1M360 137.5h1m3 0h1m1 0h1m2 0h2m13 0h2m1 0h1m4 0h1m2 0h1m12 0h1m4 0h1m8 0h1m5 0h1m8 0h4m5 0h1m2 0h2m18 0h3m2 0h1m2 0h1m1 0h1m14 0h1m17 0h1M346 138.5h1m6 0h1m1 0h2m7 0h1m4 0h2m2 0h2m6 0h1m2 0h1m12 0h1m9 0h2m5 0h1m8 0h1m13 0h1m2 0h1m4 0h1m17 0h2m7 0h3m13 0h1m2 0h1m18 0h2m5 0h1M349 139.5h1m2 0h1m1 0h1m15 0h2m39 0h1m12 0h1m8 0h1m6 0h1m4 0h1m16 0h2m26 0h2m22 0h2M345 140.5h1m2 0h2m15 0h1m3 0h2m13 0h1m2 0h1m2 0h1m5 0h1m4 0h1m29 0h1m5 0h2m14 0h1m6 0h1m2 0h1m2 0h2m2 0h2m14 0h1m2 0h1m27 0h1M349 141.5h2m55 0h1m12 0h1m1 0h1m10 0h1m1 0h1m6 0h3m2 0h1m4 0h2m6 0h2m2 0h2m1 0h2m5 0h3m18 0h1m10 0h1M352 142.5h1m12 0h1m13 0h2m14 0h1m5 0h1m4 0h1m7 0h1m3 0h1m2 0h1m20 0h1m5 0h1m14 0h2m2 0h3m3 0h2m9 0h3m8 0h1m15 0h1M347 143.5h2m46 0h3m2 0h1m5 0h1m6 0h2m3 0h1m6 0h3m4 0h1m2 0h1m8 0h1m17 0h4m2 0h1m4 0h1m2 0h1m7 0h1m31 0h1M374 144.5h2m16 0h1m7 0h1m2 0h1m10 0h1m6 0h2m2 0h1m1 0h1m1 0h2m1 0h1m9 0h1m5 0h1m8 0h1m8 0h1m6 0h2m13 0h1m8 0h1m9 0h1m1 0h1m6 0h1M345 145.5h1m1 0h1m6 0h1m7 0h1m19 0h1m14 0h1m2 0h1m8 0h3m10 0h1m15 0h2m1 0h1m3 0h1m3 0h1m8 0h2m1 0h1m6 0h3m19 0h1m13 0h1m7 0h1m3 0h1M372 146.5h1m2 0h1m4 0h1m14 0h1m4 0h1m5 0h2m15 0h1m9 0h1m7 0h1m11 0h5m8 0h1m22 0h2m9 0h1m11 0h1M347 147.5h1m19 0h1m17 0h1m10 0h1m2 0h1m5 0h1m4 0h1m21 0h1m1 0h1m3 0h1m5 0h1m3 0h1m4 0h1m3 0h1m8 0h1m7 0h1m5 0h1m30 0h1M350 148.5h1m18 0h1m3 0h2m18 0h2m3 0h1m6 0h1m13 0h1m7 0h2m3 0h1m2 0h1m17 0h1m1 0h1m20 0h1m10 0h1m16 0h1m12 0h1M366 149.5h4m5 0h1m13 0h2m11 0h1m10 0h1m5 0h1m7 0h2m20 0h1m9 0h1m2 0h1m12 0h2m6 0h1m3 0h1M357 150.5h1m17 0h1m12 0h3m11 0h1m9 0h1m11 0h4m7 0h1m7 0h2m5 0h1m10 0h3m8 0h1m2 0h1m1 0h1m22 0h2m9 0h1M357 151.5h1m4 0h2m7 0h2m2 0h1m8 0h1m2 0h2m2 0h1m8 0h3m21 0h3m1 0h1m8 0h1m5 0h2m2 0h1m2 0h1m1 0h1m2 0h1m6 0h1m2 0h1m11 0h1m22 0h2m8 0h2M356 152.5h1m41 0h1m1 0h1m3 0h1m2 0h1m11 0h2m5 0h1m14 0h2m6 0h2m6 0h1m1 0h1m3 0h1m16 0h1m2 0h1m1 0h1m13 0h1m16 0h1M366 153.5h4m5 0h1m2 0h1m5 0h1m20 0h1m7 0h1m12 0h1m9 0h2m18 0h1m2 0h1m3 0h2m1 0h1m7 0h2m21 0h2m16 0h1M346 154.5h1m17 0h2m8 0h2m8 0h2m18 0h2m2 0h1m3 0h1m14 0h1m6 0h4m2 0h1m8 0h1m7 0h1m1 0h2m3 0h1m1 0h2m5 0h1m3 0h1m30 0h1M345 155.5h1m30 0h1m7 0h3m5 0h1m5 0h1m6 0h2m28 0h2m4 0h2m6 0h2m1 0h1m5 0h2m6 0h1m6 0h3m3 0h2M354 156.5h1m10 0h1m4 0h1m1 0h1m1 0h2m9 0h1m12 0h1m5 0h2m3 0h1m1 0h2m4 0h1m5 0h2m7 0h2m2 0h1m3 0h3m6 0h1m2 0h1m6 0h1m14 0h1m18 0h2m3 0h1M353 157.5h2m7 0h2m1 0h1m4 0h1m6 0h1m10 0h1m1 0h1m16 0h1m1 0h3m5 0h1m15 0h3m1 0h1m2 0h2m4 0h1m8 0h1m4 0h1m4 0h1m1 0h2m6 0h2m2 0h3m6 0h1m3 0h1m1 0h1m6 0h2m1 0h1M353 158.5h2m15 0h5m13 0h2m1 0h1m2 0h2m2 0h1m7 0h1m12 0h2m3 0h1m15 0h1m1 0h1m12 0h1m7 0h1m3 0h1m2 0h1m5 0h1m10 0h2m12 0h1M355 159.5h1m5 0h1m3 0h2m4 0h2m1 0h1m7 0h1m8 0h1m3 0h1m11 0h2m22 0h1m15 0h1m7 0h1m6 0h1m10 0h1m2 0h1m6 0h1m4 0h2m1 0h1m1 0h1m2 0h1m11 0h1M365 160.5h2m1 0h1m3 0h1m2 0h1m28 0h2m1 0h2m1 0h1m1 0h2m8 0h1m18 0h1m9 0h2m16 0h1m36 0h1m1 0h1M348 161.5h1m16 0h1m2 0h1m6 0h1m2 0h1m1 0h1m19 0h1m2 0h1m5 0h1m16 0h2m48 0h1M348 162.5h1m9 0h1m5 0h1m8 0h1m1 0h1m1 0h2m1 0h1m4 0h1m15 0h2m3 0h1m2 0h1m10 0h1m1 0h2m1 0h1m18 0h1m6 0h1M358 163.5h1m12 0h1m1 0h1m3 0h2m5 0h1m11 0h1m2 0h1m1 0h1m7 0h2m4 0h1m8 0h2m12 0h1m5 0h1M358 164.5h1m2 0h1m8 0h4m3 0h3m11 0h1m6 0h2m2 0h2m3 0h1m1 0h2m2 0h1m23 0h2M369 165.5h4m1 0h1m3 0h1m1 0h1m1 0h7m18 0h1m1 0h1m21 0h1m6 0h2M350 166.5h3m20 0h1m6 0h2m3 0h4m29 0h1m20 0h1M350 167.5h2m12 0h1m1 0h2m10 0h2m1 0h1m8 0h1m7 0h2m17 0h2m11 0h2m7 0h1m2 0h1m2 0h1m35 0h2M346 168.5h1m3 0h2m4 0h1m2 0h1m10 0h3m4 0h1m2 0h2m8 0h1m11 0h1m22 0h1m4 0h2m5 0h1m1 0h1m1 0h2m7 0h1m28 0h2m1 0h1m11 0h1m15 0h2M366 169.5h1m1 0h1m3 0h1m1 0h1m10 0h1m4 0h1m10 0h1m5 0h2m21 0h2m4 0h2m8 0h2m2 0h1m9 0h1m7 0h1m24 0h1m16 0h1M348 170.5h1m1 0h1m1 0h2m1 0h5m4 0h1m9 0h2m4 0h1m4 0h1m15 0h1m3 0h1m4 0h1m5 0h1m7 0h1m5 0h1m9 0h2m4 0h1m6 0h1m7 0h1m5 0h1m9 0h1m5 0h2m3 0h1m4 0h1M353 171.5h2m3 0h1m6 0h1m7 0h1m1 0h1m4 0h2m6 0h1m44 0h1m44 0h1m4 0h1m12 0h1M349 172.5h1m3 0h1m1 0h2m2 0h1m2 0h1m16 0h1m12 0h2m2 0h1m14 0h1m2 0h1m5 0h1m12 0h1m2 0h2m2 0h1m28 0h1m8 0h1m27 0h1m9 0h1M349 173.5h2m7 0h1m4 0h1m1 0h1m2 0h2m9 0h2m2 0h1m10 0h1m2 0h1m13 0h1m2 0h1m8 0h1m15 0h1m4 0h1m36 0h1m4 0h1m3 0h1m8 0h1m16 0h1M345 174.5h3m10 0h1m5 0h2m5 0h1m3 0h2m1 0h2m6 0h2m6 0h2m2 0h2m14 0h1m2 0h2m6 0h1m3 0h1m10 0h1m17 0h1m7 0h1m2 0h2m4 0h1m6 0h2m16 0h2m13 0h1m1 0h1M345 175.5h2m2 0h2m6 0h1m13 0h1m4 0h1m1 0h1m6 0h1m4 0h2m2 0h2m18 0h3m18 0h1m3 0h1m1 0h1m4 0h3m7 0h1m1 0h1m7 0h1m2 0h1m8 0h1m15 0h1m3 0h1m18 0h1M345 176.5h2m2 0h1m23 0h4m4 0h1m10 0h2m49 0h1m4 0h1m7 0h1m39 0h1m1 0h1m16 0h1M352 177.5h1m16 0h1m3 0h2m1 0h1m9 0h2m11 0h1m5 0h1m30 0h1m7 0h1m4 0h2m3 0h1m2 0h1m2 0h1m15 0h1m4 0h1m5 0h2m2 0h1m12 0h1m5 0h4M374 178.5h1m1 0h1m6 0h1m3 0h1m7 0h1m9 0h1m41 0h1m1 0h3m7 0h3m4 0h1m3 0h1m17 0h1m8 0h1M359 179.5h2m26 0h3m25 0h1m4 0h2m25 0h1m3 0h1m14 0h2m24 0h1m12 0h1m5 0h2m4 0h1M385 180.5h1m27 0h2m3 0h1m1 0h1m3 0h1m15 0h1m15 0h2m8 0h1m20 0h2m4 0h2m7 0h1m2 0h2M346 181.5h1m34 0h1m10 0h1m25 0h1m21 0h1m13 0h1m7 0h3m3 0h1m36 0h1m7 0h2M346 182.5h2m22 0h1m6 0h1m5 0h1m25 0h1m8 0h1m4 0h1m15 0h1m8 0h3m8 0h1m14 0h2m10 0h2m4 0h2m9 0h1M377 183.5h1m3 0h2m9 0h1m16 0h1m2 0h1m10 0h1m1 0h2m11 0h2m10 0h1m8 0h2m3 0h2m2 0h1m9 0h1m8 0h1m1 0h3m4 0h1m9 0h1m3 0h1M385 184.5h1m20 0h2m10 0h1m18 0h1m26 0h3m10 0h1m9 0h1m6 0h1m10 0h2m3 0h1M368 185.5h1m7 0h1m1 0h1m8 0h2m10 0h2m6 0h2m1 0h1m4 0h3m12 0h1m15 0h1m1 0h1m16 0h3m18 0h1m4 0h2m2 0h2m5 0h2m3 0h1m1 0h1m2 0h1M351 186.5h1m20 0h1m2 0h2m8 0h1m14 0h1m8 0h1m3 0h1m1 0h1m14 0h1m7 0h1m7 0h3m10 0h1m1 0h2m24 0h1m4 0h2M374 187.5h1m11 0h2m20 0h2m3 0h1m4 0h1m28 0h1m6 0h2m2 0h1m3 0h1m2 0h1m17 0h1m6 0h1m7 0h1m6 0h2m6 0h1m3 0h1M377 188.5h1m15 0h1m2 0h3m10 0h3m1 0h1m30 0h2m5 0h1m2 0h2m1 0h2m2 0h2m2 0h1m6 0h5m5 0h1m1 0h1m3 0h1m1 0h1m9 0h1m4 0h2m4 0h2M347 189.5h1m39 0h1m5 0h1m16 0h2m22 0h2m13 0h3m3 0h1m6 0h1m6 0h1m2 0h4m7 0h2m5 0h1m4 0h1m11 0h1m4 0h1m1 0h1m2 0h1M346 190.5h1m2 0h1m36 0h2m1 0h2m34 0h2m8 0h2m10 0h1m4 0h2m2 0h1m13 0h1m1 0h1m7 0h1m26 0h1m2 0h1m4 0h3M346 191.5h1m5 0h1m27 0h2m3 0h1m6 0h1m19 0h1m12 0h2m13 0h1m7 0h1m13 0h1m24 0h1m12 0h1m13 0h1M346 192.5h1m6 0h1m4 0h1m26 0h1m23 0h1m15 0h1m1 0h1m23 0h2m4 0h1m3 0h2m8 0h1m1 0h1m1 0h1m12 0h1m6 0h3m15 0h3M394 193.5h1m28 0h1m1 0h1m44 0h2m3 0h1m2 0h1m1 0h1m9 0h1M351 194.5h1m9 0h3m20 0h1m3 0h1m5 0h1m5 0h1m69 0h1m8 0h1m3 0h1m11 0h1m8 0h1m5 0h1M348 195.5h1m12 0h3m3 0h1m20 0h1m1 0h1m6 0h1m11 0h1m56 0h1m11 0h1m4 0h1m17 0h1m2 0h1m1 0h1m3 0h1m1 0h1M349 196.5h2m2 0h1m5 0h1m4 0h1m2 0h1m74 0h1m17 0h1m12 0h1m9 0h1m8 0h1m10 0h1m1 0h4M349 197.5h1m14 0h1m2 0h1m4 0h1m29 0h1m4 0h1m49 0h1m15 0h2m2 0h1m2 0h2m3 0h1m19 0h1m2 0h1m2 0h2m4 0h1M348 198.5h1m15 0h1m1 0h2m4 0h2m26 0h3m41 0h1m20 0h3m5 0h1m2 0h2m2 0h2m23 0h2m8 0h2M345 199.5h1m3 0h2m8 0h1m7 0h1m4 0h1m9 0h2m56 0h2m2 0h1m29 0h1m12 0h1m1 0h2m7 0h1m1 0h1m4 0h1m4 0h1M346 200.5h1m5 0h1m3 0h1m37 0h2m6 0h1m37 0h2m24 0h1m7 0h1m14 0h1m3 0h2m3 0h2m5 0h1m4 0h1M345 201.5h2m2 0h1m7 0h1m24 0h2m16 0h2m53 0h1m4 0h1m3 0h2m4 0h1m3 0h1m3 0h1m7 0h1m7 0h1m4 0h7M346 202.5h2m1 0h1m29 0h1m2 0h1m17 0h1m50 0h1m18 0h1m3 0h2m1 0h1m16 0h1m10 0h1M347 203.5h1m12 0h1m8 0h1m13 0h1m16 0h1m58 0h1m1 0h1m5 0h1m1 0h1m4 0h1m14 0h1m4 0h2m1 0h1m6 0h1m6 0h1M345 204.5h1m1 0h1m35 0h1m5 0h1m59 0h2m8 0h1m1 0h1m7 0h1m22 0h2m2 0h2m4 0h2m1 0h1m5 0h1M350 205.5h1m8 0h1m2 0h1m15 0h2m75 0h1m1 0h1m3 0h1m4 0h1m2 0h1m19 0h3m19 0h1M356 206.5h2m20 0h1m11 0h3m33 0h1m28 0h4m10 0h1m16 0h2m1 0h1m1 0h1m15 0h2M347 207.5h1m9 0h1m2 0h2m1 0h1m6 0h1m2 0h1m19 0h1m92 0h2m6 0h2m8 0h1M346 208.5h1m6 0h1m6 0h1m8 0h1m2 0h2m4 0h1m3 0h1m2 0h1m3 0h1m6 0h1m17 0h1m34 0h1m34 0h1m30 0h1M346 209.5h3m2 0h1m2 0h2m4 0h1m2 0h1m6 0h2m1 0h1m10 0h1m17 0h1m8 0h1m5 0h1m9 0h1m49 0h1m27 0h2m6 0h1M345 210.5h1m8 0h1m3 0h3m2 0h1m14 0h1m5 0h1m10 0h1m6 0h1m3 0h1m3 0h2m1 0h1m3 0h1m25 0h1m34 0h1m9 0h2m4 0h1M348 211.5h3m7 0h2m9 0h1m1 0h1m4 0h1m1 0h1m16 0h1m10 0h1m5 0h4m29 0h1m25 0h1m7 0h1m6 0h1m13 0h1M351 212.5h1m4 0h1m2 0h2m15 0h4m35 0h1m16 0h1m22 0h1m11 0h1m8 0h1m5 0h2m1 0h2m4 0h1m23 0h1M350 213.5h4m4 0h1m6 0h3m4 0h1m24 0h1m1 0h1m50 0h2m4 0h1m1 0h1m3 0h1m14 0h1m8 0h1m5 0h1m6 0h1m13 0h1M350 214.5h1m14 0h2m3 0h1m10 0h2m4 0h1m10 0h3m14 0h1m2 0h1m68 0h1m25 0h1M350 215.5h1m2 0h2m5 0h1m9 0h2m1 0h2m3 0h2m19 0h1m13 0h2m7 0h2m6 0h1m57 0h1m2 0h1M353 216.5h1m6 0h1m1 0h1m11 0h2m2 0h1m4 0h1m3 0h2m5 0h1m19 0h1m3 0h1m4 0h1m4 0h1m58 0h2m25 0h1m2 0h1M357 217.5h1m16 0h2m5 0h1m1 0h2m2 0h1m2 0h1m3 0h1m2 0h1m13 0h3m1 0h1m11 0h2m85 0h1M355 218.5h1m3 0h1m3 0h1m8 0h1m2 0h1m1 0h1m6 0h1m2 0h2m2 0h3m1 0h1m13 0h1m2 0h1m1 0h1m2 0h1m3 0h1m63 0h1m24 0h1M349 219.5h2m7 0h2m15 0h1m6 0h1m6 0h1m5 0h3m16 0h1m5 0h1m4 0h1m2 0h1m58 0h2m3 0h1m6 0h1m10 0h1M348 220.5h2m8 0h2m2 0h1m8 0h3m7 0h1m7 0h1m4 0h1m1 0h1m3 0h2m10 0h1m4 0h1m6 0h2m1 0h1m5 0h1m53 0h1m26 0h1M350 221.5h1m22 0h1m4 0h2m23 0h1m23 0h2m52 0h1m10 0h2m7 0h1M350 222.5h1m1 0h1m7 0h1m4 0h1m6 0h1m9 0h1m2 0h1m3 0h1m1 0h1m8 0h2m4 0h1m3 0h1m70 0h1m2 0h1m1 0h2m1 0h1m5 0h3m1 0h1m3 0h1m1 0h3m2 0h1m6 0h1M355 223.5h1m3 0h1m1 0h1m2 0h2m2 0h1m7 0h2m11 0h4m7 0h1m1 0h1m7 0h2m3 0h1m66 0h3m2 0h3m2 0h8m1 0h4m1 0h2m2 0h5m1 0h2M348 224.5h1m12 0h1m4 0h1m2 0h1m19 0h1m5 0h1m6 0h1m5 0h2m15 0h3m4 0h1m49 0h4m1 0h6m1 0h5m2 0h8m1 0h3m3 0h2M369 225.5h2m9 0h1m7 0h1m3 0h1m5 0h1m4 0h1m4 0h1m17 0h2m54 0h1m1 0h2m1 0h12m2 0h7m2 0h1m1 0h6M350 226.5h1m5 0h1m4 0h1m9 0h1m5 0h1m2 0h1m4 0h1m6 0h1m21 0h1m17 0h1m50 0h3m1 0h8m1 0h3m1 0h6m1 0h5m1 0h1m2 0h2M352 227.5h2m1 0h2m3 0h2m7 0h1m5 0h1m1 0h2m9 0h3m1 0h1m11 0h1m78 0h3m1 0h22m4 0h5M364 228.5h2m1 0h3m5 0h1m2 0h1m4 0h2m4 0h2m1 0h1m14 0h1m75 0h6m1 0h5m1 0h11m1 0h4m1 0h5M350 229.5h1m5 0h3m5 0h1m6 0h1m1 0h1m8 0h2m5 0h2m9 0h1m4 0h4m18 0h2m5 0h1m1 0h1m48 0h4m1 0h14m4 0h10M345 230.5h1m6 0h2m2 0h1m7 0h3m3 0h4m1 0h1m1 0h1m12 0h1m6 0h1m1 0h3m33 0h1m46 0h15m1 0h2m2 0h5m1 0h10M349 231.5h1m3 0h1m11 0h3m3 0h1m2 0h1m1 0h1m6 0h1m15 0h3m34 0h1m49 0h4m1 0h12m1 0h3m1 0h1m1 0h1m1 0h6M345 232.5h2m4 0h1m1 0h1m4 0h1m2 0h1m9 0h1m23 0h2m3 0h2m3 0h2m12 0h1m10 0h1m53 0h10m2 0h3m1 0h3m1 0h9m1 0h4M352 233.5h1m5 0h1m1 0h1m1 0h1m6 0h1m26 0h2m20 0h1m6 0h1m5 0h3m49 0h12m1 0h3m1 0h7m1 0h1m2 0h7M352 234.5h1m9 0h1m29 0h1m1 0h1m1 0h2m31 0h3m7 0h1m43 0h7m2 0h26M346 235.5h4m4 0h2m4 0h1m6 0h2m2 0h1m7 0h1m4 0h1m6 0h2m3 0h1m3 0h1m2 0h1m24 0h2m1 0h2m50 0h1m1 0h16m1 0h2m1 0h1m1 0h2m1 0h5m1 0h2M347 236.5h1m1 0h1m4 0h1m2 0h1m1 0h2m4 0h2m1 0h1m2 0h2m15 0h1m6 0h1m26 0h2m13 0h1m46 0h6m1 0h3m1 0h4m3 0h9m1 0h6M347 237.5h1m1 0h1m1 0h2m2 0h1m1 0h1m6 0h2m3 0h1m9 0h2m8 0h1m5 0h1m25 0h3m1 0h2m57 0h10m1 0h4m1 0h11m1 0h6" stroke="#fff" stroke-width="1" fill="none"/>
<path d="M356 123.5h2m7 0h1m5 0h2m23 0h1m11 0h1m12 0h1m13 0h1m13 0h1m9 0h1m4 0h1m4 0h1m3 0h2m6 0h2m1 0h1m1 0h1m2 0h1m7 0h2M362 124.5h1m4 0h1m2 0h1m6 0h1m7 0h1m6 0h2m4 0h1m8 0h1m11 0h1m5 0h1m4 0h2m5 0h1m12 0h1m1 0h1m13 0h1m3 0h1m14 0h1m5 0h1m15 0h1m6 0h1M345 125.5h3m8 0h1m11 0h1m6 0h1m2 0h1m3 0h1m14 0h1m9 0h1m22 0h1m1 0h1m44 0h1m5 0h1m10 0h1m3 0h1m5 0h2m6 0h1m1 0h1m1 0h1M348 126.5h3m5 0h1m2 0h1m7 0h1m2 0h1m1 0h2m1 0h2m5 0h1m9 0h1m11 0h1m1 0h1m5 0h1m1 0h1m1 0h1m2 0h1m20 0h1m3 0h1m5 0h1m11 0h2m3 0h1m4 0h1m1 0h1m4 0h1m2 0h1m6 0h3m10 0h1m11 0h1M348 127.5h1m28 0h1m6 0h1m2 0h1m9 0h2m1 0h1m4 0h2m3 0h1m9 0h1m5 0h1m2 0h2m4 0h1m4 0h1m22 0h1m3 0h1m7 0h1m2 0h1m3 0h1m2 0h1m3 0h2m10 0h3m10 0h2M351 128.5h1m4 0h2m5 0h1m8 0h1m37 0h2m7 0h1m3 0h1m2 0h1m2 0h1m4 0h1m2 0h1m2 0h2m13 0h1m8 0h1m3 0h1m6 0h1m17 0h1m6 0h1m4 0h2m5 0h1M346 129.5h1m4 0h1m3 0h1m1 0h1m2 0h1m1 0h1m12 0h1m4 0h1m4 0h1m11 0h1m1 0h1m6 0h1m4 0h1m3 0h1m4 0h1m3 0h2m11 0h1m22 0h1m8 0h1m1 0h2m8 0h1m12 0h1M346 130.5h1m3 0h2m8 0h1m2 0h1m2 0h1m4 0h4m21 0h1m3 0h1m5 0h1m8 0h1m3 0h2m7 0h1m5 0h1m17 0h1m12 0h1m1 0h1m4 0h2m6 0h1m7 0h3m4 0h1m4 0h1m3 0h1M348 131.5h1m11 0h1m1 0h2m9 0h2m4 0h1m13 0h1m2 0h1m20 0h1m2 0h1m1 0h4m46 0h1m3 0h1m34 0h1M362 132.5h1m11 0h1m11 0h1m1 0h1m2 0h1m4 0h1m1 0h1m5 0h2m10 0h1m23 0h1m7 0h1m5 0h1m22 0h1m5 0h2m3 0h2M349 133.5h1m8 0h1m1 0h1m2 0h1m1 0h2m4 0h2m1 0h1m16 0h1m2 0h1m3 0h2m6 0h1m5 0h1m7 0h1m1 0h1m6 0h1m1 0h2m17 0h1m3 0h1m1 0h1m13 0h1m18 0h1m2 0h2m6 0h2m12 0h1M348 134.5h1m16 0h1m8 0h1m4 0h1m6 0h1m5 0h1m16 0h1m3 0h1m2 0h1m8 0h1m3 0h1m4 0h1m2 0h3m4 0h1m7 0h1m6 0h1m1 0h1m6 0h1m14 0h1m8 0h1m10 0h1m12 0h1M346 135.5h1m14 0h1m32 0h1m8 0h1m1 0h2m7 0h1m9 0h1m2 0h1m3 0h1m3 0h1m1 0h1m14 0h1m1 0h1m3 0h1m5 0h2m7 0h1m4 0h1m2 0h1m8 0h1m25 0h1M355 136.5h1m3 0h1m6 0h1m4 0h1m30 0h1m1 0h1m2 0h1m8 0h3m5 0h1m26 0h2m1 0h1m10 0h1m2 0h1m5 0h1m11 0h1m13 0h1m3 0h1m10 0h2M347 137.5h3m4 0h1m2 0h1m1 0h1m23 0h1m7 0h1m19 0h2m5 0h1m11 0h1m1 0h1m1 0h2m6 0h1m20 0h5m4 0h1m7 0h1m1 0h1m2 0h1m18 0h1m2 0h1m1 0h1m1 0h1m1 0h1M347 138.5h1m1 0h1m15 0h1m10 0h1m6 0h1m5 0h1m1 0h1m4 0h1m12 0h1m2 0h1m11 0h1m1 0h1m1 0h1m3 0h1m1 0h1m4 0h1m6 0h1m2 0h1m15 0h1m4 0h1m4 0h2m3 0h1m4 0h3m2 0h1M358 139.5h1m1 0h3m6 0h1m2 0h1m4 0h1m6 0h1m5 0h1m5 0h1m11 0h1m4 0h1m3 0h1m21 0h1m2 0h1m7 0h1m4 0h1m3 0h1m4 0h2m5 0h1m13 0h1m3 0h1m5 0h3m5 0h1m4 0h2M357 140.5h2m2 0h1m2 0h1m6 0h2m3 0h1m5 0h2m5 0h1m15 0h1m12 0h1m6 0h1m3 0h1m5 0h1m14 0h2m2 0h1m2 0h1m6 0h1m7 0h1m4 0h2m5 0h2m23 0h1M346 141.5h2m5 0h2m3 0h1m7 0h1m1 0h2m9 0h1m5 0h1m6 0h1m8 0h1m3 0h1m1 0h1m1 0h2m9 0h1m5 0h2m7 0h1m14 0h1m4 0h1m14 0h3m23 0h1m5 0h1m7 0h2m2 0h1M350 142.5h1m4 0h1m15 0h2m13 0h1m7 0h1m1 0h3m9 0h1m19 0h2m4 0h1m11 0h1m10 0h1m2 0h1m4 0h1m4 0h1m6 0h4m8 0h2m1 0h1m9 0h1m4 0h2m1 0h1M353 143.5h1m1 0h1m2 0h1m1 0h2m9 0h1m3 0h1m1 0h1m11 0h2m3 0h1m6 0h1m1 0h2m10 0h1m18 0h1m8 0h1m5 0h1m1 0h1m7 0h1m15 0h1m3 0h1m3 0h1m12 0h1m12 0h2M345 144.5h1m5 0h1m11 0h1m5 0h1m1 0h1m18 0h2m5 0h1m10 0h1m3 0h1m3 0h1m6 0h1m2 0h1m18 0h1m1 0h1m2 0h2m17 0h1m2 0h1m8 0h1m7 0h2m12 0h1m2 0h1m1 0h1m1 0h1m1 0h1m1 0h1M357 145.5h1m2 0h1m4 0h1m12 0h1m4 0h1m6 0h1m1 0h1m6 0h1m1 0h1m11 0h1m9 0h2m2 0h3m5 0h1m4 0h1m1 0h1m3 0h1m7 0h1m38 0h1m3 0h1m3 0h1m3 0h1m2 0h4M353 146.5h1m1 0h1m1 0h1m1 0h2m2 0h1m6 0h1m7 0h1m4 0h1m2 0h2m10 0h1m6 0h1m5 0h1m1 0h2m4 0h1m7 0h1m2 0h1m5 0h1m3 0h1m6 0h1m2 0h1m8 0h2m1 0h1m5 0h1m7 0h2m28 0h1m1 0h1m7 0h1M349 147.5h1m1 0h1m3 0h2m6 0h1m2 0h1m1 0h1m9 0h1m14 0h1m18 0h1m8 0h1m1 0h1m12 0h1m6 0h1m1 0h1m3 0h1m8 0h3m2 0h1m5 0h1m15 0h2m1 0h2m2 0h1m14 0h1m1 0h1m6 0h1M349 148.5h1m12 0h1m8 0h1m8 0h1m7 0h1m10 0h1m2 0h1m4 0h2m2 0h1m6 0h1m7 0h1m21 0h1m9 0h2m3 0h1m7 0h1m3 0h1m8 0h1m3 0h1m3 0h1m6 0h1m3 0h1M378 149.5h1m17 0h1m2 0h2m4 0h1m10 0h1m14 0h1m1 0h1m11 0h1m8 0h2m7 0h1m5 0h1m2 0h2m12 0h1m14 0h1m11 0h1m2 0h1M359 150.5h1m1 0h1m2 0h2m2 0h1m12 0h1m3 0h1m5 0h1m4 0h1m1 0h1m4 0h1m1 0h1m2 0h1m24 0h1m5 0h1m7 0h1m3 0h2m3 0h1m16 0h2m3 0h2m18 0h1m11 0h1m1 0h2M354 151.5h1m9 0h2m1 0h1m1 0h1m23 0h2m3 0h1m8 0h2m2 0h2m6 0h2m11 0h1m5 0h3m8 0h1m6 0h1m3 0h1m6 0h1m2 0h1m11 0h1m7 0h1m6 0h2m8 0h1M357 152.5h1m3 0h2m4 0h1m1 0h1m1 0h1m2 0h1m3 0h1m9 0h1m1 0h1m12 0h1m1 0h1m2 0h1m4 0h1m1 0h1m9 0h1m1 0h1m8 0h1m8 0h1m5 0h1m10 0h1m3 0h1m5 0h1m16 0h1m12 0h1m4 0h1m2 0h1M359 153.5h2m3 0h2m8 0h1m6 0h1m1 0h1m6 0h1m6 0h1m4 0h1m1 0h1m3 0h1m3 0h1m6 0h1m1 0h1m11 0h2m5 0h1m1 0h1m2 0h1m27 0h1m6 0h1m4 0h1m2 0h1m1 0h1m15 0h1m2 0h1M349 154.5h1m10 0h2m1 0h1m16 0h1m35 0h4m13 0h1m9 0h1m4 0h1m6 0h1m12 0h1m10 0h1m1 0h1m27 0h2M349 155.5h2m5 0h2m8 0h1m15 0h2m4 0h2m5 0h2m5 0h1m15 0h1m4 0h1m1 0h1m13 0h1m4 0h1m1 0h1m4 0h1m8 0h1m8 0h1m15 0h1m3 0h1m26 0h1M355 156.5h1m8 0h1m6 0h1m1 0h1m10 0h1m1 0h1m6 0h2m11 0h1m11 0h1m1 0h2m3 0h1m1 0h1m3 0h1m2 0h2m1 0h1m10 0h1m1 0h2m1 0h1m1 0h1m12 0h1m1 0h1m1 0h1m22 0h1m5 0h1m14 0h1M355 157.5h1m1 0h1m1 0h2m22 0h1m10 0h1m6 0h1m12 0h1m6 0h2m2 0h2m1 0h1m13 0h1m5 0h1m2 0h1m10 0h2m7 0h1m18 0h1m20 0h1M358 158.5h1m3 0h1m1 0h1m2 0h1m11 0h1m3 0h1m8 0h2m3 0h1m10 0h1m3 0h3m1 0h2m3 0h1m12 0h3m13 0h1m5 0h3m3 0h1m3 0h1m4 0h1m3 0h1m2 0h1m7 0h1m5 0h1m2 0h1m2 0h1m8 0h1M347 159.5h1m11 0h1m10 0h1m9 0h1m6 0h1m6 0h1m1 0h2m7 0h1m13 0h2m9 0h1m1 0h1m10 0h1m12 0h1m18 0h1m10 0h1M360 160.5h1m2 0h1m7 0h1m4 0h1m10 0h1m13 0h1m12 0h1m2 0h1m19 0h1m6 0h1m9 0h1m6 0h1m2 0h1m9 0h1m5 0h1m2 0h1m6 0h1m2 0h1M356 161.5h1m3 0h4m10 0h1m18 0h1m10 0h2m11 0h1m7 0h1m12 0h1m7 0h1m19 0h1m13 0h1m5 0h1M355 162.5h1m1 0h1m2 0h1m1 0h1m6 0h2m3 0h1m1 0h1m4 0h1m10 0h2m5 0h1m10 0h2m3 0h1m2 0h2m1 0h1m4 0h1m8 0h1m37 0h1m1 0h1m6 0h1M357 163.5h1m7 0h2m5 0h1m2 0h2m11 0h1m9 0h1m7 0h1m11 0h1m16 0h2m80 0h1M346 164.5h1m3 0h2m4 0h2m4 0h1m2 0h1m3 0h1m4 0h1m5 0h1m5 0h1m1 0h3m3 0h1m1 0h1m3 0h1m3 0h1m6 0h2m5 0h1m5 0h1m5 0h1m8 0h1m42 0h1m2 0h1m4 0h1m25 0h1M360 165.5h1m1 0h1m2 0h1m27 0h1m1 0h1m2 0h1m1 0h1m2 0h2m3 0h1m2 0h1m65 0h1m4 0h1m4 0h1M345 166.5h1m13 0h1m24 0h1m6 0h2m1 0h1m3 0h1m5 0h1m5 0h2m12 0h1m1 0h1m4 0h2m21 0h1m17 0h1m14 0h1m9 0h1M358 167.5h2m23 0h2m1 0h1m14 0h1m8 0h1m86 0h1m7 0h1m1 0h1M354 168.5h1m3 0h1m5 0h1m10 0h2m6 0h1m2 0h1m2 0h1m11 0h1m7 0h1m4 0h1m1 0h1m12 0h1m4 0h1m23 0h1m41 0h1m11 0h1M348 169.5h1m5 0h2m4 0h1m6 0h1m11 0h1m4 0h1m2 0h1m15 0h1m8 0h1m5 0h3m4 0h1m8 0h2m3 0h2m20 0h1m3 0h1m10 0h1m7 0h1m1 0h2m10 0h1m5 0h1m6 0h1M346 170.5h1m2 0h1m11 0h1m10 0h1m15 0h1m1 0h1m5 0h1m6 0h1m5 0h1m4 0h1m5 0h1m1 0h1m10 0h1m2 0h1m6 0h2m2 0h1m1 0h1m12 0h1m13 0h1m14 0h1m11 0h3m1 0h1m2 0h1m6 0h1M346 171.5h1m4 0h2m8 0h2m22 0h1m1 0h1m11 0h1m2 0h1m5 0h3m20 0h1m22 0h1m30 0h1m3 0h1m5 0h1m2 0h1m8 0h1M348 172.5h1m12 0h1m1 0h1m5 0h1m12 0h1m1 0h1m2 0h2m2 0h1m5 0h2m2 0h3m3 0h1m1 0h2m2 0h1m27 0h3m1 0h1m43 0h1m6 0h2m9 0h1m1 0h1m2 0h2M347 173.5h1m4 0h2m6 0h1m20 0h1m6 0h1m11 0h1m12 0h1m6 0h1m4 0h1m22 0h1m2 0h1m8 0h1m3 0h1m31 0h3m1 0h1m13 0h1m2 0h1M352 174.5h2m5 0h1m12 0h1m7 0h1m9 0h1m2 0h1m10 0h1m1 0h3m6 0h1m22 0h1m6 0h1m2 0h1m5 0h1m1 0h1m5 0h1m22 0h1m4 0h1m3 0h2m12 0h1m2 0h1m2 0h1M351 175.5h2m11 0h1m4 0h2m13 0h1m11 0h2m5 0h1m2 0h1m10 0h2m6 0h1m3 0h1m3 0h1m4 0h1m5 0h1m6 0h1m2 0h1m13 0h1m8 0h1m12 0h3m2 0h1m5 0h2m9 0h1M368 176.5h1m11 0h1m3 0h3m7 0h2m2 0h1m13 0h1m3 0h2m11 0h1m4 0h1m9 0h1m10 0h1m8 0h1m1 0h3m34 0h1m2 0h1m5 0h1m3 0h1M384 177.5h1m4 0h1m6 0h1m1 0h1m3 0h1m6 0h2m11 0h1m4 0h2m4 0h1m4 0h1m2 0h1m13 0h1m16 0h1m19 0h2m1 0h2m4 0h1m6 0h1m5 0h4M358 178.5h1m23 0h1m1 0h1m7 0h1m6 0h1m3 0h1m5 0h2m1 0h1m9 0h1m6 0h2m5 0h2m3 0h1m11 0h1m11 0h1m5 0h1m9 0h1m11 0h1m5 0h1m1 0h2m5 0h2m2 0h1M385 179.5h2m23 0h1m2 0h1m2 0h2m1 0h1m2 0h1m7 0h1m6 0h1m10 0h1m1 0h1m2 0h3m4 0h1m9 0h1m4 0h1m2 0h1m4 0h1m2 0h3m5 0h1m14 0h1M357 180.5h1m25 0h1m2 0h1m7 0h1m2 0h1m6 0h1m12 0h1m20 0h1m7 0h1m1 0h1m4 0h1m8 0h1m9 0h1m16 0h1m19 0h2M348 181.5h1m34 0h1m4 0h1m8 0h1m5 0h1m4 0h1m2 0h1m4 0h1m2 0h3m6 0h1m1 0h1m4 0h1m3 0h1m5 0h1m5 0h1m4 0h3m1 0h2m5 0h1m6 0h1m3 0h1m4 0h1m6 0h1m4 0h1M345 182.5h1m43 0h2m12 0h1m2 0h2m3 0h1m4 0h1m3 0h1m1 0h1m19 0h1m12 0h1m2 0h1m3 0h3m15 0h3m7 0h2m2 0h1m1 0h1m1 0h1m5 0h1m2 0h1m4 0h1m2 0h1M346 183.5h1m2 0h1m15 0h1m19 0h4m24 0h1m1 0h1m6 0h1m13 0h2m7 0h1m47 0h2m6 0h2m4 0h2M361 184.5h1m18 0h1m17 0h1m5 0h1m11 0h1m2 0h1m3 0h1m4 0h1m7 0h1m10 0h3m1 0h1m2 0h1m8 0h1m21 0h1m11 0h1m3 0h1m10 0h3m2 0h1M360 185.5h1m1 0h1m22 0h1m8 0h1m9 0h1m40 0h1m1 0h1m2 0h1m4 0h1m8 0h1m3 0h2m1 0h2m6 0h2m13 0h1m5 0h2m9 0h1M349 186.5h2m20 0h1m17 0h1m12 0h1m20 0h1m25 0h2m6 0h2m13 0h1m2 0h1m3 0h1m19 0h1m11 0h1M381 187.5h1m2 0h1m8 0h2m6 0h1m1 0h2m5 0h1m19 0h1m7 0h2m6 0h1m14 0h1m5 0h1m14 0h1m8 0h1m3 0h2m3 0h1m3 0h1m5 0h1m1 0h1M361 188.5h1m11 0h1m1 0h1m8 0h1m7 0h1m1 0h1m4 0h2m1 0h1m2 0h1m9 0h1m9 0h1m24 0h1m16 0h1m1 0h2m15 0h1m17 0h1M348 189.5h1m12 0h1m22 0h2m26 0h3m2 0h1m4 0h1m16 0h1m5 0h1m1 0h1m4 0h1m1 0h1m2 0h1m6 0h2m5 0h1m6 0h1m3 0h1m4 0h1m3 0h2m9 0h1m2 0h1m3 0h2m4 0h2M347 190.5h1m8 0h1m8 0h1m12 0h2m1 0h1m2 0h1m3 0h1m2 0h2m1 0h1m45 0h1m17 0h1m4 0h1m3 0h1m6 0h1m7 0h3m14 0h1m1 0h1m1 0h1M367 191.5h1m5 0h1m19 0h2m2 0h2m3 0h1m4 0h1m6 0h1m6 0h1m11 0h1m7 0h1m2 0h1m5 0h1m1 0h1m3 0h1m1 0h1m4 0h1m15 0h1m1 0h2m3 0h1m5 0h2m4 0h1m17 0h1M355 192.5h1m3 0h1m3 0h1m4 0h1m14 0h1m2 0h2m2 0h1m6 0h1m2 0h1m5 0h1m3 0h1m1 0h1m24 0h1m12 0h1m2 0h1m5 0h1m3 0h1m8 0h1m4 0h1m2 0h1m1 0h2m5 0h1m8 0h3m4 0h2m2 0h2M358 193.5h1m8 0h1m1 0h1m9 0h1m9 0h1m8 0h1m7 0h2m42 0h1m5 0h2m2 0h1m13 0h1m14 0h1m1 0h1m2 0h2m2 0h1m5 0h2m7 0h1M347 194.5h1m5 0h1m4 0h1m11 0h1m20 0h1m6 0h1m2 0h1m2 0h1m6 0h1m13 0h2m17 0h1m2 0h1m3 0h1m8 0h1m3 0h1m1 0h1m7 0h1m2 0h1m3 0h1m2 0h1m5 0h1m8 0h1m7 0h1m8 0h2M354 195.5h1m2 0h1m19 0h1m4 0h3m4 0h1m8 0h1m34 0h1m21 0h2m1 0h3m1 0h1m1 0h1m2 0h1m1 0h1m6 0h1m7 0h2m2 0h2m9 0h1m14 0h2M354 196.5h1m7 0h1m17 0h1m1 0h1m3 0h1m4 0h1m2 0h1m3 0h1m5 0h2m21 0h1m16 0h1m1 0h1m6 0h1m12 0h3m5 0h1m12 0h1m7 0h1m2 0h1m5 0h1m4 0h1m2 0h1m3 0h1M348 197.5h1m12 0h1m8 0h1m9 0h1m1 0h2m7 0h1m8 0h1m14 0h1m6 0h1m7 0h1m6 0h2m2 0h1m5 0h1m8 0h1m6 0h1m3 0h2m2 0h1m14 0h1m20 0h1m8 0h1M349 198.5h1m5 0h1m5 0h1m21 0h1m15 0h1m3 0h1m8 0h1m27 0h2m14 0h1m22 0h1m5 0h1m5 0h1m4 0h2m5 0h1m3 0h1M353 199.5h1m8 0h1m3 0h1m9 0h1m8 0h2m6 0h2m1 0h1m1 0h1m3 0h1m3 0h1m1 0h1m6 0h1m37 0h2m9 0h1m10 0h1m2 0h1m3 0h1m3 0h1m1 0h1m12 0h1m7 0h1M361 200.5h1m2 0h1m23 0h1m4 0h1m44 0h1m13 0h1m10 0h1m6 0h1m15 0h2m8 0h1m3 0h2m6 0h1M352 201.5h1m11 0h1m4 0h2m3 0h1m1 0h1m1 0h1m14 0h1m52 0h1m3 0h3m9 0h2m3 0h2m18 0h1m3 0h1m15 0h1m1 0h1m2 0h1m4 0h1M354 202.5h1m7 0h2m4 0h1m33 0h1m13 0h1m29 0h1m14 0h2m5 0h1m7 0h1m1 0h1m4 0h1m2 0h1m2 0h1m6 0h1m18 0h1M346 203.5h1m6 0h2m1 0h1m1 0h1m42 0h3m31 0h1m40 0h1m9 0h1m11 0h1m1 0h1m1 0h1m4 0h1M346 204.5h1m20 0h2m3 0h1m21 0h1m4 0h1m6 0h1m7 0h1m36 0h1m11 0h1m2 0h1m1 0h1m9 0h2M347 205.5h1m1 0h1m3 0h3m8 0h1m4 0h1m1 0h1m22 0h1m5 0h1m3 0h1m6 0h2m8 0h1m7 0h1m9 0h1m6 0h1m9 0h1m27 0h2m11 0h1m5 0h1m2 0h1M347 206.5h1m4 0h2m21 0h1m5 0h1m6 0h1m6 0h1m14 0h1m62 0h1m3 0h1m6 0h2m9 0h2M348 207.5h1m43 0h1m9 0h2m7 0h1m2 0h1m29 0h1m5 0h1m1 0h1m3 0h1m1 0h1m3 0h2m2 0h3m6 0h2m5 0h2m4 0h1m11 0h1m2 0h1m2 0h1M345 208.5h1m6 0h1m4 0h1m7 0h1m25 0h1m9 0h1m5 0h1m13 0h1m12 0h1m19 0h1m4 0h2m3 0h1m12 0h1m3 0h1m1 0h1m7 0h1m12 0h2M353 209.5h1m2 0h1m2 0h1m7 0h2m3 0h1m13 0h1m1 0h1m2 0h2m4 0h1m7 0h1m2 0h1m46 0h1m3 0h1m22 0h1m8 0h1m2 0h1m7 0h1M361 210.5h1m3 0h1m1 0h1m8 0h1m8 0h1m6 0h1m12 0h1m3 0h1m14 0h1m11 0h1m21 0h2m1 0h3m3 0h1m1 0h1m1 0h1m3 0h1m1 0h1m4 0h1m2 0h1m10 0h2m14 0h2M345 211.5h1m6 0h1m10 0h1m25 0h1m10 0h1m1 0h1m1 0h1m38 0h2m12 0h1m2 0h1m5 0h1m2 0h1m4 0h2m8 0h1m5 0h1m11 0h2m1 0h1M361 212.5h3m5 0h1m1 0h1m1 0h1m1 0h1m7 0h2m3 0h1m3 0h1m11 0h1m4 0h2m1 0h1m11 0h1m9 0h1m28 0h2m3 0h4m1 0h1m7 0h1m6 0h1m6 0h1m1 0h1m5 0h3M355 213.5h1m1 0h1m4 0h2m13 0h2m1 0h1m6 0h2m1 0h1m2 0h3m6 0h2m19 0h1m4 0h1m17 0h1m6 0h1m3 0h1m3 0h1m3 0h1m15 0h1m5 0h1M353 214.5h1m10 0h1m2 0h1m5 0h1m12 0h1m3 0h1m2 0h1m8 0h1m24 0h1m3 0h1m1 0h1m12 0h1m33 0h1m15 0h1m5 0h1m4 0h1M357 215.5h3m17 0h1m2 0h1m3 0h1m9 0h1m6 0h2m7 0h1m10 0h1m2 0h1m55 0h1m6 0h1m1 0h1m3 0h1m3 0h1m2 0h1m15 0h1M354 216.5h1m10 0h1m15 0h1m3 0h1m4 0h2m8 0h2m13 0h1m5 0h2m1 0h1m11 0h1m26 0h1m1 0h1m10 0h1M348 217.5h1m6 0h1m4 0h1m7 0h3m5 0h2m7 0h2m5 0h1m5 0h1m1 0h1m3 0h2m10 0h1m1 0h2m3 0h1m5 0h1m1 0h1m30 0h1m18 0h1m24 0h1M352 218.5h1m3 0h1m1 0h1m5 0h1m2 0h1m1 0h1m16 0h1m12 0h1m2 0h1m4 0h1m5 0h1m8 0h1m35 0h1m3 0h1m11 0h1m28 0h1m5 0h1M348 219.5h1m3 0h2m14 0h1m5 0h1m9 0h3m4 0h3m8 0h1m3 0h2m11 0h1m7 0h1m1 0h1m26 0h1m23 0h1m5 0h1m16 0h1m7 0h1M354 220.5h1m11 0h1m17 0h3m4 0h2m2 0h1m8 0h7m2 0h1m8 0h1m29 0h2m24 0h1M349 221.5h1m8 0h1m2 0h2m19 0h1m2 0h1m4 0h2m3 0h1m5 0h1m6 0h1m2 0h1m7 0h1m23 0h1m23 0h1m26 0h2M345 222.5h1m3 0h1m7 0h1m4 0h1m4 0h1m1 0h1m3 0h1m5 0h1m16 0h2m4 0h1m6 0h1m5 0h1m14 0h1M346 223.5h2m10 0h1m4 0h1m19 0h2m1 0h1m9 0h1m8 0h1m1 0h1m10 0h1m1 0h1m7 0h1m5 0h2m6 0h1m32 0h1M346 224.5h2m7 0h2m6 0h2m8 0h3m7 0h1m6 0h1m9 0h1m5 0h1m17 0h1m3 0h1m5 0h1m5 0h1m2 0h1m21 0h1M354 225.5h2m19 0h1m6 0h1m10 0h1m15 0h2m10 0h1m6 0h1m6 0h1m10 0h1m29 0h1M345 226.5h2m13 0h1m1 0h1m4 0h1m1 0h1m2 0h1m8 0h1m2 0h1m1 0h1m2 0h1m14 0h1m3 0h1m8 0h1m1 0h1m1 0h1m8 0h1m3 0h1m9 0h3m39 0h1M348 227.5h1m15 0h1m3 0h1m2 0h2m8 0h3m2 0h1m4 0h1m6 0h3m11 0h2m7 0h1m5 0h3m3 0h1m3 0h1M348 228.5h1m2 0h2m10 0h1m18 0h1m4 0h1m7 0h1m2 0h1m11 0h1m4 0h2m2 0h1m2 0h1m4 0h1m24 0h1m10 0h1m12 0h1M345 229.5h1m9 0h1m4 0h1m5 0h1m13 0h2m6 0h1m30 0h1m9 0h1m10 0h1m14 0h1m14 0h1M358 230.5h1m1 0h2m5 0h1m16 0h1m4 0h1m1 0h2m1 0h1m8 0h1m2 0h1m2 0h1m1 0h2m9 0h1m4 0h3m37 0h1m7 0h1M352 231.5h1m6 0h1m2 0h1m1 0h1m4 0h1m3 0h1m6 0h1m1 0h1m26 0h1m2 0h1m1 0h2m4 0h1m54 0h1m1 0h1M348 232.5h1m3 0h1m6 0h1m3 0h1m2 0h1m1 0h3m3 0h1m16 0h2m5 0h1m14 0h1m2 0h1m7 0h1m51 0h1M355 233.5h1m5 0h1m1 0h2m3 0h1m7 0h1m1 0h1m2 0h1m4 0h2m5 0h1m28 0h1m3 0h1m54 0h1M347 234.5h1m1 0h1m3 0h1m5 0h3m11 0h1m3 0h3m3 0h1m1 0h1m2 0h1m11 0h1m5 0h2m4 0h1m8 0h1m1 0h1m13 0h1m2 0h1m15 0h2M353 235.5h1m2 0h2m8 0h1m9 0h1m5 0h1m7 0h1m7 0h1m6 0h1m6 0h1m6 0h2m5 0h1m11 0h1m35 0h1m4 0h1M352 236.5h2m1 0h2m1 0h1m3 0h1m12 0h1m5 0h1m4 0h2m15 0h1m4 0h1m3 0h1m3 0h1m2 0h1m27 0h1m25 0h1m8 0h1M346 237.5h1m1 0h1m12 0h2m8 0h2m1 0h2m17 0h1m19 0h1m1 0h1m2 0h2m22 0h1m3 0h2" stroke="#2d0ce1" stroke-width="1" fill="none"/>
</g></g>
<rect x="482.80" y="220.90" width="36.50" height="17.90" fill="#fff"/>
<text x="487.90" y="232.60" class="sb">25 µm</text>
<rect x="487.70" y="234.60" width="23.10" height="2.60" fill="#000"/>
<clipPath id="cpc3"><rect x="345.2" y="247.3" width="173.60" height="115.70"/></clipPath>
<g clip-path="url(#cpc3)"><g filter="url(#sblr)">
<rect x="343.2" y="245.3" width="177.60" height="119.70" fill="#ff1c0c"/>
<path d="M345 247.5h1m6 0h1m1 0h1m1 0h1m5 0h1m3 0h4m4 0h1m12 0h1m5 0h1m11 0h3m10 0h2m2 0h1m1 0h1m6 0h1m7 0h1m1 0h2m1 0h1m2 0h1m10 0h1m3 0h2m7 0h1m1 0h1m2 0h3m4 0h1m5 0h1m2 0h2m1 0h2m7 0h1m3 0h1m2 0h3M345 248.5h1m6 0h1m1 0h3m5 0h2m2 0h4m17 0h2m4 0h1m12 0h2m10 0h2m2 0h1m1 0h1m1 0h1m5 0h1m6 0h1m1 0h2m1 0h1m2 0h1m14 0h2m7 0h1m1 0h1m2 0h3m4 0h1m5 0h1m2 0h2m2 0h1m3 0h1m3 0h1m3 0h1m2 0h3m2 0h1M345 249.5h1m6 0h1m1 0h3m6 0h1m2 0h4m17 0h2m2 0h1m14 0h2m10 0h1m6 0h2m3 0h1m1 0h1m6 0h1m2 0h1m1 0h1m2 0h1m13 0h2m7 0h1m5 0h3m4 0h1m5 0h1m2 0h1m7 0h1m3 0h1m3 0h1m2 0h3m2 0h1M350 250.5h2m2 0h3m6 0h1m3 0h2m8 0h1m9 0h2m1 0h2m4 0h1m1 0h2m6 0h2m10 0h1m6 0h2m5 0h1m5 0h2m2 0h1m1 0h1m25 0h1m5 0h1m1 0h2m9 0h1m2 0h2m6 0h1m3 0h1m2 0h1m3 0h3M350 251.5h2m2 0h3m6 0h1m3 0h1m1 0h2m6 0h1m2 0h1m6 0h5m4 0h1m1 0h2m6 0h2m10 0h1m7 0h1m5 0h1m5 0h2m2 0h1m36 0h1m9 0h1m2 0h2m5 0h2m3 0h1m6 0h3M349 252.5h1m4 0h1m3 0h1m4 0h1m3 0h1m1 0h2m6 0h1m2 0h1m6 0h4m7 0h2m6 0h3m3 0h1m5 0h1m13 0h1m1 0h1m3 0h2m10 0h2m40 0h1m5 0h3m3 0h3m4 0h3M349 253.5h2m3 0h1m3 0h1m10 0h2m6 0h1m2 0h1m8 0h2m7 0h2m7 0h1m16 0h1m9 0h1m3 0h2m10 0h2m31 0h1m14 0h1m6 0h2m2 0h1m1 0h1M349 254.5h2m3 0h1m3 0h1m10 0h2m1 0h1m6 0h2m8 0h1m8 0h1m4 0h1m5 0h1m13 0h2m9 0h2m2 0h2m10 0h2m31 0h1m14 0h1m2 0h1m4 0h1m1 0h2m1 0h1M350 255.5h1m3 0h3m1 0h1m10 0h1m1 0h4m4 0h2m1 0h1m6 0h1m7 0h1m11 0h1m11 0h1m1 0h2m10 0h1m2 0h2m9 0h1m28 0h1m4 0h1m6 0h1m5 0h1m1 0h1m2 0h1m9 0h2M346 256.5h1m3 0h1m4 0h2m1 0h1m10 0h1m1 0h1m1 0h2m4 0h1m2 0h1m6 0h1m7 0h1m11 0h1m11 0h1m2 0h1m10 0h2m6 0h1m4 0h1m29 0h1m11 0h1m3 0h3m1 0h1m2 0h1m9 0h2m3 0h1M345 257.5h2m3 0h2m3 0h1m2 0h1m2 0h1m7 0h6m4 0h1m2 0h1m3 0h1m2 0h1m19 0h1m25 0h2m6 0h1m4 0h1m6 0h1m38 0h1m1 0h3m2 0h1m14 0h2M345 258.5h1m3 0h4m2 0h1m3 0h1m1 0h1m7 0h4m1 0h1m4 0h1m2 0h1m3 0h1m2 0h1m2 0h1m11 0h1m4 0h1m26 0h1m18 0h1m36 0h1m3 0h3m2 0h1m14 0h2M345 259.5h1m3 0h1m1 0h2m6 0h1m1 0h1m9 0h2m3 0h1m5 0h1m1 0h1m4 0h1m2 0h1m11 0h1m1 0h1m2 0h1m37 0h1m7 0h2m21 0h1m18 0h2m3 0h1m13 0h1M348 260.5h2m2 0h1m6 0h1m1 0h1m13 0h3m3 0h2m6 0h1m1 0h2m1 0h1m11 0h1m2 0h1m37 0h1m8 0h1m21 0h1m18 0h2m3 0h1m1 0h1M348 261.5h2m11 0h1m13 0h3m3 0h1m9 0h2m8 0h1m4 0h1m2 0h1m26 0h2m3 0h1m5 0h1m30 0h1m19 0h2m2 0h1m1 0h2m7 0h1M349 262.5h1m10 0h2m12 0h3m14 0h2m13 0h1m2 0h1m16 0h1m9 0h2m3 0h1m5 0h1m50 0h2m2 0h1m2 0h1m7 0h1M345 263.5h1m10 0h2m2 0h2m3 0h1m5 0h1m2 0h3m8 0h1m2 0h1m2 0h2m5 0h1m7 0h1m2 0h1m16 0h1m7 0h1m5 0h2m55 0h3m2 0h1m10 0h1m3 0h1M350 264.5h1m4 0h2m1 0h1m6 0h1m1 0h1m17 0h1m2 0h1m2 0h2m5 0h1m7 0h1m2 0h1m2 0h1m7 0h1m5 0h1m7 0h1m6 0h1m55 0h3m12 0h2m3 0h1M346 265.5h1m3 0h2m3 0h1m2 0h1m1 0h1m3 0h2m1 0h1m16 0h2m2 0h1m1 0h2m6 0h2m6 0h1m3 0h1m1 0h1m7 0h1m5 0h1m85 0h2m3 0h1M346 266.5h1m3 0h1m4 0h1m2 0h1m1 0h1m3 0h2m18 0h2m5 0h1m6 0h2m10 0h1m1 0h1m10 0h1m2 0h1m85 0h1m1 0h1m2 0h1M352 267.5h1m5 0h1m1 0h1m3 0h2m7 0h1m10 0h3m23 0h1m1 0h1m10 0h1m5 0h1m81 0h1m2 0h1M352 268.5h1m2 0h2m1 0h1m6 0h1m7 0h3m9 0h2m23 0h1m10 0h2m6 0h1m81 0h1m2 0h1M352 269.5h1m2 0h2m1 0h1m6 0h1m7 0h2m10 0h1m35 0h2m6 0h1m81 0h1M348 270.5h1m3 0h4m9 0h1m7 0h2m38 0h1m2 0h1m4 0h2m3 0h1m2 0h1m9 0h1m71 0h1M353 271.5h3m3 0h1m5 0h1m6 0h1m1 0h1m38 0h1m2 0h1m5 0h1m3 0h1m5 0h1m6 0h1m4 0h2m44 0h1M345 272.5h1m8 0h1m4 0h1m5 0h1m3 0h1m2 0h2m39 0h1m2 0h1m5 0h3m1 0h1m5 0h1m6 0h1m4 0h3m8 0h1m38 0h1m11 0h1M345 273.5h1m19 0h1m3 0h2m1 0h2m4 0h1m11 0h1m25 0h1m2 0h1m3 0h1m8 0h1m1 0h1m4 0h1m4 0h3m7 0h2m29 0h1m8 0h1m4 0h1m6 0h1M345 274.5h1m19 0h1m3 0h2m1 0h1m1 0h2m1 0h2m15 0h1m21 0h1m2 0h1m7 0h1m4 0h1m1 0h1m9 0h3m7 0h1m22 0h1m7 0h1m8 0h1m4 0h1m3 0h1m2 0h1M345 275.5h3m22 0h1m2 0h3m2 0h1m6 0h1m8 0h1m16 0h1m20 0h1m1 0h1m19 0h1m2 0h1m7 0h1m11 0h1m7 0h1m8 0h1m4 0h1M345 276.5h2m17 0h1m5 0h2m1 0h2m3 0h1m6 0h1m24 0h2m6 0h1m2 0h1m3 0h1m2 0h1m5 0h1m16 0h1m13 0h1m11 0h1m7 0h2m12 0h1m5 0h1M345 277.5h2m17 0h1m5 0h2m1 0h2m3 0h1m6 0h1m23 0h3m9 0h1m3 0h1m2 0h1m7 0h1m14 0h1m13 0h1m11 0h1m7 0h1m2 0h1m1 0h1m5 0h1m8 0h1M346 278.5h1m2 0h1m13 0h2m5 0h2m1 0h2m2 0h2m4 0h3m17 0h1m5 0h2m10 0h1m14 0h1m6 0h2m2 0h1m3 0h1m29 0h1m3 0h1m2 0h1m1 0h1m5 0h1m8 0h1m5 0h1M349 279.5h1m5 0h1m4 0h1m2 0h3m4 0h1m2 0h2m2 0h1m6 0h2m4 0h1m9 0h2m1 0h1m6 0h1m3 0h1m6 0h1m14 0h1m4 0h4m2 0h1m40 0h1m7 0h1m8 0h1m5 0h1M349 280.5h2m3 0h4m5 0h2m4 0h2m2 0h2m2 0h1m7 0h1m4 0h1m3 0h1m5 0h2m1 0h1m10 0h1m6 0h2m13 0h1m4 0h2m1 0h2m40 0h1m5 0h1m3 0h1m8 0h1m9 0h1M349 281.5h2m3 0h2m1 0h1m11 0h2m2 0h1m11 0h2m2 0h2m9 0h2m1 0h1m10 0h1m6 0h2m4 0h1m8 0h1m4 0h2m1 0h1m8 0h1m6 0h1m20 0h1m4 0h1m5 0h1M349 282.5h2m3 0h2m1 0h1m1 0h1m2 0h1m5 0h3m11 0h1m3 0h1m2 0h2m9 0h1m2 0h1m10 0h1m6 0h2m4 0h1m5 0h2m6 0h2m10 0h1m6 0h1m20 0h1m4 0h1m5 0h1m5 0h1M350 283.5h1m3 0h2m1 0h1m1 0h1m2 0h1m5 0h2m6 0h1m5 0h1m3 0h1m2 0h1m13 0h4m7 0h2m5 0h1m11 0h2m2 0h1m4 0h1m1 0h1m7 0h2m6 0h1m20 0h1m4 0h1m4 0h2m2 0h1m2 0h1M350 284.5h1m4 0h1m1 0h1m1 0h1m1 0h2m3 0h4m6 0h1m5 0h1m13 0h1m6 0h2m9 0h2m17 0h2m2 0h1m4 0h1m1 0h1m7 0h1m23 0h1m5 0h1m3 0h1m2 0h1m1 0h3m1 0h1M350 285.5h1m4 0h1m5 0h2m4 0h3m12 0h1m13 0h1m6 0h2m9 0h2m9 0h1m11 0h1m4 0h1m1 0h1m7 0h1m9 0h1m13 0h1m5 0h1m3 0h1m1 0h1m2 0h1m1 0h1M345 286.5h1m2 0h1m1 0h1m2 0h1m1 0h1m6 0h1m6 0h1m16 0h2m8 0h1m7 0h1m5 0h1m3 0h1m10 0h1m11 0h1m10 0h1m3 0h1m9 0h4m3 0h1m12 0h1m3 0h1m6 0h2m15 0h2M345 287.5h1m2 0h1m14 0h1m5 0h1m7 0h1m8 0h2m2 0h1m5 0h1m3 0h1m9 0h1m3 0h1m7 0h1m14 0h1m10 0h1m13 0h4m3 0h2m15 0h1m6 0h2m6 0h1m8 0h2M345 288.5h4m14 0h1m8 0h1m4 0h1m8 0h3m1 0h1m5 0h1m3 0h1m3 0h2m3 0h2m3 0h1m5 0h1m1 0h1m14 0h2m19 0h1m3 0h3m4 0h2m2 0h1m19 0h2m6 0h1m9 0h1m2 0h2M345 289.5h2m1 0h1m14 0h1m1 0h1m6 0h1m4 0h2m4 0h1m2 0h3m6 0h2m2 0h2m3 0h2m3 0h2m9 0h1m1 0h1m1 0h1m12 0h2m19 0h1m4 0h2m3 0h2m3 0h1m3 0h1m3 0h1m5 0h2m5 0h1m13 0h1m2 0h1m2 0h1m1 0h2M345 290.5h2m1 0h1m8 0h1m5 0h1m8 0h1m1 0h1m2 0h1m2 0h1m2 0h1m2 0h3m4 0h1m1 0h2m2 0h2m3 0h2m3 0h2m9 0h1m1 0h1m14 0h2m4 0h1m12 0h1m6 0h2m3 0h2m3 0h1m3 0h1m3 0h1m5 0h2m14 0h1m7 0h1m2 0h1m1 0h2M345 291.5h1m2 0h1m4 0h2m2 0h2m7 0h1m2 0h1m2 0h1m1 0h1m5 0h1m2 0h1m2 0h1m1 0h1m4 0h1m1 0h2m1 0h1m1 0h1m3 0h1m5 0h1m11 0h1m5 0h1m9 0h1m2 0h1m14 0h1m6 0h1m4 0h2m3 0h1m7 0h1m2 0h2m1 0h2m9 0h1m4 0h1m2 0h1m4 0h1m2 0h1m1 0h2M345 292.5h1m7 0h2m2 0h1m8 0h1m2 0h1m4 0h1m5 0h1m5 0h1m6 0h1m1 0h2m1 0h1m7 0h1m21 0h1m12 0h1m13 0h2m3 0h1m2 0h2m3 0h2m2 0h2m6 0h2m2 0h2m2 0h1m4 0h1m4 0h1m4 0h1m3 0h1m3 0h1m2 0h1m1 0h2M345 293.5h1m1 0h1m5 0h2m8 0h1m5 0h1m4 0h1m5 0h1m5 0h1m6 0h1m1 0h2m9 0h1m21 0h2m11 0h1m13 0h1m3 0h2m2 0h1m4 0h2m2 0h2m6 0h2m2 0h2m2 0h1m4 0h1m9 0h1m8 0h1m1 0h1m1 0h2M347 294.5h1m4 0h2m1 0h1m7 0h1m5 0h1m4 0h1m15 0h1m4 0h2m31 0h1m11 0h2m13 0h1m7 0h1m4 0h2m3 0h1m6 0h3m1 0h2m2 0h1m3 0h3m8 0h1m7 0h4m1 0h2M347 295.5h1m3 0h2m2 0h1m7 0h1m5 0h1m2 0h1m17 0h1m4 0h2m14 0h1m16 0h1m11 0h1m22 0h1m4 0h2m10 0h2m2 0h2m6 0h2m9 0h1m5 0h5m2 0h2M347 296.5h1m1 0h4m5 0h1m4 0h1m8 0h1m17 0h1m5 0h1m14 0h1m3 0h1m9 0h1m14 0h1m10 0h1m11 0h1m4 0h2m1 0h1m6 0h1m6 0h1m1 0h1m4 0h1m10 0h1m5 0h5m1 0h3M347 297.5h1m1 0h2m1 0h1m5 0h1m3 0h1m9 0h1m7 0h1m2 0h1m4 0h4m4 0h1m13 0h2m3 0h1m18 0h1m14 0h3m4 0h1m6 0h1m7 0h2m12 0h1m6 0h1m15 0h3m1 0h2m1 0h2M347 298.5h1m1 0h1m1 0h2m19 0h1m7 0h1m8 0h3m4 0h1m13 0h2m22 0h1m3 0h1m4 0h2m4 0h3m4 0h1m6 0h1m6 0h3m4 0h1m7 0h1m6 0h1m15 0h3m2 0h1m1 0h2M349 299.5h1m1 0h2m36 0h3m4 0h1m14 0h1m16 0h1m5 0h2m7 0h1m5 0h1m6 0h1m2 0h1m10 0h3m3 0h4m15 0h1m3 0h1m8 0h3m2 0h1m1 0h2M345 300.5h1m3 0h1m1 0h2m1 0h3m33 0h2m4 0h1m31 0h2m5 0h1m7 0h1m5 0h1m6 0h1m8 0h1m4 0h3m3 0h4m1 0h2m15 0h2m4 0h2m1 0h1m1 0h1m3 0h1m1 0h2M345 301.5h1m3 0h1m2 0h1m1 0h2m16 0h1m5 0h2m21 0h1m26 0h2m5 0h1m6 0h2m9 0h1m11 0h1m6 0h1m3 0h3m2 0h2m1 0h1m2 0h1m10 0h2m4 0h4m1 0h1m3 0h1m2 0h2M345 302.5h1m3 0h2m3 0h2m16 0h1m5 0h1m16 0h2m5 0h1m2 0h1m22 0h1m4 0h1m9 0h1m9 0h1m10 0h2m11 0h2m2 0h2m1 0h1m13 0h2m5 0h3m1 0h1m3 0h1m2 0h2M349 303.5h2m4 0h1m14 0h1m1 0h1m5 0h1m16 0h2m5 0h1m2 0h1m12 0h1m7 0h1m5 0h2m9 0h1m9 0h1m10 0h2m12 0h1m2 0h1m2 0h1m9 0h1m1 0h1m1 0h3m4 0h1m1 0h1m1 0h2m1 0h1m3 0h2M347 304.5h1m1 0h3m4 0h1m13 0h1m1 0h1m9 0h1m12 0h2m5 0h1m2 0h1m25 0h1m1 0h3m19 0h1m8 0h2m7 0h1m10 0h1m9 0h3m5 0h1m2 0h1m3 0h1m6 0h2M347 305.5h5m4 0h1m13 0h1m1 0h1m9 0h1m5 0h1m6 0h3m2 0h3m2 0h1m11 0h1m4 0h1m2 0h1m5 0h1m1 0h3m19 0h1m8 0h1m29 0h2m6 0h1m6 0h1m5 0h3M347 306.5h5m9 0h1m20 0h1m5 0h1m6 0h1m1 0h1m2 0h2m3 0h1m16 0h1m1 0h2m4 0h1m3 0h2m19 0h1m27 0h1m10 0h2m6 0h1m6 0h1m6 0h2M347 307.5h3m1 0h1m1 0h1m12 0h2m15 0h1m5 0h1m10 0h1m4 0h1m16 0h1m7 0h1m4 0h1m2 0h1m1 0h2m13 0h2m2 0h1m14 0h1m5 0h1m2 0h1m11 0h1m4 0h3m5 0h2m6 0h1M347 308.5h3m16 0h3m14 0h1m14 0h1m6 0h1m24 0h1m2 0h1m1 0h1m2 0h1m1 0h2m13 0h2m17 0h1m1 0h2m2 0h1m4 0h1m3 0h2m4 0h1m3 0h1m1 0h2m1 0h1m3 0h2m6 0h1M345 309.5h1m1 0h1m11 0h1m7 0h2m14 0h1m13 0h2m31 0h2m1 0h1m1 0h1m4 0h2m8 0h1m5 0h1m17 0h4m1 0h2m4 0h1m3 0h2m4 0h1m5 0h2m1 0h1M345 310.5h3m11 0h1m7 0h2m14 0h2m13 0h1m26 0h1m1 0h1m3 0h1m1 0h1m1 0h1m3 0h2m9 0h1m3 0h1m12 0h1m7 0h6m4 0h1m3 0h2m10 0h2m1 0h1m10 0h1M345 311.5h1m1 0h1m4 0h2m5 0h1m7 0h2m8 0h1m4 0h3m13 0h1m13 0h1m14 0h1m3 0h1m1 0h1m5 0h2m13 0h1m13 0h1m7 0h1m2 0h2m8 0h1m4 0h1m4 0h1m1 0h2m1 0h2m1 0h1m1 0h1m5 0h1M345 312.5h1m5 0h3m5 0h1m7 0h2m8 0h1m2 0h1m1 0h3m27 0h2m16 0h1m1 0h2m5 0h1m28 0h2m6 0h1m3 0h1m8 0h1m9 0h1m1 0h2m1 0h2m1 0h1m1 0h1m1 0h1m3 0h1M345 313.5h1m4 0h4m4 0h1m8 0h2m8 0h1m2 0h1m3 0h3m25 0h2m7 0h1m8 0h1m1 0h2m8 0h1m25 0h2m6 0h1m3 0h1m8 0h1m6 0h1m2 0h1m1 0h1m2 0h6m1 0h1m3 0h1M349 314.5h5m4 0h1m8 0h2m4 0h1m6 0h1m3 0h3m26 0h1m18 0h2m8 0h1m15 0h1m9 0h1m7 0h1m3 0h2m4 0h1m5 0h1m3 0h1m7 0h5m2 0h1m3 0h1M348 315.5h6m4 0h1m4 0h1m4 0h1m4 0h1m6 0h1m4 0h2m9 0h1m7 0h1m8 0h1m3 0h1m19 0h1m4 0h1m25 0h1m11 0h2m3 0h1m10 0h1m8 0h2m1 0h2m1 0h1m4 0h2M348 316.5h1m1 0h4m1 0h1m9 0h2m6 0h1m5 0h2m15 0h1m7 0h1m8 0h1m3 0h1m19 0h1m32 0h1m2 0h1m6 0h2m20 0h1m5 0h4m2 0h1m2 0h1M347 317.5h2m1 0h4m1 0h1m9 0h2m4 0h1m1 0h1m4 0h3m1 0h1m1 0h1m11 0h1m6 0h3m1 0h1m1 0h1m3 0h1m3 0h1m1 0h1m3 0h1m13 0h1m18 0h1m10 0h1m2 0h1m2 0h1m28 0h1m5 0h3m3 0h1m2 0h1M345 318.5h1m1 0h1m2 0h4m11 0h2m4 0h1m1 0h1m4 0h1m4 0h2m11 0h1m7 0h2m1 0h1m1 0h1m7 0h3m8 0h1m4 0h1m2 0h1m2 0h1m16 0h1m7 0h1m2 0h1m2 0h1m2 0h1m26 0h4m4 0h3m3 0h1M347 319.5h1m2 0h3m13 0h1m4 0h1m6 0h1m5 0h1m19 0h2m11 0h1m10 0h1m4 0h1m2 0h1m2 0h1m16 0h1m7 0h1m2 0h1m12 0h2m5 0h3m10 0h2m1 0h1m4 0h1m1 0h1M347 320.5h1m1 0h1m1 0h2m1 0h1m11 0h1m7 0h1m9 0h1m12 0h1m30 0h1m4 0h1m2 0h1m14 0h1m12 0h1m2 0h1m10 0h1m1 0h2m4 0h4m1 0h1m9 0h1m1 0h1m4 0h1M349 321.5h1m1 0h1m2 0h1m11 0h1m7 0h1m22 0h1m35 0h1m9 0h1m7 0h1m12 0h1m15 0h2m3 0h2m1 0h1m2 0h1m9 0h1m1 0h2m10 0h1M345 322.5h1m3 0h1m4 0h1m11 0h1m7 0h1m22 0h1m45 0h1m5 0h1m1 0h1m19 0h1m1 0h1m6 0h2m3 0h1m2 0h1m1 0h2m5 0h1m5 0h2M345 323.5h2m27 0h1m22 0h1m34 0h1m10 0h1m1 0h1m3 0h1m15 0h1m5 0h1m1 0h1m6 0h2m3 0h1m4 0h2m5 0h1m5 0h4m2 0h1m2 0h1M345 324.5h3m4 0h1m44 0h1m12 0h1m18 0h1m2 0h1m12 0h1m3 0h1m15 0h1m4 0h2m1 0h1m6 0h2m3 0h1m2 0h1m2 0h1m5 0h1m5 0h4m2 0h1m2 0h1m3 0h1M345 325.5h3m49 0h2m26 0h1m3 0h1m2 0h1m9 0h1m2 0h2m18 0h1m6 0h3m6 0h1m2 0h3m1 0h1m8 0h1m2 0h1m2 0h4m5 0h1m3 0h2M346 326.5h2m2 0h1m18 0h1m1 0h1m13 0h2m2 0h1m7 0h2m1 0h1m1 0h1m13 0h1m8 0h1m3 0h1m2 0h1m2 0h1m9 0h2m7 0h1m17 0h1m11 0h3m1 0h1m11 0h1m1 0h4m6 0h1m1 0h1m1 0h2M350 327.5h1m18 0h3m7 0h1m5 0h2m2 0h1m7 0h1m3 0h2m9 0h1m12 0h1m6 0h1m2 0h1m3 0h2m5 0h1m7 0h1m17 0h1m13 0h3m11 0h1m1 0h1m1 0h2m2 0h1m3 0h1m1 0h1m1 0h2M350 328.5h2m15 0h1m1 0h1m9 0h1m5 0h2m12 0h1m1 0h2m9 0h1m12 0h1m9 0h1m4 0h1m22 0h1m24 0h2m12 0h1m5 0h1m3 0h6M350 329.5h2m15 0h1m1 0h1m7 0h1m2 0h1m4 0h2m12 0h1m1 0h2m1 0h1m20 0h1m9 0h1m7 0h1m1 0h1m9 0h1m5 0h1m1 0h1m24 0h1m1 0h1m11 0h1m5 0h1m4 0h5M346 330.5h1m3 0h2m12 0h1m4 0h1m7 0h1m2 0h1m4 0h2m14 0h2m1 0h3m15 0h1m2 0h1m9 0h1m7 0h1m1 0h1m3 0h1m5 0h1m5 0h1m1 0h1m5 0h1m10 0h1m7 0h1m1 0h1m1 0h1m1 0h1m13 0h1m5 0h4M346 331.5h1m4 0h1m17 0h1m7 0h1m2 0h1m4 0h1m16 0h1m2 0h2m14 0h2m2 0h1m9 0h1m9 0h1m3 0h1m5 0h1m3 0h3m1 0h1m16 0h1m11 0h1m19 0h1m1 0h3M346 332.5h1m1 0h1m2 0h1m28 0h1m4 0h1m35 0h2m2 0h1m9 0h1m13 0h1m5 0h1m3 0h1m14 0h1m5 0h1m2 0h1m8 0h1m19 0h1m1 0h2M346 333.5h1m33 0h1m4 0h1m33 0h1m1 0h1m2 0h2m9 0h1m13 0h1m5 0h1m3 0h1m17 0h1m2 0h1m2 0h1m2 0h1m5 0h1m21 0h1M419 334.5h1m4 0h2m2 0h1m6 0h2m9 0h1m12 0h1m16 0h2m2 0h1m2 0h1m2 0h1m24 0h1m1 0h1M379 335.5h2m17 0h1m10 0h1m5 0h1m3 0h1m5 0h1m2 0h1m30 0h1m16 0h5m5 0h1m20 0h2m4 0h1M380 336.5h1m12 0h1m15 0h1m5 0h1m3 0h1m5 0h1m6 0h1m12 0h1m13 0h1m4 0h1m11 0h4m6 0h1m11 0h1m2 0h1m5 0h2M354 337.5h1m34 0h1m3 0h1m16 0h1m4 0h1m3 0h1m5 0h1m6 0h1m10 0h1m1 0h1m6 0h1m6 0h1m4 0h2m10 0h3m5 0h1m1 0h1m20 0h1m9 0h1M362 338.5h1m15 0h1m10 0h1m3 0h1m6 0h1m14 0h1m3 0h2m4 0h1m6 0h1m5 0h1m4 0h1m15 0h1m4 0h1m11 0h3m5 0h1m1 0h1m13 0h1m6 0h1m3 0h1m3 0h2M362 339.5h1m7 0h1m7 0h1m10 0h1m3 0h1m6 0h1m4 0h1m9 0h1m3 0h2m4 0h2m11 0h1m25 0h1m1 0h1m4 0h1m3 0h4m4 0h2m1 0h1m8 0h1m4 0h1m6 0h1m3 0h1m3 0h2M370 340.5h1m3 0h1m3 0h1m3 0h1m5 0h1m5 0h1m4 0h2m19 0h1m4 0h2m39 0h1m4 0h1m2 0h2m1 0h1m8 0h1m8 0h1m4 0h1m6 0h1m7 0h2M354 341.5h1m3 0h2m12 0h1m1 0h2m2 0h1m3 0h1m11 0h1m4 0h1m13 0h1m6 0h1m5 0h1m39 0h1m4 0h2m1 0h2m1 0h1m8 0h1m8 0h2m1 0h1m1 0h1m6 0h1m7 0h2M350 342.5h1m2 0h2m2 0h3m12 0h1m1 0h2m6 0h1m11 0h1m9 0h1m8 0h1m52 0h1m4 0h2m1 0h1m2 0h1m11 0h1m3 0h1m2 0h1m1 0h1m1 0h1m6 0h2M350 343.5h1m2 0h2m2 0h3m1 0h1m1 0h1m8 0h1m2 0h2m5 0h1m21 0h1m8 0h3m5 0h1m31 0h1m10 0h1m1 0h1m22 0h1m3 0h1m4 0h1m9 0h1M350 344.5h1m6 0h1m1 0h1m1 0h3m8 0h1m2 0h2m36 0h3m5 0h1m25 0h2m3 0h1m11 0h1m1 0h1m17 0h1m8 0h1m14 0h1M350 345.5h1m8 0h1m2 0h2m11 0h3m15 0h1m19 0h3m5 0h1m19 0h1m6 0h1m9 0h1m5 0h1m19 0h1m7 0h2M350 346.5h1m8 0h1m3 0h1m5 0h1m6 0h2m14 0h2m4 0h1m15 0h2m2 0h1m13 0h1m8 0h1m22 0h1m15 0h2m2 0h1m4 0h1m2 0h2m7 0h1M350 347.5h1m8 0h1m3 0h1m9 0h1m2 0h2m14 0h1m7 0h1m13 0h2m25 0h2m37 0h2m7 0h4m8 0h2m10 0h1m1 0h1M345 348.5h1m4 0h1m8 0h1m13 0h1m3 0h1m14 0h1m7 0h1m10 0h1m29 0h2m38 0h1m7 0h5m6 0h8m1 0h1m3 0h3M345 349.5h1m4 0h1m8 0h1m32 0h1m7 0h1m10 0h1m1 0h1m8 0h1m19 0h1m40 0h1m4 0h7m3 0h12m1 0h1m3 0h2M345 350.5h1m4 0h1m5 0h1m19 0h1m23 0h2m2 0h1m8 0h1m50 0h1m10 0h1m3 0h1m3 0h1m1 0h2m1 0h2m2 0h4m3 0h14m2 0h2M345 351.5h1m4 0h1m5 0h1m18 0h2m23 0h2m1 0h2m8 0h1m12 0h1m19 0h1m28 0h1m1 0h1m1 0h1m2 0h5m1 0h2m2 0h4m1 0h1m1 0h14m2 0h2M345 352.5h1m4 0h1m5 0h1m43 0h3m1 0h1m20 0h2m3 0h1m7 0h1m7 0h1m2 0h1m18 0h1m6 0h5m2 0h4m2 0h3m1 0h2m2 0h17m2 0h3M345 353.5h1m6 0h1m2 0h1m45 0h1m24 0h2m3 0h1m6 0h1m6 0h2m2 0h1m22 0h1m3 0h4m2 0h4m2 0h3m1 0h2m2 0h16m3 0h3M351 354.5h2m2 0h1m62 0h1m7 0h2m10 0h1m6 0h1m3 0h1m3 0h1m18 0h1m3 0h4m2 0h4m2 0h1m1 0h4m2 0h4m1 0h3m1 0h6m2 0h5M351 355.5h2m13 0h1m41 0h1m9 0h2m18 0h1m6 0h1m2 0h1m4 0h1m14 0h1m2 0h2m3 0h3m5 0h2m2 0h3m1 0h2m2 0h4m1 0h3m1 0h6m2 0h5M348 356.5h2m1 0h3m11 0h2m20 0h1m3 0h1m12 0h1m3 0h1m10 0h1m28 0h1m4 0h1m14 0h2m14 0h3m2 0h2m1 0h2m2 0h8m1 0h11M349 357.5h1m1 0h3m11 0h1m21 0h1m3 0h1m16 0h1m1 0h1m19 0h1m17 0h1m19 0h1m5 0h1m7 0h1m1 0h1m1 0h1m2 0h2m1 0h2m2 0h14m1 0h5M349 358.5h1m1 0h3m11 0h1m21 0h2m8 0h1m10 0h1m1 0h1m2 0h1m4 0h1m10 0h2m39 0h1m3 0h1m6 0h2m1 0h1m1 0h1m2 0h2m1 0h2m2 0h14m1 0h4M345 359.5h1m14 0h1m17 0h1m8 0h2m5 0h1m2 0h1m6 0h1m5 0h2m1 0h1m3 0h2m9 0h4m38 0h1m3 0h1m6 0h1m2 0h1m1 0h5m1 0h2m2 0h6m1 0h1m1 0h2m1 0h7m1 0h1M345 360.5h1m11 0h1m28 0h3m8 0h1m6 0h1m5 0h1m2 0h1m3 0h1m3 0h1m6 0h4m42 0h1m6 0h1m4 0h5m1 0h2m2 0h6m1 0h1m1 0h2m1 0h7m1 0h2M345 361.5h1m11 0h1m28 0h3m8 0h1m3 0h1m2 0h1m5 0h1m2 0h1m7 0h2m5 0h2m1 0h1m39 0h1m1 0h2m6 0h1m4 0h5m1 0h2m2 0h6m1 0h4m1 0h2m1 0h4m1 0h2M357 362.5h1m8 0h1m19 0h3m8 0h1m3 0h1m2 0h1m8 0h1m7 0h2m5 0h2m1 0h1m39 0h1m1 0h2m5 0h2m2 0h1m1 0h5m1 0h2m2 0h4m1 0h6m1 0h2m1 0h4m1 0h2" stroke="#fff" stroke-width="1" fill="none"/>
<path d="M371 247.5h1m11 0h1m5 0h3m6 0h1m36 0h1m17 0h1m2 0h1m8 0h1m6 0h1m21 0h1m7 0h1m2 0h1M348 248.5h1m30 0h1m6 0h1m26 0h1m19 0h1m32 0h2m16 0h1m1 0h1m3 0h1m26 0h1M377 249.5h1m6 0h1m23 0h1m3 0h1m14 0h3m6 0h1m12 0h1m13 0h1m16 0h1m5 0h1m9 0h1m5 0h1m3 0h1M397 250.5h1m5 0h1m41 0h1m2 0h1m18 0h1m4 0h1m8 0h1m19 0h1m15 0h1M392 251.5h1m17 0h1m1 0h1m20 0h1m14 0h1m1 0h1m2 0h1m9 0h2m3 0h1m3 0h1m9 0h1m7 0h1m6 0h1m8 0h3m5 0h1M345 252.5h1m20 0h1m14 0h1m1 0h1m10 0h1m5 0h1m1 0h1m49 0h1m11 0h1m17 0h1m4 0h1m8 0h1m19 0h1M356 253.5h1m26 0h1m25 0h1m3 0h1m42 0h1m7 0h1m2 0h1m14 0h1m7 0h2m1 0h1m8 0h1m4 0h1m6 0h1M388 254.5h1m3 0h1m7 0h2m39 0h1m15 0h1m13 0h2m2 0h1m1 0h2m14 0h2m1 0h1m10 0h1M384 255.5h1m8 0h1m2 0h1m6 0h1m18 0h1m10 0h1m3 0h1m49 0h1m6 0h1M348 256.5h1m41 0h1m7 0h1m2 0h2m12 0h1m15 0h1m6 0h2m5 0h3m40 0h2m10 0h1m3 0h2m9 0h1M385 257.5h1m20 0h1m27 0h1m2 0h1m4 0h1m30 0h1m10 0h1m8 0h1m1 0h1m17 0h1M428 258.5h1m2 0h1m3 0h1m4 0h1m36 0h1m13 0h1m13 0h1m4 0h1m3 0h1M379 259.5h2m5 0h2m6 0h2m2 0h1m13 0h1m23 0h1m33 0h1m12 0h2M355 260.5h1m4 0h1m6 0h1m15 0h2m10 0h1m2 0h1m3 0h1m2 0h1m14 0h1m14 0h2m5 0h2m63 0h1m3 0h1M356 261.5h1m22 0h1m23 0h1m18 0h1m2 0h1m6 0h1m5 0h1m1 0h1m21 0h1m47 0h1M385 262.5h1m1 0h1m12 0h1m23 0h1m5 0h1m57 0h2M396 263.5h1m45 0h3m64 0h1M345 264.5h1m50 0h1m16 0h1m2 0h1m6 0h1m4 0h1m4 0h1m11 0h1m4 0h1m41 0h1M414 265.5h1m4 0h1m2 0h1m2 0h1m2 0h1m13 0h4m62 0h1M373 266.5h1m14 0h2m3 0h2m8 0h1m30 0h1m7 0h1m1 0h1m2 0h1m56 0h1m3 0h1m1 0h1M374 267.5h1m7 0h1m10 0h1m6 0h1m14 0h1m6 0h1m7 0h1m2 0h1m5 0h1m40 0h1m32 0h1m1 0h2M351 268.5h1m1 0h1m24 0h1m4 0h1m4 0h1m5 0h1m5 0h1m5 0h1m2 0h1m7 0h1m61 0h1m36 0h1M350 269.5h1m9 0h1m6 0h1m7 0h1m3 0h1m4 0h1m1 0h1m5 0h2m4 0h1m16 0h1m15 0h1m1 0h1m10 0h1m32 0h1M369 270.5h1m19 0h1m2 0h1m7 0h1m4 0h1m2 0h1m15 0h1m26 0h1m1 0h1m16 0h1m14 0h1m5 0h1M366 271.5h1m22 0h1m16 0h1m1 0h2m5 0h1m7 0h1m10 0h1m18 0h1m1 0h1m11 0h1m23 0h1M353 272.5h1m10 0h1m1 0h1m22 0h1m1 0h1m12 0h1m1 0h1m8 0h1m9 0h1m3 0h1m6 0h1m5 0h1m5 0h1m34 0h2m2 0h1m9 0h1M356 273.5h1m22 0h1m2 0h1m5 0h1m2 0h1m10 0h1m27 0h1m16 0h1m42 0h1M376 274.5h1m2 0h1m8 0h1m6 0h1m1 0h1m10 0h1m1 0h1m12 0h1m9 0h1m9 0h1m3 0h1m9 0h1m28 0h1m2 0h2M364 275.5h1m21 0h1m9 0h1m10 0h1m2 0h1m4 0h1m4 0h3m7 0h1m10 0h2m16 0h1m26 0h1m19 0h1M365 276.5h2m8 0h1m14 0h1m23 0h1m4 0h1m7 0h1m5 0h1m7 0h2m16 0h2m23 0h1m19 0h1m2 0h1M365 277.5h1m31 0h1m2 0h1m3 0h1m2 0h1m7 0h1m11 0h1m13 0h2m17 0h1m10 0h1m8 0h1m5 0h2m23 0h1M365 278.5h1m23 0h1m16 0h1m8 0h1m6 0h1m17 0h1m12 0h1m14 0h1M392 279.5h1m20 0h1m17 0h1m1 0h1m18 0h1m15 0h1m16 0h2m7 0h1m19 0h1m1 0h1M346 280.5h1m32 0h2m3 0h1m1 0h2m22 0h2m16 0h1m5 0h1m5 0h1m18 0h2m6 0h3m18 0h1m10 0h1m8 0h1m1 0h1m3 0h1M371 281.5h1m7 0h2m1 0h2m3 0h1m5 0h1m23 0h1m25 0h1m13 0h1m9 0h1m17 0h1m2 0h1m14 0h1m6 0h1m1 0h1m3 0h1M367 282.5h1m10 0h1m4 0h1m4 0h1m12 0h1m3 0h1m12 0h3m17 0h1m6 0h1m24 0h1m1 0h1m2 0h1m3 0h2m4 0h1M363 283.5h1m2 0h2m3 0h1m18 0h1m6 0h1m1 0h2m11 0h1m10 0h1m21 0h1m1 0h1m2 0h1m18 0h1m10 0h1m4 0h1m1 0h1m25 0h1m3 0h1M349 284.5h1m20 0h1m3 0h1m4 0h1m7 0h1m3 0h1m3 0h1m5 0h1m10 0h1m15 0h1m17 0h1m6 0h1m19 0h2m21 0h1m5 0h1m9 0h2M349 285.5h1m10 0h1m13 0h1m9 0h1m4 0h1m8 0h1m3 0h1m3 0h2m25 0h1m4 0h3m5 0h1m3 0h1m2 0h2m1 0h1m6 0h1m4 0h1m1 0h1m1 0h1m7 0h1m3 0h2m16 0h2m1 0h1M359 286.5h1m12 0h1m7 0h1m1 0h1m5 0h2m3 0h1m4 0h1m2 0h1m10 0h1m14 0h1m7 0h1m4 0h2m8 0h1m5 0h2m10 0h1m3 0h1m4 0h2m2 0h1m7 0h1m10 0h1m13 0h1M364 287.5h1m3 0h1m7 0h1m6 0h1m5 0h1m13 0h1m11 0h1m17 0h2m11 0h1m10 0h1m2 0h1m7 0h1m13 0h1m4 0h1m10 0h1m1 0h1m4 0h1m1 0h1m4 0h1m4 0h1M352 288.5h1m15 0h1m9 0h1m5 0h1m14 0h1m1 0h1m6 0h1m8 0h1m21 0h1m2 0h1m12 0h1m3 0h1m1 0h1m16 0h1m19 0h1m5 0h1M371 289.5h1m7 0h1m12 0h1m42 0h2m2 0h1m7 0h1m4 0h1m8 0h1m8 0h1m5 0h1m14 0h1m8 0h1m5 0h1M369 290.5h1m14 0h1m16 0h1m5 0h1m3 0h1m12 0h1m10 0h1m6 0h1m3 0h1m14 0h1m17 0h1m24 0h1m4 0h1m3 0h1M359 291.5h1m11 0h1m4 0h1m7 0h1m5 0h1m15 0h1m1 0h1m2 0h2m2 0h1m11 0h1m9 0h1m16 0h1m17 0h1m1 0h1m3 0h1m13 0h1m15 0h2m5 0h1M356 292.5h1m2 0h3m5 0h1m8 0h1m11 0h1m10 0h1m5 0h1m2 0h1m5 0h1m2 0h1m24 0h1m10 0h1m7 0h1m15 0h3m6 0h1m10 0h1M356 293.5h1m5 0h1m2 0h2m10 0h1m3 0h1m8 0h1m18 0h1m13 0h1m10 0h1m13 0h1m3 0h2m7 0h1m3 0h1m31 0h1m6 0h1m2 0h1M362 294.5h1m14 0h1m13 0h3m15 0h1m8 0h1m6 0h1m1 0h1m3 0h1m5 0h1m7 0h1m12 0h1m2 0h1m8 0h1m6 0h1m20 0h1m6 0h1M388 295.5h1m38 0h1m10 0h1m5 0h1m17 0h1m2 0h1m13 0h1m3 0h1m16 0h1m3 0h1m9 0h1M360 296.5h1m1 0h1m23 0h3m9 0h1m21 0h1m17 0h1m3 0h1m3 0h2m19 0h1m20 0h1m4 0h1m3 0h1m1 0h2m6 0h1m6 0h1M355 297.5h1m3 0h2m3 0h1m3 0h4m2 0h2m11 0h1m33 0h1m6 0h1m2 0h1m6 0h1m1 0h1m16 0h2m10 0h1m9 0h1m1 0h1M355 298.5h1m12 0h1m4 0h1m4 0h1m7 0h1m6 0h1m11 0h1m9 0h2m15 0h1m26 0h1m2 0h1m10 0h2m5 0h1m23 0h1m9 0h1M354 299.5h2m23 0h1m24 0h1m19 0h1m12 0h1m10 0h1m1 0h1m24 0h1m17 0h1m2 0h1m1 0h1m1 0h1m2 0h1M358 300.5h1m13 0h1m22 0h1m17 0h1m19 0h1m8 0h1m15 0h3m22 0h1m1 0h1m7 0h2m2 0h1m8 0h1M353 301.5h1m9 0h1m18 0h1m6 0h1m7 0h1m2 0h1m8 0h1m10 0h1m24 0h1m4 0h1m1 0h1m2 0h1m1 0h3m7 0h1m11 0h1m5 0h1m8 0h1m1 0h1m5 0h1m9 0h1M346 302.5h1m11 0h1m21 0h1m5 0h1m11 0h1m8 0h1m4 0h1m6 0h2m26 0h1m28 0h1m2 0h2m8 0h1m3 0h2m1 0h1m4 0h2m5 0h1M353 303.5h1m19 0h1m5 0h1m12 0h1m4 0h1m3 0h1m5 0h1m7 0h2m2 0h1m18 0h1m16 0h1m5 0h1m9 0h1m5 0h1m11 0h1m13 0h1m9 0h2M352 304.5h1m6 0h1m1 0h1m6 0h2m8 0h1m5 0h1m5 0h1m12 0h1m41 0h1m3 0h2m25 0h2m4 0h1m3 0h1m2 0h2m9 0h1M346 305.5h1m7 0h1m13 0h1m6 0h2m6 0h3m13 0h1m32 0h1m4 0h1m2 0h1m5 0h1m1 0h2m13 0h1m1 0h1m10 0h1m1 0h1m7 0h1m10 0h1m8 0h2M359 306.5h1m3 0h1m19 0h2m2 0h1m11 0h1m6 0h1m9 0h1m28 0h1m2 0h1m26 0h2m19 0h1m10 0h1M350 307.5h1m6 0h2m1 0h1m14 0h1m6 0h1m4 0h1m9 0h1m10 0h1m12 0h1m1 0h1m2 0h1m10 0h1m12 0h3m50 0h1m3 0h1m6 0h1M360 308.5h1m1 0h1m34 0h1m15 0h1m4 0h2m3 0h1m8 0h1m4 0h1m4 0h1m7 0h2m16 0h1m6 0h1m20 0h2m9 0h1m3 0h2M356 309.5h1m13 0h1m13 0h1m1 0h1m2 0h1m3 0h1m13 0h1m10 0h2m1 0h1m7 0h1m23 0h1m16 0h1m7 0h1m26 0h3M349 310.5h1m6 0h1m12 0h2m3 0h4m4 0h1m5 0h1m1 0h1m8 0h3m19 0h1m7 0h1m11 0h1m4 0h1m2 0h1m3 0h1m16 0h1m10 0h1m9 0h1m13 0h2m1 0h1M355 311.5h1m23 0h2m18 0h1m17 0h1m7 0h1m10 0h1m1 0h1m5 0h1m1 0h2m10 0h1m14 0h1m11 0h1m9 0h1m7 0h1m7 0h1M376 312.5h1m20 0h2m17 0h1m4 0h1m15 0h1m2 0h1m15 0h1m5 0h2m7 0h1m9 0h1m21 0h1m6 0h1M374 313.5h1m7 0h1m6 0h1m9 0h1m14 0h1m22 0h1m1 0h1m6 0h1m14 0h1m4 0h1m3 0h1m1 0h2m5 0h1m1 0h2m8 0h1m2 0h1m18 0h1M347 314.5h1m28 0h1m1 0h1m2 0h1m26 0h1m3 0h1m1 0h1m4 0h1m7 0h1m6 0h1m5 0h1m6 0h1m2 0h1m12 0h1m2 0h1m12 0h1m7 0h1m9 0h1m2 0h1m2 0h1M355 315.5h1m1 0h1m8 0h1m3 0h1m8 0h1m9 0h1m1 0h1m1 0h1m3 0h1m2 0h1m18 0h1m12 0h2m6 0h1m9 0h2m11 0h1m2 0h1m8 0h1m3 0h1m2 0h1m3 0h1m2 0h1m1 0h1m5 0h1m1 0h1M374 316.5h2m10 0h1m29 0h1m16 0h1m2 0h1m2 0h1m12 0h2m8 0h1m9 0h1m4 0h1m7 0h4m12 0h1m3 0h2M374 317.5h1m10 0h1m1 0h2m10 0h2m15 0h1m5 0h1m17 0h1m3 0h1m13 0h1m20 0h2m9 0h2m3 0h1m17 0h1M354 318.5h1m5 0h1m13 0h1m4 0h1m2 0h1m15 0h1m7 0h1m1 0h1m12 0h1m5 0h1m20 0h1m2 0h1m14 0h1m4 0h1m22 0h1m11 0h1m6 0h1m2 0h2M360 319.5h1m16 0h1m4 0h1m9 0h2m1 0h1m6 0h1m6 0h2m1 0h1m14 0h1m3 0h1m2 0h1m31 0h1m2 0h1m36 0h1M357 320.5h1m3 0h2m4 0h1m17 0h1m12 0h2m2 0h1m15 0h1m12 0h1m3 0h1m1 0h1m2 0h1m18 0h1m1 0h1m13 0h2m15 0h1m13 0h1M347 321.5h1m9 0h1m4 0h1m12 0h1m7 0h1m1 0h1m3 0h1m1 0h2m13 0h1m7 0h1m1 0h1m10 0h1m3 0h1m3 0h1m1 0h2m3 0h1m1 0h2m17 0h1m3 0h1m11 0h1m12 0h2m2 0h2m12 0h1M346 322.5h1m13 0h1m1 0h1m37 0h1m2 0h1m6 0h1m13 0h2m21 0h2m1 0h1m5 0h1m37 0h2M356 323.5h1m2 0h3m11 0h1m1 0h1m25 0h1m2 0h1m9 0h1m8 0h2m9 0h1m44 0h1m4 0h1m23 0h1M360 324.5h1m12 0h2m6 0h1m1 0h1m1 0h1m26 0h1m5 0h1m3 0h1m5 0h1m5 0h1m11 0h1m3 0h1m10 0h1m38 0h1m10 0h1M355 325.5h2m11 0h1m4 0h1m1 0h1m24 0h1m4 0h1m3 0h1m10 0h1m31 0h1m4 0h1m33 0h1M349 326.5h1m2 0h1m21 0h1m13 0h1m3 0h2m12 0h1m5 0h1m15 0h1m19 0h2M366 327.5h2m4 0h1m1 0h2m6 0h1m30 0h2m3 0h1m9 0h2m13 0h1m13 0h3m3 0h1m7 0h1m6 0h2m23 0h1m5 0h2m4 0h1M345 328.5h1m15 0h1m14 0h1m12 0h1m19 0h2m2 0h3m1 0h1m19 0h1m5 0h1m11 0h2m24 0h1m3 0h2m14 0h1M358 329.5h1m14 0h1m1 0h2m21 0h1m4 0h1m2 0h1m3 0h1m4 0h1m15 0h1m10 0h1m6 0h1m28 0h1m13 0h1M365 330.5h1m10 0h1m4 0h1m10 0h1m3 0h2m5 0h1m3 0h1m7 0h2m6 0h1m6 0h1m1 0h2m36 0h1m10 0h1m3 0h1m13 0h1m5 0h2M362 331.5h1m20 0h1m8 0h3m2 0h1m19 0h1m1 0h2m6 0h1m9 0h1m28 0h1m9 0h1m5 0h1m2 0h1m18 0h1m2 0h1m2 0h1M389 332.5h1m3 0h3m5 0h1m3 0h1m1 0h1m12 0h1m6 0h1m1 0h1m4 0h1m1 0h1m1 0h1m21 0h1m7 0h3m23 0h1m2 0h1m11 0h3m5 0h1M392 333.5h1m3 0h1m13 0h1m27 0h1m30 0h1m8 0h1m15 0h1m2 0h2m9 0h2m2 0h1m4 0h1M351 334.5h1m35 0h1m1 0h1m2 0h1m1 0h1m2 0h1m12 0h1m3 0h2m22 0h1m5 0h1m8 0h1m7 0h1m9 0h1m1 0h1m17 0h1m4 0h1m1 0h1m2 0h1M355 335.5h1m28 0h1m2 0h1m9 0h1m1 0h1m12 0h1m4 0h1m14 0h1m11 0h1m1 0h1m9 0h1m9 0h1m2 0h1m12 0h1m2 0h1m24 0h1m6 0h1M375 336.5h1m3 0h1m1 0h1m21 0h1m13 0h1m8 0h1m14 0h1m53 0h1M379 337.5h3m2 0h1m1 0h1m8 0h1m18 0h1m32 0h1m3 0h1m2 0h1m2 0h1m2 0h2m6 0h1m3 0h1m24 0h1m3 0h1m9 0h1M371 338.5h1m8 0h1m2 0h1m3 0h1m23 0h1m6 0h1m7 0h1m4 0h1m22 0h1m3 0h1m16 0h1m5 0h1m12 0h1m11 0h1m10 0h1M383 339.5h1m1 0h1m24 0h1m6 0h2m9 0h1m11 0h1m7 0h1m12 0h1m5 0h1m17 0h1m1 0h1m1 0h2m5 0h1m8 0h1M372 340.5h1m8 0h1m5 0h1m7 0h1m12 0h1m1 0h1m6 0h1m45 0h1m5 0h1m27 0h1m6 0h1M346 341.5h1m8 0h2m14 0h1m17 0h1m2 0h1m5 0h1m5 0h1m3 0h1m47 0h2m4 0h1m5 0h2m3 0h1m11 0h1m8 0h1m19 0h1M387 342.5h1m8 0h2m18 0h1m1 0h1m2 0h1m10 0h2m2 0h2m10 0h1m1 0h1m3 0h2m4 0h2m35 0h1m11 0h1m3 0h2m1 0h1M388 343.5h1m12 0h1m17 0h1m14 0h2m1 0h2m1 0h1m6 0h1m24 0h1M345 344.5h1m49 0h1m5 0h1m1 0h1m30 0h1m3 0h2m14 0h1m19 0h1m3 0h1m3 0h1m3 0h1m7 0h1m3 0h1m13 0h1M397 345.5h1m12 0h1m16 0h1m6 0h1m1 0h1m1 0h1m15 0h1m1 0h1m11 0h1m9 0h1m8 0h1m2 0h1m16 0h1M383 346.5h1m5 0h1m9 0h1m24 0h1m5 0h1m4 0h1m6 0h1m3 0h1m1 0h2m18 0h1m2 0h1m26 0h1m10 0h2M370 347.5h1m36 0h1m15 0h1m2 0h1m3 0h1m17 0h1m4 0h1m7 0h1m1 0h2m4 0h1m8 0h1m31 0h1m3 0h1M372 348.5h1m18 0h1m10 0h1m3 0h1m3 0h1m12 0h1m6 0h1m2 0h1m4 0h1m4 0h1m7 0h1m6 0h1m4 0h2m20 0h1m10 0h1m1 0h1M396 349.5h1m4 0h2m14 0h1m12 0h1m6 0h1m13 0h1m3 0h1m2 0h1m13 0h3m11 0h1m9 0h1M346 350.5h1m55 0h1m9 0h1m27 0h2m8 0h2m3 0h3m10 0h1m4 0h1m3 0h1M391 351.5h1m1 0h1m11 0h1m21 0h1m4 0h1m4 0h2m27 0h1m1 0h1m9 0h1M348 352.5h1m29 0h1m13 0h1m4 0h2m16 0h2m26 0h1m3 0h1m8 0h1m3 0h1m8 0h1m2 0h1m1 0h1M385 353.5h1m7 0h1m10 0h3m6 0h1m16 0h1m10 0h1m6 0h1m5 0h1M374 354.5h1m4 0h1m19 0h1m1 0h1m13 0h2m3 0h1m19 0h1m39 0h1M349 355.5h1m17 0h1m2 0h1m20 0h1m3 0h1m5 0h1m23 0h2m14 0h1m1 0h1m5 0h1m6 0h1m5 0h1M369 356.5h1m12 0h1m34 0h1m27 0h1m10 0h1m2 0h1m2 0h1m4 0h1m5 0h1m1 0h1M358 357.5h1m30 0h1m10 0h1m11 0h1m19 0h1m1 0h1m6 0h1m8 0h1m12 0h1M350 358.5h1m13 0h1m2 0h1m16 0h1m4 0h1m9 0h1m5 0h1m22 0h1m13 0h1m3 0h3m1 0h1m28 0h1M379 359.5h1m25 0h1m9 0h1m19 0h1m5 0h1m3 0h1m1 0h1m13 0h1m18 0h1M364 360.5h1m10 0h1m14 0h1m41 0h1m2 0h1m1 0h1m1 0h1m10 0h1m7 0h1m10 0h1m5 0h1M385 361.5h1m14 0h1m15 0h2m1 0h1m15 0h1m34 0h1M376 362.5h1m4 0h1m3 0h1m12 0h1m3 0h1m5 0h1m7 0h1m21 0h2m25 0h1m4 0h1" stroke="#2d0ce1" stroke-width="1" fill="none"/>
</g></g>
<rect x="483.00" y="345.20" width="36.30" height="18.30" fill="#fff"/>
<text x="486.70" y="356.20" class="sb">25 µm</text>
<rect x="487.50" y="359.10" width="23.30" height="2.60" fill="#000"/>
<rect x="202.60" y="4.40" width="133.00" height="106.70" fill="url(#bg)"/>
<rect x="202.60" y="4.40" width="133.00" height="106.70" fill="none" stroke="#7a7a7a" stroke-width="1"/>
<rect x="207.10" y="99.79" width="35.5" height="10.96" fill="#1400ff" stroke="#3030a0" stroke-width="0.4"/>
<text x="224.85" y="97.79" class="v" text-anchor="middle">10.6</text>
<rect x="251.60" y="108.52" width="35.5" height="2.23" fill="#eeee22" stroke="#c8c830" stroke-width="0.3"/>
<text x="269.35" y="106.52" class="v" text-anchor="middle">2.42</text>
<rect x="296.10" y="18.29" width="35.5" height="92.46" fill="#ff1c0c" stroke="#b02010" stroke-width="0.4"/>
<text x="313.85" y="16.29" class="v" text-anchor="middle">86.98</text>
<line x1="202.60" y1="111.10" x2="204.60" y2="111.10" stroke="#555" stroke-width="0.8"/>
<text x="200.20" y="114.30" class="t" text-anchor="end">0</text>
<line x1="202.60" y1="100.43" x2="204.10" y2="100.43" stroke="#555" stroke-width="0.8"/>
<line x1="202.60" y1="89.76" x2="204.60" y2="89.76" stroke="#555" stroke-width="0.8"/>
<text x="200.20" y="92.96" class="t" text-anchor="end">20</text>
<line x1="202.60" y1="79.09" x2="204.10" y2="79.09" stroke="#555" stroke-width="0.8"/>
<line x1="202.60" y1="68.42" x2="204.60" y2="68.42" stroke="#555" stroke-width="0.8"/>
<text x="200.20" y="71.62" class="t" text-anchor="end">40</text>
<line x1="202.60" y1="57.75" x2="204.10" y2="57.75" stroke="#555" stroke-width="0.8"/>
<line x1="202.60" y1="47.08" x2="204.60" y2="47.08" stroke="#555" stroke-width="0.8"/>
<text x="200.20" y="50.28" class="t" text-anchor="end">60</text>
<line x1="202.60" y1="36.41" x2="204.10" y2="36.41" stroke="#555" stroke-width="0.8"/>
<line x1="202.60" y1="25.74" x2="204.60" y2="25.74" stroke="#555" stroke-width="0.8"/>
<text x="200.20" y="28.94" class="t" text-anchor="end">80</text>
<line x1="202.60" y1="15.07" x2="204.10" y2="15.07" stroke="#555" stroke-width="0.8"/>
<line x1="202.60" y1="4.40" x2="204.60" y2="4.40" stroke="#555" stroke-width="0.8"/>
<text x="200.20" y="7.60" class="t" text-anchor="end">100</text>
<rect x="214.90" y="31.40" width="7.4" height="5.9" fill="#1400ff" stroke="#888" stroke-width="0.5"/>
<text x="225.00" y="37.60" class="l">Recrystallized</text>
<rect x="214.90" y="41.40" width="7.4" height="5.9" fill="#eeee22" stroke="#888" stroke-width="0.5"/>
<text x="225.00" y="47.60" class="l">Sub-structured</text>
<rect x="214.90" y="51.40" width="7.4" height="5.9" fill="#ff1c0c" stroke="#888" stroke-width="0.5"/>
<text x="225.00" y="57.60" class="l">Deformed</text>
<text x="205.80" y="71.70" class="r">Recrystallized: 10.6%</text>
<text x="206.30" y="18.50" class="pl">a</text>
<text x="218.00" y="23.60" class="ps">2</text>
<text x="182.40" y="56.70" class="yt" text-anchor="middle" transform="rotate(-90 182.40 56.70)" dy="4.0">Fraction (%)</text>
<rect x="202.50" y="127.50" width="133.00" height="106.60" fill="url(#bg)"/>
<rect x="202.50" y="127.50" width="133.00" height="106.60" fill="none" stroke="#7a7a7a" stroke-width="1"/>
<rect x="207.00" y="223.23" width="35.5" height="10.52" fill="#1400ff" stroke="#3030a0" stroke-width="0.4"/>
<text x="224.75" y="221.23" class="v" text-anchor="middle">10.2</text>
<rect x="251.50" y="232.13" width="35.5" height="1.62" fill="#eeee22" stroke="#c8c830" stroke-width="0.3"/>
<text x="269.25" y="230.13" class="v" text-anchor="middle">1.85</text>
<rect x="296.00" y="140.35" width="35.5" height="93.40" fill="#ff1c0c" stroke="#b02010" stroke-width="0.4"/>
<text x="313.75" y="138.35" class="v" text-anchor="middle">87.95</text>
<line x1="202.50" y1="234.10" x2="204.50" y2="234.10" stroke="#555" stroke-width="0.8"/>
<text x="200.10" y="237.30" class="t" text-anchor="end">0</text>
<line x1="202.50" y1="223.44" x2="204.00" y2="223.44" stroke="#555" stroke-width="0.8"/>
<line x1="202.50" y1="212.78" x2="204.50" y2="212.78" stroke="#555" stroke-width="0.8"/>
<text x="200.10" y="215.98" class="t" text-anchor="end">20</text>
<line x1="202.50" y1="202.12" x2="204.00" y2="202.12" stroke="#555" stroke-width="0.8"/>
<line x1="202.50" y1="191.46" x2="204.50" y2="191.46" stroke="#555" stroke-width="0.8"/>
<text x="200.10" y="194.66" class="t" text-anchor="end">40</text>
<line x1="202.50" y1="180.80" x2="204.00" y2="180.80" stroke="#555" stroke-width="0.8"/>
<line x1="202.50" y1="170.14" x2="204.50" y2="170.14" stroke="#555" stroke-width="0.8"/>
<text x="200.10" y="173.34" class="t" text-anchor="end">60</text>
<line x1="202.50" y1="159.48" x2="204.00" y2="159.48" stroke="#555" stroke-width="0.8"/>
<line x1="202.50" y1="148.82" x2="204.50" y2="148.82" stroke="#555" stroke-width="0.8"/>
<text x="200.10" y="152.02" class="t" text-anchor="end">80</text>
<line x1="202.50" y1="138.16" x2="204.00" y2="138.16" stroke="#555" stroke-width="0.8"/>
<line x1="202.50" y1="127.50" x2="204.50" y2="127.50" stroke="#555" stroke-width="0.8"/>
<text x="200.10" y="130.70" class="t" text-anchor="end">100</text>
<rect x="214.80" y="154.50" width="7.4" height="5.9" fill="#1400ff" stroke="#888" stroke-width="0.5"/>
<text x="224.90" y="160.70" class="l">Recrystallized</text>
<rect x="214.80" y="164.50" width="7.4" height="5.9" fill="#eeee22" stroke="#888" stroke-width="0.5"/>
<text x="224.90" y="170.70" class="l">Sub-structured</text>
<rect x="214.80" y="174.50" width="7.4" height="5.9" fill="#ff1c0c" stroke="#888" stroke-width="0.5"/>
<text x="224.90" y="180.70" class="l">Deformed</text>
<text x="205.70" y="199.80" class="r">Recrystallized: 10.2%</text>
<text x="206.50" y="145.40" class="pl">b</text>
<text x="219.40" y="150.50" class="ps">2</text>
<text x="182.30" y="179.80" class="yt" text-anchor="middle" transform="rotate(-90 182.30 179.80)" dy="4.0">Fraction (%)</text>
<rect x="202.40" y="255.40" width="133.00" height="106.10" fill="url(#bg)"/>
<rect x="202.40" y="255.40" width="133.00" height="106.10" fill="none" stroke="#7a7a7a" stroke-width="1"/>
<rect x="206.90" y="351.43" width="35.5" height="9.72" fill="#1400ff" stroke="#3030a0" stroke-width="0.4"/>
<text x="224.65" y="349.43" class="v" text-anchor="middle">9.49</text>
<rect x="251.40" y="356.73" width="35.5" height="4.42" fill="#eeee22" stroke="#c8c830" stroke-width="0.3"/>
<text x="269.15" y="354.73" class="v" text-anchor="middle">4.5</text>
<rect x="295.90" y="270.24" width="35.5" height="90.91" fill="#ff1c0c" stroke="#b02010" stroke-width="0.4"/>
<text x="313.65" y="268.24" class="v" text-anchor="middle">86.01</text>
<line x1="202.40" y1="361.50" x2="204.40" y2="361.50" stroke="#555" stroke-width="0.8"/>
<text x="200.00" y="364.70" class="t" text-anchor="end">0</text>
<line x1="202.40" y1="350.89" x2="203.90" y2="350.89" stroke="#555" stroke-width="0.8"/>
<line x1="202.40" y1="340.28" x2="204.40" y2="340.28" stroke="#555" stroke-width="0.8"/>
<text x="200.00" y="343.48" class="t" text-anchor="end">20</text>
<line x1="202.40" y1="329.67" x2="203.90" y2="329.67" stroke="#555" stroke-width="0.8"/>
<line x1="202.40" y1="319.06" x2="204.40" y2="319.06" stroke="#555" stroke-width="0.8"/>
<text x="200.00" y="322.26" class="t" text-anchor="end">40</text>
<line x1="202.40" y1="308.45" x2="203.90" y2="308.45" stroke="#555" stroke-width="0.8"/>
<line x1="202.40" y1="297.84" x2="204.40" y2="297.84" stroke="#555" stroke-width="0.8"/>
<text x="200.00" y="301.04" class="t" text-anchor="end">60</text>
<line x1="202.40" y1="287.23" x2="203.90" y2="287.23" stroke="#555" stroke-width="0.8"/>
<line x1="202.40" y1="276.62" x2="204.40" y2="276.62" stroke="#555" stroke-width="0.8"/>
<text x="200.00" y="279.82" class="t" text-anchor="end">80</text>
<line x1="202.40" y1="266.01" x2="203.90" y2="266.01" stroke="#555" stroke-width="0.8"/>
<line x1="202.40" y1="255.40" x2="204.40" y2="255.40" stroke="#555" stroke-width="0.8"/>
<text x="200.00" y="258.60" class="t" text-anchor="end">100</text>
<rect x="214.70" y="282.40" width="7.4" height="5.9" fill="#1400ff" stroke="#888" stroke-width="0.5"/>
<text x="224.80" y="288.60" class="l">Recrystallized</text>
<rect x="214.70" y="292.40" width="7.4" height="5.9" fill="#eeee22" stroke="#888" stroke-width="0.5"/>
<text x="224.80" y="298.60" class="l">Sub-structured</text>
<rect x="214.70" y="302.40" width="7.4" height="5.9" fill="#ff1c0c" stroke="#888" stroke-width="0.5"/>
<text x="224.80" y="308.60" class="l">Deformed</text>
<text x="205.60" y="327.80" class="r">Recrystallized: 9.49%</text>
<text x="206.20" y="271.70" class="pl">c</text>
<text x="216.60" y="277.50" class="ps">2</text>
<text x="182.20" y="307.70" class="yt" text-anchor="middle" transform="rotate(-90 182.20 307.70)" dy="4.0">Fraction (%)</text>
<rect x="551.50" y="4.40" width="133.00" height="106.80" fill="url(#bg)"/>
<rect x="551.50" y="4.40" width="133.00" height="106.80" fill="none" stroke="#7a7a7a" stroke-width="1"/>
<rect x="556.00" y="88.56" width="35.5" height="22.29" fill="#1400ff" stroke="#3030a0" stroke-width="0.4"/>
<text x="573.75" y="86.56" class="v" text-anchor="middle">21.2</text>
<rect x="600.50" y="109.06" width="35.5" height="1.79" fill="#eeee22" stroke="#c8c830" stroke-width="0.3"/>
<text x="618.25" y="107.06" class="v" text-anchor="middle">2</text>
<rect x="645.00" y="29.18" width="35.5" height="81.67" fill="#ff1c0c" stroke="#b02010" stroke-width="0.4"/>
<text x="662.75" y="27.18" class="v" text-anchor="middle">76.8</text>
<line x1="551.50" y1="111.20" x2="553.50" y2="111.20" stroke="#555" stroke-width="0.8"/>
<text x="549.10" y="114.40" class="t" text-anchor="end">0</text>
<line x1="551.50" y1="100.52" x2="553.00" y2="100.52" stroke="#555" stroke-width="0.8"/>
<line x1="551.50" y1="89.84" x2="553.50" y2="89.84" stroke="#555" stroke-width="0.8"/>
<text x="549.10" y="93.04" class="t" text-anchor="end">20</text>
<line x1="551.50" y1="79.16" x2="553.00" y2="79.16" stroke="#555" stroke-width="0.8"/>
<line x1="551.50" y1="68.48" x2="553.50" y2="68.48" stroke="#555" stroke-width="0.8"/>
<text x="549.10" y="71.68" class="t" text-anchor="end">40</text>
<line x1="551.50" y1="57.80" x2="553.00" y2="57.80" stroke="#555" stroke-width="0.8"/>
<line x1="551.50" y1="47.12" x2="553.50" y2="47.12" stroke="#555" stroke-width="0.8"/>
<text x="549.10" y="50.32" class="t" text-anchor="end">60</text>
<line x1="551.50" y1="36.44" x2="553.00" y2="36.44" stroke="#555" stroke-width="0.8"/>
<line x1="551.50" y1="25.76" x2="553.50" y2="25.76" stroke="#555" stroke-width="0.8"/>
<text x="549.10" y="28.96" class="t" text-anchor="end">80</text>
<line x1="551.50" y1="15.08" x2="553.00" y2="15.08" stroke="#555" stroke-width="0.8"/>
<line x1="551.50" y1="4.40" x2="553.50" y2="4.40" stroke="#555" stroke-width="0.8"/>
<text x="549.10" y="7.60" class="t" text-anchor="end">100</text>
<rect x="563.80" y="31.40" width="7.4" height="5.9" fill="#1400ff" stroke="#888" stroke-width="0.5"/>
<text x="573.90" y="37.60" class="l">Recrystallized</text>
<rect x="563.80" y="41.40" width="7.4" height="5.9" fill="#eeee22" stroke="#888" stroke-width="0.5"/>
<text x="573.90" y="47.60" class="l">Sub-structured</text>
<rect x="563.80" y="51.40" width="7.4" height="5.9" fill="#ff1c0c" stroke="#888" stroke-width="0.5"/>
<text x="573.90" y="57.60" class="l">Deformed</text>
<text x="554.70" y="72.00" class="r">Recrystallized: 21.2%</text>
<text x="559.10" y="18.50" class="pl">a</text>
<text x="570.70" y="24.30" class="ps">4</text>
<text x="531.30" y="56.70" class="yt" text-anchor="middle" transform="rotate(-90 531.30 56.70)" dy="4.0">Fraction (%)</text>
<rect x="551.70" y="127.60" width="133.00" height="106.60" fill="url(#bg)"/>
<rect x="551.70" y="127.60" width="133.00" height="106.60" fill="none" stroke="#7a7a7a" stroke-width="1"/>
<rect x="556.20" y="218.00" width="35.5" height="15.85" fill="#1400ff" stroke="#3030a0" stroke-width="0.4"/>
<text x="573.95" y="216.00" class="v" text-anchor="middle">15.2</text>
<rect x="600.70" y="233.06" width="35.5" height="0.79" fill="#eeee22" stroke="#c8c830" stroke-width="0.3"/>
<text x="618.45" y="231.06" class="v" text-anchor="middle">1.07</text>
<rect x="645.20" y="144.94" width="35.5" height="88.91" fill="#ff1c0c" stroke="#b02010" stroke-width="0.4"/>
<text x="662.95" y="142.94" class="v" text-anchor="middle">83.73</text>
<line x1="551.70" y1="234.20" x2="553.70" y2="234.20" stroke="#555" stroke-width="0.8"/>
<text x="549.30" y="237.40" class="t" text-anchor="end">0</text>
<line x1="551.70" y1="223.54" x2="553.20" y2="223.54" stroke="#555" stroke-width="0.8"/>
<line x1="551.70" y1="212.88" x2="553.70" y2="212.88" stroke="#555" stroke-width="0.8"/>
<text x="549.30" y="216.08" class="t" text-anchor="end">20</text>
<line x1="551.70" y1="202.22" x2="553.20" y2="202.22" stroke="#555" stroke-width="0.8"/>
<line x1="551.70" y1="191.56" x2="553.70" y2="191.56" stroke="#555" stroke-width="0.8"/>
<text x="549.30" y="194.76" class="t" text-anchor="end">40</text>
<line x1="551.70" y1="180.90" x2="553.20" y2="180.90" stroke="#555" stroke-width="0.8"/>
<line x1="551.70" y1="170.24" x2="553.70" y2="170.24" stroke="#555" stroke-width="0.8"/>
<text x="549.30" y="173.44" class="t" text-anchor="end">60</text>
<line x1="551.70" y1="159.58" x2="553.20" y2="159.58" stroke="#555" stroke-width="0.8"/>
<line x1="551.70" y1="148.92" x2="553.70" y2="148.92" stroke="#555" stroke-width="0.8"/>
<text x="549.30" y="152.12" class="t" text-anchor="end">80</text>
<line x1="551.70" y1="138.26" x2="553.20" y2="138.26" stroke="#555" stroke-width="0.8"/>
<line x1="551.70" y1="127.60" x2="553.70" y2="127.60" stroke="#555" stroke-width="0.8"/>
<text x="549.30" y="130.80" class="t" text-anchor="end">100</text>
<rect x="564.00" y="154.60" width="7.4" height="5.9" fill="#1400ff" stroke="#888" stroke-width="0.5"/>
<text x="574.10" y="160.80" class="l">Recrystallized</text>
<rect x="564.00" y="164.60" width="7.4" height="5.9" fill="#eeee22" stroke="#888" stroke-width="0.5"/>
<text x="574.10" y="170.80" class="l">Sub-structured</text>
<rect x="564.00" y="174.60" width="7.4" height="5.9" fill="#ff1c0c" stroke="#888" stroke-width="0.5"/>
<text x="574.10" y="180.80" class="l">Deformed</text>
<text x="554.90" y="199.50" class="r">Recrystallized: 15.2%</text>
<text x="557.50" y="145.80" class="pl">b</text>
<text x="570.70" y="150.90" class="ps">4</text>
<text x="531.50" y="179.90" class="yt" text-anchor="middle" transform="rotate(-90 531.50 179.90)" dy="4.0">Fraction (%)</text>
<rect x="552.30" y="257.30" width="133.00" height="106.20" fill="url(#bg)"/>
<rect x="552.30" y="257.30" width="133.00" height="106.20" fill="none" stroke="#7a7a7a" stroke-width="1"/>
<rect x="556.80" y="351.61" width="35.5" height="11.54" fill="#1400ff" stroke="#3030a0" stroke-width="0.4"/>
<text x="574.55" y="349.61" class="v" text-anchor="middle">11.2</text>
<rect x="601.30" y="360.66" width="35.5" height="2.49" fill="#eeee22" stroke="#c8c830" stroke-width="0.3"/>
<text x="619.05" y="358.66" class="v" text-anchor="middle">2.67</text>
<rect x="645.80" y="272.03" width="35.5" height="91.12" fill="#ff1c0c" stroke="#b02010" stroke-width="0.4"/>
<text x="663.55" y="270.03" class="v" text-anchor="middle">86.13</text>
<line x1="552.30" y1="363.50" x2="554.30" y2="363.50" stroke="#555" stroke-width="0.8"/>
<text x="549.90" y="366.70" class="t" text-anchor="end">0</text>
<line x1="552.30" y1="352.88" x2="553.80" y2="352.88" stroke="#555" stroke-width="0.8"/>
<line x1="552.30" y1="342.26" x2="554.30" y2="342.26" stroke="#555" stroke-width="0.8"/>
<text x="549.90" y="345.46" class="t" text-anchor="end">20</text>
<line x1="552.30" y1="331.64" x2="553.80" y2="331.64" stroke="#555" stroke-width="0.8"/>
<line x1="552.30" y1="321.02" x2="554.30" y2="321.02" stroke="#555" stroke-width="0.8"/>
<text x="549.90" y="324.22" class="t" text-anchor="end">40</text>
<line x1="552.30" y1="310.40" x2="553.80" y2="310.40" stroke="#555" stroke-width="0.8"/>
<line x1="552.30" y1="299.78" x2="554.30" y2="299.78" stroke="#555" stroke-width="0.8"/>
<text x="549.90" y="302.98" class="t" text-anchor="end">60</text>
<line x1="552.30" y1="289.16" x2="553.80" y2="289.16" stroke="#555" stroke-width="0.8"/>
<line x1="552.30" y1="278.54" x2="554.30" y2="278.54" stroke="#555" stroke-width="0.8"/>
<text x="549.90" y="281.74" class="t" text-anchor="end">80</text>
<line x1="552.30" y1="267.92" x2="553.80" y2="267.92" stroke="#555" stroke-width="0.8"/>
<line x1="552.30" y1="257.30" x2="554.30" y2="257.30" stroke="#555" stroke-width="0.8"/>
<text x="549.90" y="260.50" class="t" text-anchor="end">100</text>
<rect x="564.60" y="284.30" width="7.4" height="5.9" fill="#1400ff" stroke="#888" stroke-width="0.5"/>
<text x="574.70" y="290.50" class="l">Recrystallized</text>
<rect x="564.60" y="294.30" width="7.4" height="5.9" fill="#eeee22" stroke="#888" stroke-width="0.5"/>
<text x="574.70" y="300.50" class="l">Sub-structured</text>
<rect x="564.60" y="304.30" width="7.4" height="5.9" fill="#ff1c0c" stroke="#888" stroke-width="0.5"/>
<text x="574.70" y="310.50" class="l">Deformed</text>
<text x="555.50" y="327.90" class="r">Recrystallized: 11.2%</text>
<text x="559.30" y="272.50" class="pl">c</text>
<text x="569.80" y="278.00" class="ps">4</text>
<text x="532.10" y="309.60" class="yt" text-anchor="middle" transform="rotate(-90 532.10 309.60)" dy="4.0">Fraction (%)</text>
<text x="11.00" y="17.80" class="ml">a</text>
<text x="23.40" y="24.10" class="ms1">1</text>
<text x="11.30" y="145.00" class="ml">b</text>
<text x="23.60" y="151.00" class="ms1">1</text>
<text x="11.20" y="267.80" class="ml">c</text>
<text x="21.00" y="273.00" class="ms1">1</text>
<text x="354.50" y="18.50" class="ml">a</text>
<text x="365.70" y="24.30" class="ms">3</text>
<text x="356.00" y="145.00" class="ml">b</text>
<text x="368.10" y="150.50" class="ms">3</text>
<text x="355.50" y="265.90" class="ml">c</text>
<text x="365.30" y="271.40" class="ms">3</text>
<text x="68.9" y="381.9" class="cap">Before stress relaxation</text>
<text x="435.6" y="382.2" class="cap">After stress relaxation</text>
</svg>
</body></html>
